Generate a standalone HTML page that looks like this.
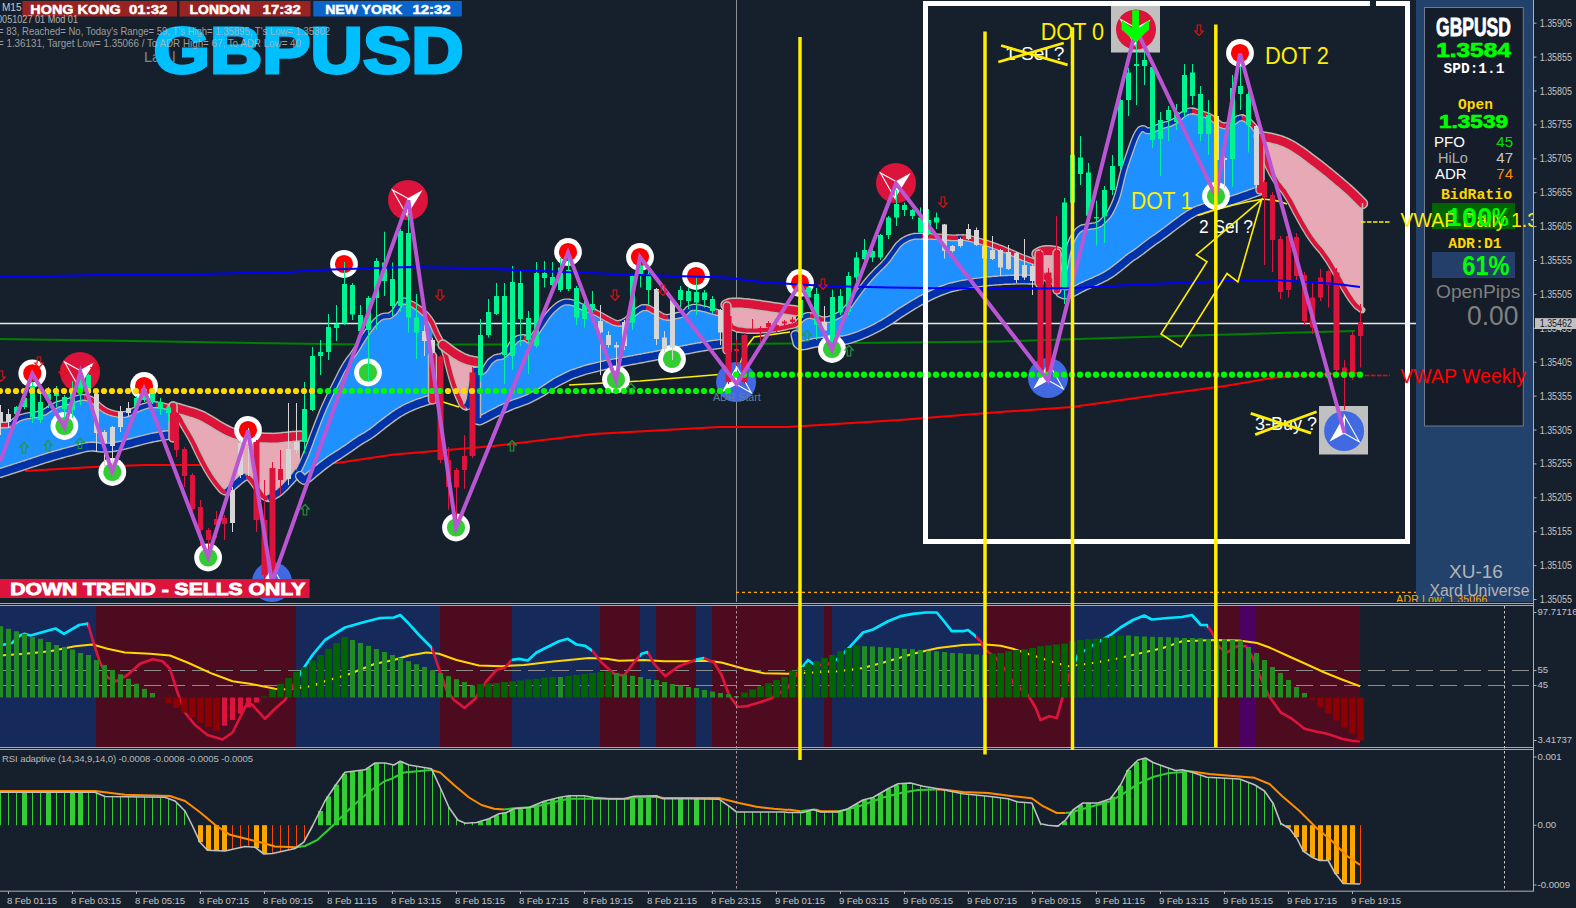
<!DOCTYPE html>
<html><head><meta charset="utf-8"><title>GBPUSD M15</title>
<style>html,body{margin:0;padding:0;background:#16202c;overflow:hidden}svg{display:block}text{white-space:pre}</style>
</head><body>
<svg width="1576" height="908" viewBox="0 0 1576 908">
<rect width="1576" height="908" fill="#16202c"/>
<rect x="1416" y="0" width="117" height="603" fill="#23426b"/>
<rect x="1424.5" y="7.5" width="98.8" height="418.5" fill="#141d29" stroke="#6f7c8a" stroke-width="1"/>
<line x1="0" y1="323.5" x2="1416" y2="323.5" stroke="#e8e8e8" stroke-width="1.3"/>
<line x1="736.5" y1="0" x2="736.5" y2="603" stroke="#8a8f96" stroke-width="1"/>
<line x1="736" y1="592.4" x2="1416" y2="592.4" stroke="#ffaa00" stroke-width="1.1" stroke-dasharray="3,3"/>
<polyline points="0.0,339.0 132.0,341.0 287.0,343.5 363.0,344.5 500.0,344.5 730.0,344.0 850.0,343.0 1000.0,341.5 1175.0,336.0 1355.0,331.0" fill="none" stroke="#008000" stroke-width="2"/>
<polyline points="25.0,471.0 93.0,467.0 145.0,465.0 197.0,465.0 300.0,464.0 337.0,463.0 394.0,454.5 494.0,446.0 594.0,434.0 719.0,427.0 788.0,427.0 900.0,420.0 1000.0,412.0 1072.0,407.0 1150.0,396.0 1225.0,386.0 1275.0,377.5 1325.0,374.0 1360.0,373.0" fill="none" stroke="#ff0000" stroke-width="2"/>
<polygon points="0.0,425.0 2.0,425.0 4.0,425.0 6.0,425.0 8.0,424.8 10.0,424.1 12.0,423.3 14.0,421.6 16.0,420.1 18.0,418.9 20.0,417.9 22.0,417.1 24.0,416.6 26.0,416.1 28.0,415.8 30.0,415.4 32.0,415.2 34.0,414.9 36.0,414.7 38.0,414.4 40.0,413.7 42.0,412.9 44.0,412.2 46.0,411.2 48.0,409.8 50.0,408.5 52.0,407.1 54.0,406.2 56.0,405.2 58.0,404.2 60.0,403.8 62.0,403.2 64.0,402.8 66.0,402.1 68.0,401.5 70.0,400.9 72.0,400.2 74.0,399.5 76.0,398.8 78.0,398.2 80.0,397.7 82.0,397.4 84.0,397.4 86.0,397.6 88.0,398.1 90.0,398.9 92.0,399.9 94.0,401.2 96.0,403.0 98.0,405.0 100.0,406.6 102.0,408.2 104.0,409.5 106.0,410.8 108.0,411.6 110.0,412.5 112.0,413.1 114.0,413.7 116.0,414.0 118.0,414.3 120.0,414.5 122.0,414.5 124.0,414.5 126.0,414.2 128.0,413.7 130.0,412.8 132.0,411.6 134.0,410.6 136.0,409.7 138.0,408.8 140.0,407.9 142.0,407.1 144.0,406.4 146.0,405.8 148.0,405.1 150.0,404.9 152.0,404.7 154.0,404.7 156.0,404.8 158.0,404.9 160.0,405.2 162.0,405.5 164.0,406.0 166.0,406.5 168.0,407.0 170.0,407.4 172.0,408.0 174.0,409.8 174.0,435.0 172.0,435.0 170.0,435.0 168.0,435.1 166.0,435.3 164.0,435.6 162.0,435.9 160.0,436.2 158.0,436.6 156.0,436.9 154.0,437.3 152.0,437.7 150.0,438.2 148.0,438.6 146.0,439.1 144.0,439.6 142.0,440.1 140.0,440.6 138.0,441.2 136.0,441.7 134.0,442.2 132.0,442.8 130.0,443.3 128.0,443.8 126.0,444.3 124.0,444.9 122.0,445.4 120.0,445.8 118.0,446.2 116.0,446.6 114.0,446.9 112.0,447.2 110.0,447.4 108.0,447.5 106.0,447.7 104.0,447.6 102.0,447.6 100.0,447.5 98.0,447.2 96.0,446.9 94.0,446.6 92.0,446.6 90.0,446.7 88.0,446.9 86.0,447.1 84.0,447.6 82.0,448.1 80.0,448.7 78.0,449.2 76.0,449.7 74.0,450.3 72.0,450.8 70.0,451.3 68.0,451.9 66.0,452.4 64.0,452.9 62.0,453.5 60.0,454.0 58.0,454.6 56.0,455.1 54.0,455.7 52.0,456.3 50.0,456.9 48.0,457.5 46.0,458.1 44.0,458.7 42.0,459.4 40.0,460.0 38.0,460.7 36.0,461.4 34.0,462.0 32.0,462.7 30.0,463.3 28.0,464.0 26.0,464.7 24.0,465.3 22.0,466.0 20.0,466.6 18.0,467.3 16.0,467.9 14.0,468.5 12.0,469.2 10.0,469.8 8.0,470.5 6.0,471.1 4.0,471.7 2.0,472.4 0.0,473.0" fill="#1e90ff"/>
<polygon points="300.0,467.5 302.0,463.4 304.0,458.9 306.0,454.1 308.0,449.0 310.0,443.8 312.0,438.2 314.0,432.9 316.0,427.7 318.0,422.5 320.0,417.5 322.0,412.5 324.0,407.9 326.0,403.4 328.0,399.0 330.0,395.0 332.0,391.0 334.0,387.0 336.0,383.0 338.0,379.0 340.0,375.0 342.0,371.0 344.0,367.5 346.0,364.2 348.0,361.1 350.0,358.5 352.0,355.9 354.0,353.0 356.0,350.0 358.0,346.9 360.0,343.5 362.0,340.1 364.0,337.0 366.0,334.0 368.0,331.1 370.0,328.5 372.0,325.9 374.0,323.6 376.0,321.3 378.0,319.4 380.0,317.7 382.0,316.9 384.0,316.2 386.0,316.0 388.0,316.0 390.0,315.6 392.0,314.0 394.0,312.4 396.0,309.6 398.0,306.4 400.0,303.5 402.0,301.7 404.0,300.8 406.0,301.6 408.0,302.5 410.0,303.3 412.0,304.2 414.0,305.2 416.0,306.6 418.0,308.0 420.0,309.4 422.0,311.1 424.0,312.9 426.0,314.6 428.0,317.1 430.0,319.8 432.0,322.9 432.5,324.1 432.5,399.0 432.0,399.1 430.0,399.6 428.0,400.2 426.0,400.8 424.0,401.5 422.0,402.2 420.0,402.8 418.0,403.5 416.0,404.3 414.0,405.1 412.0,405.9 410.0,406.8 408.0,407.7 406.0,408.6 404.0,409.6 402.0,410.8 400.0,412.0 398.0,413.2 396.0,414.5 394.0,415.9 392.0,417.4 390.0,418.9 388.0,420.3 386.0,421.9 384.0,423.4 382.0,424.9 380.0,426.5 378.0,428.1 376.0,429.7 374.0,431.3 372.0,432.7 370.0,434.1 368.0,435.5 366.0,436.7 364.0,437.8 362.0,438.9 360.0,440.2 358.0,441.5 356.0,442.8 354.0,444.2 352.0,445.6 350.0,447.1 348.0,448.5 346.0,449.8 344.0,451.2 342.0,452.5 340.0,453.8 338.0,455.1 336.0,456.4 334.0,457.6 332.0,458.9 330.0,460.2 328.0,461.7 326.0,463.1 324.0,464.6 322.0,466.1 320.0,467.8 318.0,469.4 316.0,471.1 314.0,472.7 312.0,474.4 310.0,476.0 308.0,477.7 306.0,479.3 304.0,479.8 302.0,478.5 300.0,476.0" fill="#1e90ff"/>
<polygon points="477.5,369.8 479.5,371.0 481.5,372.0 483.5,370.7 485.5,368.4 487.5,365.2 489.5,362.0 491.5,360.4 493.5,358.9 495.5,357.5 497.5,357.2 499.5,356.8 501.5,356.5 503.5,355.1 505.5,353.4 507.5,351.8 509.5,348.4 511.5,344.9 513.5,342.3 515.5,340.4 517.5,338.5 519.5,338.1 521.5,337.7 523.5,337.7 525.5,338.1 527.5,339.5 529.5,340.2 531.5,338.9 533.5,336.8 535.5,333.8 537.5,330.8 539.5,327.8 541.5,324.8 543.5,321.8 545.5,318.8 547.5,315.8 549.5,313.5 551.5,311.2 553.5,309.1 555.5,307.4 557.5,305.8 559.5,304.3 561.5,303.4 563.5,302.5 565.5,302.0 567.5,302.0 569.5,302.0 571.5,302.5 573.5,303.0 575.5,303.8 577.5,304.8 579.5,305.8 581.5,306.6 583.5,307.5 585.5,308.3 587.5,309.1 589.5,309.9 591.5,310.7 593.5,311.6 595.5,312.6 597.5,313.5 599.5,314.6 601.5,315.8 603.5,317.0 605.5,318.1 607.5,319.2 609.5,320.2 611.5,321.2 613.5,322.2 615.5,322.9 617.5,323.2 619.5,323.4 621.5,322.9 623.5,322.2 625.5,320.8 627.5,319.5 629.5,317.5 631.5,315.5 633.5,313.7 635.5,312.1 637.5,310.5 639.5,309.3 641.5,308.1 643.5,307.5 645.5,307.6 647.5,307.7 649.5,308.6 651.5,309.8 653.5,311.0 655.5,312.1 657.5,313.4 659.5,314.6 661.5,315.8 663.5,316.8 665.5,317.2 667.5,317.5 669.5,317.1 671.5,316.7 673.5,316.3 675.5,315.9 677.5,315.4 679.5,315.0 681.5,314.6 683.5,313.4 685.5,312.2 687.5,309.9 689.5,308.4 691.5,307.8 693.5,307.3 695.5,307.5 697.5,307.6 699.5,307.9 701.5,308.2 703.5,308.6 705.5,309.1 707.5,309.7 709.5,310.3 711.5,310.9 713.5,311.5 715.5,312.0 717.5,312.5 719.5,312.9 720.0,313.0 720.0,344.0 719.5,344.1 717.5,344.3 715.5,344.6 713.5,344.8 711.5,345.1 709.5,345.4 707.5,345.8 705.5,346.1 703.5,346.4 701.5,346.8 699.5,347.1 697.5,347.4 695.5,347.8 693.5,348.2 691.5,348.6 689.5,349.0 687.5,349.4 685.5,349.7 683.5,350.1 681.5,350.5 679.5,350.9 677.5,351.3 675.5,351.7 673.5,352.1 671.5,352.5 669.5,352.9 667.5,353.3 665.5,353.7 663.5,354.1 661.5,354.5 659.5,354.9 657.5,355.3 655.5,355.7 653.5,356.1 651.5,356.4 649.5,356.8 647.5,357.2 645.5,357.6 643.5,358.0 641.5,358.4 639.5,358.7 637.5,359.1 635.5,359.5 633.5,359.9 631.5,360.2 629.5,360.6 627.5,361.0 625.5,361.3 623.5,361.7 621.5,362.1 619.5,362.4 617.5,362.8 615.5,363.1 613.5,363.5 611.5,363.9 609.5,364.2 607.5,364.6 605.5,365.0 603.5,365.5 601.5,365.9 599.5,366.4 597.5,366.9 595.5,367.4 593.5,367.8 591.5,368.3 589.5,368.8 587.5,369.3 585.5,369.8 583.5,370.5 581.5,371.2 579.5,371.8 577.5,372.5 575.5,373.2 573.5,373.8 571.5,374.5 569.5,375.5 567.5,376.5 565.5,377.5 563.5,378.5 561.5,379.5 559.5,380.5 557.5,381.5 555.5,382.7 553.5,384.0 551.5,385.3 549.5,386.7 547.5,388.0 545.5,389.3 543.5,390.7 541.5,392.0 539.5,393.0 537.5,394.1 535.5,395.1 533.5,396.1 531.5,397.2 529.5,398.2 527.5,399.2 525.5,400.0 523.5,400.8 521.5,401.5 519.5,402.2 517.5,402.9 515.5,403.6 513.5,404.3 511.5,405.1 509.5,406.0 507.5,406.9 505.5,407.7 503.5,408.6 501.5,409.4 499.5,410.4 497.5,411.5 495.5,412.5 493.5,413.5 491.5,414.6 489.5,415.6 487.5,416.7 485.5,417.7 483.5,418.8 481.5,419.8 479.5,420.5 477.5,420.0" fill="#1e90ff"/>
<polygon points="795.5,324.7 797.5,322.9 799.5,321.0 801.5,319.0 803.5,317.3 805.5,316.3 807.5,315.5 809.5,315.5 811.5,315.6 813.5,316.2 815.5,316.8 817.5,317.8 819.5,318.8 821.5,319.6 823.5,319.7 825.5,319.8 827.5,319.8 829.5,319.1 831.5,318.4 833.5,317.7 835.5,316.8 837.5,315.8 839.5,314.7 841.5,313.2 843.5,311.8 845.5,309.7 847.5,307.5 849.5,305.1 851.5,302.2 853.5,299.4 855.5,296.7 857.5,293.9 859.5,291.2 861.5,288.6 863.5,285.9 865.5,283.3 867.5,280.9 869.5,278.5 871.5,276.3 873.5,274.2 875.5,272.1 877.5,270.1 879.5,268.1 881.5,266.2 883.5,264.4 885.5,262.1 887.5,259.8 889.5,257.0 891.5,254.2 893.5,251.4 895.5,248.6 897.5,245.9 899.5,243.8 901.5,242.1 903.5,240.6 905.5,239.5 907.5,238.4 909.5,237.6 911.5,237.0 913.5,236.4 915.5,236.3 917.5,236.2 919.5,236.1 921.5,236.2 923.5,236.2 925.5,236.2 927.5,236.3 929.5,236.4 931.5,236.5 933.5,236.6 935.5,236.7 937.5,236.8 939.5,236.9 941.5,237.0 943.5,237.1 945.5,237.3 947.5,237.4 949.5,237.6 951.5,237.7 953.5,237.8 955.5,237.8 957.5,237.9 959.5,237.8 961.5,237.7 963.5,237.7 965.5,237.9 967.5,238.1 969.5,238.5 971.5,239.0 973.5,239.5 975.5,240.1 977.5,240.6 979.5,241.2 981.5,241.7 983.5,242.3 985.5,242.8 987.5,243.5 989.5,244.1 991.5,244.8 993.5,245.5 995.5,246.2 997.5,247.0 999.5,247.8 1001.5,248.5 1003.5,249.3 1005.5,250.2 1007.5,251.0 1009.5,251.8 1011.5,252.7 1013.5,253.6 1015.5,254.5 1017.5,255.4 1019.5,256.3 1021.5,257.1 1023.5,257.9 1025.5,258.6 1027.5,259.4 1029.5,260.1 1031.5,260.8 1033.5,261.5 1035.5,262.2 1037.5,263.7 1038.0,264.3 1038.0,280.0 1037.5,280.0 1035.5,279.8 1033.5,279.6 1031.5,279.6 1029.5,279.6 1027.5,279.5 1025.5,279.5 1023.5,279.5 1021.5,279.5 1019.5,279.5 1017.5,279.5 1015.5,279.5 1013.5,279.6 1011.5,279.7 1009.5,279.8 1007.5,279.9 1005.5,279.9 1003.5,280.0 1001.5,280.2 999.5,280.3 997.5,280.5 995.5,280.6 993.5,280.8 991.5,281.0 989.5,281.1 987.5,281.3 985.5,281.6 983.5,281.8 981.5,282.0 979.5,282.3 977.5,282.5 975.5,282.7 973.5,283.1 971.5,283.4 969.5,283.7 967.5,284.0 965.5,284.3 963.5,284.6 961.5,285.0 959.5,285.4 957.5,285.9 955.5,286.3 953.5,286.8 951.5,287.2 949.5,287.8 947.5,288.5 945.5,289.2 943.5,289.9 941.5,290.6 939.5,291.4 937.5,292.2 935.5,293.1 933.5,294.0 931.5,295.0 929.5,295.9 927.5,296.9 925.5,297.9 923.5,299.0 921.5,300.0 919.5,301.2 917.5,302.3 915.5,303.5 913.5,304.7 911.5,305.9 909.5,307.1 907.5,308.3 905.5,309.6 903.5,310.8 901.5,312.1 899.5,313.4 897.5,314.8 895.5,316.1 893.5,317.6 891.5,318.9 889.5,320.2 887.5,321.5 885.5,322.7 883.5,323.9 881.5,325.0 879.5,326.1 877.5,327.2 875.5,328.2 873.5,329.2 871.5,330.2 869.5,331.2 867.5,332.1 865.5,333.0 863.5,333.8 861.5,334.7 859.5,335.5 857.5,336.2 855.5,336.9 853.5,337.6 851.5,338.2 849.5,338.9 847.5,339.4 845.5,339.8 843.5,340.2 841.5,340.4 839.5,340.6 837.5,340.8 835.5,340.9 833.5,341.0 831.5,341.2 829.5,341.3 827.5,341.4 825.5,341.5 823.5,341.6 821.5,341.8 819.5,342.1 817.5,342.4 815.5,342.7 813.5,343.0 811.5,343.5 809.5,344.0 807.5,344.5 805.5,345.0 803.5,345.2 801.5,345.4 799.5,345.0 797.5,343.2 795.5,335.0" fill="#1e90ff"/>
<polygon points="1060.5,289.2 1062.5,278.2 1064.5,267.5 1066.5,257.5 1068.5,249.8 1070.5,243.6 1072.5,238.8 1074.5,235.1 1076.5,232.3 1078.5,229.9 1080.5,228.7 1082.5,227.6 1084.5,227.3 1086.5,227.0 1088.5,226.7 1090.5,226.3 1092.5,226.0 1094.5,225.7 1096.5,225.3 1098.5,224.4 1100.5,223.3 1102.5,221.4 1104.5,219.4 1106.5,217.4 1108.5,215.1 1110.5,212.1 1112.5,208.0 1114.5,203.6 1116.5,198.8 1118.5,192.0 1120.5,183.5 1122.5,175.1 1124.5,167.9 1126.5,162.0 1128.5,156.3 1130.5,150.6 1132.5,144.9 1134.5,139.2 1136.5,135.1 1138.5,131.7 1140.5,129.0 1142.5,128.5 1144.5,129.1 1146.5,130.8 1148.5,130.8 1150.5,130.8 1152.5,129.8 1154.5,128.8 1156.5,127.9 1158.5,127.1 1160.5,126.4 1162.5,125.7 1164.5,125.1 1166.5,124.5 1168.5,123.9 1170.5,123.3 1172.5,122.3 1174.5,121.3 1176.5,120.3 1178.5,118.5 1180.5,116.5 1182.5,114.9 1184.5,113.4 1186.5,112.2 1188.5,111.2 1190.5,111.0 1192.5,111.0 1194.5,111.2 1196.5,111.8 1198.5,112.5 1200.5,113.2 1202.5,113.9 1204.5,114.6 1206.5,115.3 1208.5,116.1 1210.5,117.2 1212.5,118.5 1214.5,119.9 1216.5,121.6 1218.5,123.2 1220.5,124.7 1222.5,125.4 1224.5,126.1 1226.5,125.7 1228.5,124.9 1230.5,123.9 1232.5,122.7 1234.5,121.3 1236.5,119.7 1238.5,118.5 1240.5,117.8 1242.5,117.8 1244.5,118.5 1246.5,119.7 1248.5,121.1 1250.5,122.9 1252.5,124.9 1254.5,127.2 1256.5,130.2 1258.5,134.7 1259.0,136.1 1259.0,191.0 1258.5,191.2 1256.5,191.8 1254.5,192.5 1252.5,193.2 1250.5,193.9 1248.5,194.7 1246.5,195.4 1244.5,196.1 1242.5,196.8 1240.5,197.5 1238.5,198.2 1236.5,198.8 1234.5,199.5 1232.5,200.1 1230.5,200.7 1228.5,201.3 1226.5,201.8 1224.5,202.4 1222.5,202.9 1220.5,203.5 1218.5,204.0 1216.5,204.5 1214.5,205.1 1212.5,205.6 1210.5,206.1 1208.5,206.7 1206.5,207.4 1204.5,208.0 1202.5,208.7 1200.5,209.4 1198.5,210.1 1196.5,210.8 1194.5,211.8 1192.5,212.9 1190.5,214.0 1188.5,215.1 1186.5,216.5 1184.5,217.9 1182.5,219.3 1180.5,220.8 1178.5,222.2 1176.5,223.7 1174.5,225.2 1172.5,226.7 1170.5,228.2 1168.5,229.8 1166.5,231.3 1164.5,232.8 1162.5,234.3 1160.5,235.7 1158.5,237.2 1156.5,238.6 1154.5,239.9 1152.5,241.3 1150.5,242.8 1148.5,244.3 1146.5,245.8 1144.5,247.3 1142.5,248.9 1140.5,250.5 1138.5,252.0 1136.5,253.4 1134.5,254.9 1132.5,256.0 1130.5,257.4 1128.5,258.9 1126.5,260.6 1124.5,262.3 1122.5,264.0 1120.5,265.6 1118.5,267.2 1116.5,268.7 1114.5,270.3 1112.5,271.8 1110.5,273.1 1108.5,274.4 1106.5,275.6 1104.5,276.8 1102.5,277.8 1100.5,278.8 1098.5,279.7 1096.5,280.6 1094.5,281.6 1092.5,282.5 1090.5,283.3 1088.5,284.2 1086.5,285.0 1084.5,286.0 1082.5,286.9 1080.5,287.9 1078.5,289.0 1076.5,290.1 1074.5,291.1 1072.5,292.1 1070.5,293.0 1068.5,293.9 1066.5,294.2 1064.5,294.5 1062.5,293.7 1060.5,293.0" fill="#1e90ff"/>
<polygon points="173.0,407.0 175.0,407.6 177.0,408.2 179.0,408.8 181.0,409.4 183.0,410.0 185.0,410.6 187.0,411.2 189.0,411.8 191.0,412.4 193.0,412.9 195.0,413.5 197.0,414.3 199.0,415.1 201.0,415.9 203.0,416.8 205.0,417.9 207.0,419.1 209.0,420.2 211.0,421.4 213.0,422.6 215.0,423.9 217.0,425.1 219.0,426.3 221.0,427.5 223.0,428.6 225.0,429.7 227.0,430.7 229.0,431.7 231.0,432.5 233.0,433.3 235.0,434.1 237.0,434.7 239.0,435.4 241.0,435.9 243.0,436.4 245.0,436.8 247.0,437.3 249.0,437.5 251.0,437.7 253.0,437.9 255.0,438.0 257.0,438.0 259.0,438.0 261.0,438.0 263.0,438.0 265.0,438.1 267.0,438.1 269.0,438.2 271.0,438.3 273.0,438.4 275.0,438.3 277.0,438.2 279.0,438.0 281.0,437.8 283.0,437.5 285.0,437.3 287.0,437.1 289.0,436.9 291.0,436.7 293.0,436.5 295.0,436.4 297.0,436.2 299.0,436.1 300.0,436.0 300.0,467.5 299.0,469.5 297.0,472.8 295.0,475.5 293.0,478.0 291.0,480.3 289.0,482.5 287.0,484.6 285.0,486.7 283.0,488.6 281.0,490.5 279.0,492.1 277.0,493.6 275.0,494.8 273.0,496.0 271.0,497.0 269.0,498.0 267.0,498.5 265.0,497.5 263.0,496.5 261.0,494.0 259.0,491.0 257.0,488.1 255.0,485.3 253.0,482.5 251.0,480.0 249.0,477.5 247.0,476.8 245.0,476.4 243.0,477.9 241.0,479.4 239.0,480.9 237.0,482.6 235.0,484.4 233.0,486.2 231.0,488.1 229.0,490.0 227.0,492.0 225.0,492.0 223.0,491.8 221.0,489.5 219.0,487.2 217.0,484.7 215.0,482.1 213.0,479.2 211.0,476.3 209.0,473.2 207.0,469.9 205.0,466.4 203.0,462.6 201.0,458.8 199.0,454.8 197.0,450.6 195.0,446.4 193.0,442.4 191.0,438.6 189.0,435.0 187.0,431.7 185.0,428.3 183.0,424.8 181.0,421.0 179.0,417.3 177.0,414.0 175.0,411.0 173.0,408.9" fill="#e6a9b5"/>
<polygon points="443.0,345.0 445.0,346.5 447.0,348.0 449.0,349.5 451.0,351.0 453.0,352.5 455.0,353.8 457.0,355.0 459.0,356.2 461.0,357.3 463.0,358.4 465.0,359.1 467.0,359.9 469.0,360.5 471.0,360.9 473.0,361.3 475.0,361.6 477.0,362.0 477.0,370.1 475.0,373.0 473.0,380.5 471.0,394.7 469.0,402.8 467.0,406.0 465.0,407.1 463.0,405.6 461.0,402.6 459.0,398.3 457.0,393.5 455.0,388.3 453.0,382.2 451.0,375.7 449.0,368.3 447.0,360.0 445.0,352.0 443.0,346.2" fill="#e6a9b5"/>
<polygon points="726.0,305.0 728.0,304.2 730.0,303.5 732.0,303.3 734.0,303.2 736.0,303.2 738.0,303.2 740.0,303.3 742.0,303.4 744.0,303.6 746.0,303.8 748.0,303.9 750.0,304.2 752.0,304.4 754.0,304.7 756.0,305.0 758.0,305.2 760.0,305.5 762.0,305.8 764.0,306.1 766.0,306.4 768.0,306.7 770.0,307.0 772.0,307.3 774.0,307.6 776.0,307.9 778.0,308.2 780.0,308.5 782.0,308.8 784.0,309.1 786.0,309.4 788.0,309.8 790.0,310.1 792.0,310.4 794.0,310.7 796.0,311.0 796.0,324.3 794.0,325.2 792.0,325.6 790.0,326.0 788.0,326.5 786.0,326.9 784.0,327.4 782.0,327.8 780.0,328.3 778.0,328.5 776.0,328.8 774.0,329.1 772.0,329.3 770.0,329.6 768.0,329.7 766.0,329.9 764.0,330.0 762.0,330.2 760.0,330.4 758.0,330.5 756.0,330.5 754.0,330.5 752.0,330.5 750.0,330.5 748.0,330.5 746.0,330.4 744.0,330.2 742.0,329.9 740.0,329.7 738.0,329.5 736.0,328.7 734.0,327.8 732.0,326.9 730.0,323.6 728.0,319.9 726.0,316.0" fill="#e6a9b5"/>
<polygon points="1037.0,254.0 1039.0,252.8 1041.0,251.7 1043.0,251.1 1045.0,250.8 1047.0,250.7 1049.0,250.7 1051.0,250.8 1053.0,251.1 1055.0,251.4 1057.0,251.8 1058.0,252.0 1058.0,289.0 1057.0,287.0 1055.0,283.0 1053.0,281.4 1051.0,280.6 1049.0,280.3 1047.0,279.0 1045.0,277.3 1043.0,274.7 1041.0,271.2 1039.0,266.0 1037.0,263.1" fill="#e6a9b5"/>
<polygon points="1259.0,136.0 1261.0,136.4 1263.0,136.8 1265.0,137.1 1267.0,137.5 1269.0,137.9 1271.0,138.2 1273.0,138.8 1275.0,139.2 1277.0,139.8 1279.0,140.3 1281.0,141.0 1283.0,141.7 1285.0,142.5 1287.0,143.4 1289.0,144.4 1291.0,145.5 1293.0,146.7 1295.0,147.9 1297.0,149.2 1299.0,150.5 1301.0,151.9 1303.0,153.2 1305.0,154.8 1307.0,156.2 1309.0,157.8 1311.0,159.3 1313.0,160.8 1315.0,162.3 1317.0,163.8 1319.0,165.4 1321.0,166.9 1323.0,168.5 1325.0,170.1 1327.0,171.7 1329.0,173.3 1331.0,175.0 1333.0,176.7 1335.0,178.3 1337.0,180.0 1339.0,181.7 1341.0,183.4 1343.0,185.1 1345.0,186.8 1347.0,188.5 1349.0,190.3 1351.0,192.2 1353.0,194.0 1355.0,196.0 1357.0,198.0 1359.0,200.0 1361.0,202.0 1362.5,203.5 1362.5,310.0 1361.0,309.3 1359.0,307.9 1357.0,306.4 1355.0,304.2 1353.0,301.8 1351.0,299.0 1349.0,296.0 1347.0,292.9 1345.0,289.6 1343.0,286.2 1341.0,282.5 1339.0,278.8 1337.0,275.2 1335.0,271.8 1333.0,268.3 1331.0,265.0 1329.0,261.7 1327.0,258.6 1325.0,255.8 1323.0,253.0 1321.0,250.4 1319.0,248.1 1317.0,245.8 1315.0,243.4 1313.0,240.6 1311.0,237.8 1309.0,235.0 1307.0,231.7 1305.0,228.3 1303.0,225.0 1301.0,221.4 1299.0,217.8 1297.0,214.2 1295.0,210.4 1293.0,206.5 1291.0,202.7 1289.0,199.2 1287.0,196.1 1285.0,192.8 1283.0,190.0 1281.0,187.5 1279.0,185.0 1277.0,182.2 1275.0,179.0 1273.0,175.8 1271.0,172.0 1269.0,168.0 1267.0,163.6 1265.0,157.8 1263.0,151.3 1261.0,142.7 1259.0,136.1" fill="#e6a9b5"/>
<polyline points="0.0,425.0 2.0,425.0 4.0,425.0 6.0,425.0 8.0,424.8 10.0,424.1" fill="none" stroke="#bdb8b0" stroke-width="6.8" stroke-linejoin="round" stroke-linecap="round"/>
<polyline points="10.0,424.1 12.0,423.3 14.0,421.6 16.0,420.1 18.0,418.9 20.0,417.9 22.0,417.1 24.0,416.6 26.0,416.1 28.0,415.8 30.0,415.4 32.0,415.2 34.0,414.9 36.0,414.7 38.0,414.4 40.0,413.7 42.0,412.9 44.0,412.2 46.0,411.2 48.0,409.8 50.0,408.5 52.0,407.1 54.0,406.2 56.0,405.2 58.0,404.2 60.0,403.8 62.0,403.2 64.0,402.8 66.0,402.1 68.0,401.5 70.0,400.9 72.0,400.2 74.0,399.5 76.0,398.8 78.0,398.2 80.0,397.7 82.0,397.4 84.0,397.4" fill="none" stroke="#bdb8b0" stroke-width="7.1" stroke-linejoin="round" stroke-linecap="round"/>
<polyline points="84.0,397.4 86.0,397.6 88.0,398.1 90.0,398.9 92.0,399.9 94.0,401.2 96.0,403.0 98.0,405.0 100.0,406.6 102.0,408.2 104.0,409.5 106.0,410.8 108.0,411.6 110.0,412.5 112.0,413.1 114.0,413.7 116.0,414.0 118.0,414.3 120.0,414.5 122.0,414.5" fill="none" stroke="#bdb8b0" stroke-width="6.8" stroke-linejoin="round" stroke-linecap="round"/>
<polyline points="122.0,414.5 124.0,414.5 126.0,414.2 128.0,413.7 130.0,412.8 132.0,411.6 134.0,410.6 136.0,409.7 138.0,408.8 140.0,407.9 142.0,407.1 144.0,406.4 146.0,405.8 148.0,405.1 150.0,404.9 152.0,404.7 154.0,404.7 156.0,404.8" fill="none" stroke="#bdb8b0" stroke-width="7.1" stroke-linejoin="round" stroke-linecap="round"/>
<polyline points="156.0,404.8 158.0,404.9 160.0,405.2 162.0,405.5 164.0,406.0 166.0,406.5 168.0,407.0 170.0,407.4 172.0,408.0 174.0,409.8 176.0,412.5 178.0,415.6 180.0,419.0 182.0,423.0 184.0,426.5 186.0,430.0 188.0,433.3 190.0,436.7 192.0,440.5 194.0,444.2 196.0,448.5 198.0,452.8 200.0,456.8 202.0,460.8 204.0,464.5 206.0,468.2 208.0,471.5 210.0,474.8 212.0,477.8 214.0,480.7 216.0,483.4 218.0,486.0 220.0,488.4 222.0,490.6 224.0,491.9 226.0,492.1" fill="none" stroke="#bdb8b0" stroke-width="6.8" stroke-linejoin="round" stroke-linecap="round"/>
<polyline points="226.0,492.1 228.0,491.0 230.0,489.0 232.0,487.1 234.0,485.2 236.0,483.5 238.0,481.8 240.0,480.1 242.0,478.6 244.0,477.1 246.0,476.5" fill="none" stroke="#bdb8b0" stroke-width="7.1" stroke-linejoin="round" stroke-linecap="round"/>
<polyline points="246.0,476.5 248.0,477.2 250.0,478.8 252.0,481.2 254.0,483.9 256.0,486.7 258.0,489.5 260.0,492.5 262.0,495.5 264.0,497.0 266.0,498.0 268.0,498.5" fill="none" stroke="#bdb8b0" stroke-width="6.8" stroke-linejoin="round" stroke-linecap="round"/>
<polyline points="268.0,498.5 270.0,497.5 272.0,496.5 274.0,495.4 276.0,494.2 278.0,492.9 280.0,491.4 282.0,489.6 284.0,487.7 286.0,485.7 288.0,483.5 290.0,481.4 292.0,479.2 294.0,476.8 296.0,474.3 298.0,471.2 300.0,467.5 302.0,463.4 304.0,458.9 306.0,454.1 308.0,449.0 310.0,443.8 312.0,438.2 314.0,432.9 316.0,427.7 318.0,422.5 320.0,417.5 322.0,412.5 324.0,407.9 326.0,403.4 328.0,399.0 330.0,395.0 332.0,391.0 334.0,387.0 336.0,383.0 338.0,379.0 340.0,375.0 342.0,371.0 344.0,367.5 346.0,364.2 348.0,361.1 350.0,358.5 352.0,355.9 354.0,353.0 356.0,350.0 358.0,346.9 360.0,343.5 362.0,340.1 364.0,337.0 366.0,334.0 368.0,331.1 370.0,328.5 372.0,325.9 374.0,323.6 376.0,321.3 378.0,319.4 380.0,317.7 382.0,316.9 384.0,316.2 386.0,316.0 388.0,316.0 390.0,315.6 392.0,314.0 394.0,312.4 396.0,309.6 398.0,306.4 400.0,303.5 402.0,301.7 404.0,300.8 406.0,301.6" fill="none" stroke="#bdb8b0" stroke-width="7.1" stroke-linejoin="round" stroke-linecap="round"/>
<polyline points="406.0,301.6 408.0,302.5 410.0,303.3 412.0,304.2 414.0,305.2 416.0,306.6 418.0,308.0 420.0,309.4 422.0,311.1 424.0,312.9 426.0,314.6 428.0,317.1 430.0,319.8 432.0,322.9 434.0,327.7 436.0,332.3 438.0,336.4 440.0,340.1 442.0,343.6 444.0,349.1 446.0,355.7 448.0,364.3 450.0,372.0 452.0,379.2 454.0,385.3 456.0,390.9 458.0,396.0 460.0,400.5 462.0,404.7 464.0,406.4 466.0,407.0" fill="none" stroke="#bdb8b0" stroke-width="6.8" stroke-linejoin="round" stroke-linecap="round"/>
<polyline points="466.0,407.0 468.0,405.0 470.0,399.3 472.0,386.3 474.0,375.5 476.0,370.5 478.0,369.6 480.0,371.6 482.0,371.7 484.0,370.3 486.0,367.6 488.0,364.4 490.0,361.6 492.0,360.0 494.0,358.5 496.0,357.4 498.0,357.1 500.0,356.8 502.0,356.3 504.0,354.6 506.0,353.0 508.0,350.9 510.0,347.5 512.0,344.1 514.0,341.8 516.0,339.9 518.0,338.4 520.0,338.0 522.0,337.6 524.0,337.8" fill="none" stroke="#bdb8b0" stroke-width="7.1" stroke-linejoin="round" stroke-linecap="round"/>
<polyline points="524.0,337.8 526.0,338.2 528.0,340.0 530.0,339.9" fill="none" stroke="#bdb8b0" stroke-width="6.8" stroke-linejoin="round" stroke-linecap="round"/>
<polyline points="530.0,339.9 532.0,338.6 534.0,336.0 536.0,333.0 538.0,330.0 540.0,327.0 542.0,324.0 544.0,321.0 546.0,318.0 548.0,315.2 550.0,312.9 552.0,310.6 554.0,308.7 556.0,307.0 558.0,305.3 560.0,304.0 562.0,303.1 564.0,302.2 566.0,302.0 568.0,302.0 570.0,302.1 572.0,302.6 574.0,303.1 576.0,304.0 578.0,305.0 580.0,306.0 582.0,306.8 584.0,307.7 586.0,308.5 588.0,309.3 590.0,310.1 592.0,310.9 594.0,311.8" fill="none" stroke="#bdb8b0" stroke-width="7.1" stroke-linejoin="round" stroke-linecap="round"/>
<polyline points="594.0,311.8 596.0,312.8 598.0,313.8 600.0,314.9 602.0,316.1 604.0,317.2 606.0,318.3 608.0,319.4 610.0,320.5 612.0,321.5 614.0,322.5 616.0,323.0 618.0,323.3 620.0,323.2" fill="none" stroke="#bdb8b0" stroke-width="6.8" stroke-linejoin="round" stroke-linecap="round"/>
<polyline points="620.0,323.2 622.0,322.8 624.0,321.8 626.0,320.5 628.0,319.0 630.0,317.0 632.0,315.0 634.0,313.3 636.0,311.7 638.0,310.2 640.0,309.0 642.0,307.8 644.0,307.6 646.0,307.7" fill="none" stroke="#bdb8b0" stroke-width="7.1" stroke-linejoin="round" stroke-linecap="round"/>
<polyline points="646.0,307.7 648.0,307.8 650.0,308.9 652.0,310.1 654.0,311.2 656.0,312.4 658.0,313.6 660.0,314.9 662.0,316.1 664.0,316.9 666.0,317.2 668.0,317.4" fill="none" stroke="#bdb8b0" stroke-width="6.8" stroke-linejoin="round" stroke-linecap="round"/>
<polyline points="668.0,317.4 670.0,317.0 672.0,316.6 674.0,316.2 676.0,315.8 678.0,315.3 680.0,314.9 682.0,314.4 684.0,313.1 686.0,311.7 688.0,309.3 690.0,308.2 692.0,307.6 694.0,307.3 696.0,307.5 698.0,307.7 700.0,307.9 702.0,308.4 704.0,308.8 706.0,309.2 708.0,309.8 710.0,310.5 712.0,311.1 714.0,311.6 716.0,312.1" fill="none" stroke="#bdb8b0" stroke-width="7.1" stroke-linejoin="round" stroke-linecap="round"/>
<polyline points="716.0,312.1 718.0,312.6 720.0,313.0 722.0,313.4 724.0,314.4 726.0,316.0 728.0,319.9 730.0,323.6 732.0,326.9 734.0,327.8 736.0,328.7 738.0,329.5 740.0,329.7 742.0,329.9 744.0,330.2 746.0,330.4 748.0,330.5 750.0,330.5 752.0,330.5 754.0,330.5 756.0,330.5 758.0,330.5 760.0,330.4 762.0,330.2 764.0,330.0 766.0,329.9 768.0,329.7 770.0,329.6 772.0,329.3 774.0,329.1 776.0,328.8 778.0,328.5 780.0,328.3 782.0,327.8 784.0,327.4 786.0,326.9 788.0,326.5 790.0,326.0 792.0,325.6 794.0,325.2 796.0,324.3 798.0,322.5" fill="none" stroke="#bdb8b0" stroke-width="6.8" stroke-linejoin="round" stroke-linecap="round"/>
<polyline points="798.0,322.5 800.0,320.5 802.0,318.5 804.0,317.0 806.0,316.0 808.0,315.5 810.0,315.5" fill="none" stroke="#bdb8b0" stroke-width="7.1" stroke-linejoin="round" stroke-linecap="round"/>
<polyline points="810.0,315.5 812.0,315.8 814.0,316.4 816.0,317.0 818.0,318.0 820.0,319.0 822.0,319.7 824.0,319.7 826.0,319.8" fill="none" stroke="#bdb8b0" stroke-width="6.8" stroke-linejoin="round" stroke-linecap="round"/>
<polyline points="826.0,319.8 828.0,319.6 830.0,318.9 832.0,318.2 834.0,317.5 836.0,316.5 838.0,315.5 840.0,314.3 842.0,312.9 844.0,311.4 846.0,309.1 848.0,306.9 850.0,304.4 852.0,301.5 854.0,298.7 856.0,296.0 858.0,293.3 860.0,290.5 862.0,287.9 864.0,285.3 866.0,282.7 868.0,280.3 870.0,277.9 872.0,275.8 874.0,273.7 876.0,271.6 878.0,269.6 880.0,267.7 882.0,265.8 884.0,263.8 886.0,261.5 888.0,259.1 890.0,256.3 892.0,253.5 894.0,250.7 896.0,247.9 898.0,245.2 900.0,243.4 902.0,241.6 904.0,240.3 906.0,239.2 908.0,238.1 910.0,237.5 912.0,236.9 914.0,236.4 916.0,236.3 918.0,236.2 920.0,236.1 922.0,236.2" fill="none" stroke="#bdb8b0" stroke-width="7.1" stroke-linejoin="round" stroke-linecap="round"/>
<polyline points="922.0,236.2 924.0,236.2 926.0,236.2 928.0,236.3 930.0,236.4 932.0,236.5 934.0,236.6 936.0,236.7 938.0,236.8 940.0,236.9 942.0,237.1 944.0,237.2 946.0,237.3 948.0,237.5 950.0,237.6 952.0,237.8 954.0,237.8 956.0,237.8 958.0,237.9" fill="none" stroke="#bdb8b0" stroke-width="6.8" stroke-linejoin="round" stroke-linecap="round"/>
<polyline points="958.0,237.9 960.0,237.8 962.0,237.7" fill="none" stroke="#bdb8b0" stroke-width="7.1" stroke-linejoin="round" stroke-linecap="round"/>
<polyline points="962.0,237.7 964.0,237.7 966.0,237.9 968.0,238.2 970.0,238.6 972.0,239.1 974.0,239.7 976.0,240.2 978.0,240.8 980.0,241.3 982.0,241.9 984.0,242.4 986.0,243.0 988.0,243.6 990.0,244.3 992.0,245.0 994.0,245.7 996.0,246.4 998.0,247.2 1000.0,247.9 1002.0,248.7 1004.0,249.5 1006.0,250.4 1008.0,251.2 1010.0,252.1 1012.0,252.9 1014.0,253.8 1016.0,254.7 1018.0,255.6 1020.0,256.5 1022.0,257.3 1024.0,258.1 1026.0,258.8 1028.0,259.5 1030.0,260.3 1032.0,261.0 1034.0,261.7 1036.0,262.3 1038.0,264.3 1040.0,269.0 1042.0,273.1 1044.0,276.0 1046.0,278.3 1048.0,279.7 1050.0,280.4 1052.0,280.7 1054.0,282.2 1056.0,285.0 1058.0,289.0" fill="none" stroke="#bdb8b0" stroke-width="6.8" stroke-linejoin="round" stroke-linecap="round"/>
<polyline points="1058.0,289.0 1060.0,290.6 1062.0,281.0 1064.0,270.1 1066.0,260.0 1068.0,251.6 1070.0,244.9 1072.0,239.8 1074.0,236.1 1076.0,232.9 1078.0,230.5 1080.0,229.0 1082.0,227.8 1084.0,227.4 1086.0,227.1 1088.0,226.7 1090.0,226.4 1092.0,226.1 1094.0,225.8 1096.0,225.4 1098.0,224.7 1100.0,223.8 1102.0,221.9 1104.0,219.9 1106.0,217.9 1108.0,215.8 1110.0,212.8 1112.0,209.0 1114.0,204.7 1116.0,200.0 1118.0,193.8 1120.0,185.8 1122.0,176.9 1124.0,169.7 1126.0,163.4 1128.0,157.7 1130.0,152.0 1132.0,146.3 1134.0,140.7 1136.0,136.1 1138.0,132.3 1140.0,129.7 1142.0,128.6 1144.0,128.7 1146.0,130.3 1148.0,130.8 1150.0,130.8 1152.0,130.0 1154.0,129.0 1156.0,128.1 1158.0,127.3 1160.0,126.6 1162.0,125.8 1164.0,125.2 1166.0,124.6 1168.0,124.1 1170.0,123.5 1172.0,122.6 1174.0,121.6 1176.0,120.5 1178.0,119.0 1180.0,117.0 1182.0,115.2 1184.0,113.8 1186.0,112.5 1188.0,111.5 1190.0,111.0 1192.0,111.0" fill="none" stroke="#bdb8b0" stroke-width="7.1" stroke-linejoin="round" stroke-linecap="round"/>
<polyline points="1192.0,111.0 1194.0,111.0 1196.0,111.7 1198.0,112.3 1200.0,113.0 1202.0,113.7 1204.0,114.4 1206.0,115.1 1208.0,115.9 1210.0,116.9 1212.0,118.2 1214.0,119.5 1216.0,121.2 1218.0,122.8 1220.0,124.5 1222.0,125.2 1224.0,125.9 1226.0,125.9" fill="none" stroke="#bdb8b0" stroke-width="6.8" stroke-linejoin="round" stroke-linecap="round"/>
<polyline points="1226.0,125.9 1228.0,125.1 1230.0,124.2 1232.0,123.0 1234.0,121.7 1236.0,120.1 1238.0,118.7 1240.0,118.0 1242.0,117.7" fill="none" stroke="#bdb8b0" stroke-width="7.1" stroke-linejoin="round" stroke-linecap="round"/>
<polyline points="1242.0,117.7 1244.0,118.3 1246.0,119.4 1248.0,120.7 1250.0,122.4 1252.0,124.4 1254.0,126.7 1256.0,129.5 1258.0,133.2 1260.0,139.0 1262.0,147.0 1264.0,154.9 1266.0,160.7 1268.0,166.0 1270.0,170.0 1272.0,174.0 1274.0,177.4 1276.0,180.6 1278.0,183.8 1280.0,186.2 1282.0,188.8 1284.0,191.2 1286.0,194.4 1288.0,197.7 1290.0,200.8 1292.0,204.6 1294.0,208.5 1296.0,212.3 1298.0,216.0 1300.0,219.6 1302.0,223.2 1304.0,226.7 1306.0,230.0 1308.0,233.3 1310.0,236.4 1312.0,239.2 1314.0,242.0 1316.0,244.6 1318.0,246.9 1320.0,249.2 1322.0,251.6 1324.0,254.4 1326.0,257.2 1328.0,260.0 1330.0,263.3 1332.0,266.7 1334.0,270.0 1336.0,273.5 1338.0,277.0 1340.0,280.6 1342.0,284.4 1344.0,287.9 1346.0,291.2 1348.0,294.5 1350.0,297.5 1352.0,300.5 1354.0,303.0 1356.0,305.4 1358.0,307.1 1360.0,308.6 1362.0,310.0" fill="none" stroke="#bdb8b0" stroke-width="6.8" stroke-linejoin="round" stroke-linecap="round"/>
<polyline points="0.0,425.0 2.0,425.0 4.0,425.0 6.0,425.0 8.0,424.8 10.0,424.1" fill="none" stroke="#dc143c" stroke-width="4.2" stroke-linejoin="round" stroke-linecap="butt"/>
<polyline points="10.0,424.1 12.0,423.3 14.0,421.6 16.0,420.1 18.0,418.9 20.0,417.9 22.0,417.1 24.0,416.6 26.0,416.1 28.0,415.8 30.0,415.4 32.0,415.2 34.0,414.9 36.0,414.7 38.0,414.4 40.0,413.7 42.0,412.9 44.0,412.2 46.0,411.2 48.0,409.8 50.0,408.5 52.0,407.1 54.0,406.2 56.0,405.2 58.0,404.2 60.0,403.8 62.0,403.2 64.0,402.8 66.0,402.1 68.0,401.5 70.0,400.9 72.0,400.2 74.0,399.5 76.0,398.8 78.0,398.2 80.0,397.7 82.0,397.4 84.0,397.4" fill="none" stroke="#0033a8" stroke-width="4.4" stroke-linejoin="round" stroke-linecap="butt"/>
<polyline points="84.0,397.4 86.0,397.6 88.0,398.1 90.0,398.9 92.0,399.9 94.0,401.2 96.0,403.0 98.0,405.0 100.0,406.6 102.0,408.2 104.0,409.5 106.0,410.8 108.0,411.6 110.0,412.5 112.0,413.1 114.0,413.7 116.0,414.0 118.0,414.3 120.0,414.5 122.0,414.5" fill="none" stroke="#dc143c" stroke-width="4.2" stroke-linejoin="round" stroke-linecap="butt"/>
<polyline points="122.0,414.5 124.0,414.5 126.0,414.2 128.0,413.7 130.0,412.8 132.0,411.6 134.0,410.6 136.0,409.7 138.0,408.8 140.0,407.9 142.0,407.1 144.0,406.4 146.0,405.8 148.0,405.1 150.0,404.9 152.0,404.7 154.0,404.7 156.0,404.8" fill="none" stroke="#0033a8" stroke-width="4.4" stroke-linejoin="round" stroke-linecap="butt"/>
<polyline points="156.0,404.8 158.0,404.9 160.0,405.2 162.0,405.5 164.0,406.0 166.0,406.5 168.0,407.0 170.0,407.4 172.0,408.0 174.0,409.8 176.0,412.5 178.0,415.6 180.0,419.0 182.0,423.0 184.0,426.5 186.0,430.0 188.0,433.3 190.0,436.7 192.0,440.5 194.0,444.2 196.0,448.5 198.0,452.8 200.0,456.8 202.0,460.8 204.0,464.5 206.0,468.2 208.0,471.5 210.0,474.8 212.0,477.8 214.0,480.7 216.0,483.4 218.0,486.0 220.0,488.4 222.0,490.6 224.0,491.9 226.0,492.1" fill="none" stroke="#dc143c" stroke-width="4.2" stroke-linejoin="round" stroke-linecap="butt"/>
<polyline points="226.0,492.1 228.0,491.0 230.0,489.0 232.0,487.1 234.0,485.2 236.0,483.5 238.0,481.8 240.0,480.1 242.0,478.6 244.0,477.1 246.0,476.5" fill="none" stroke="#0033a8" stroke-width="4.4" stroke-linejoin="round" stroke-linecap="butt"/>
<polyline points="246.0,476.5 248.0,477.2 250.0,478.8 252.0,481.2 254.0,483.9 256.0,486.7 258.0,489.5 260.0,492.5 262.0,495.5 264.0,497.0 266.0,498.0 268.0,498.5" fill="none" stroke="#dc143c" stroke-width="4.2" stroke-linejoin="round" stroke-linecap="butt"/>
<polyline points="268.0,498.5 270.0,497.5 272.0,496.5 274.0,495.4 276.0,494.2 278.0,492.9 280.0,491.4 282.0,489.6 284.0,487.7 286.0,485.7 288.0,483.5 290.0,481.4 292.0,479.2 294.0,476.8 296.0,474.3 298.0,471.2 300.0,467.5 302.0,463.4 304.0,458.9 306.0,454.1 308.0,449.0 310.0,443.8 312.0,438.2 314.0,432.9 316.0,427.7 318.0,422.5 320.0,417.5 322.0,412.5 324.0,407.9 326.0,403.4 328.0,399.0 330.0,395.0 332.0,391.0 334.0,387.0 336.0,383.0 338.0,379.0 340.0,375.0 342.0,371.0 344.0,367.5 346.0,364.2 348.0,361.1 350.0,358.5 352.0,355.9 354.0,353.0 356.0,350.0 358.0,346.9 360.0,343.5 362.0,340.1 364.0,337.0 366.0,334.0 368.0,331.1 370.0,328.5 372.0,325.9 374.0,323.6 376.0,321.3 378.0,319.4 380.0,317.7 382.0,316.9 384.0,316.2 386.0,316.0 388.0,316.0 390.0,315.6 392.0,314.0 394.0,312.4 396.0,309.6 398.0,306.4 400.0,303.5 402.0,301.7 404.0,300.8 406.0,301.6" fill="none" stroke="#0033a8" stroke-width="4.4" stroke-linejoin="round" stroke-linecap="butt"/>
<polyline points="406.0,301.6 408.0,302.5 410.0,303.3 412.0,304.2 414.0,305.2 416.0,306.6 418.0,308.0 420.0,309.4 422.0,311.1 424.0,312.9 426.0,314.6 428.0,317.1 430.0,319.8 432.0,322.9 434.0,327.7 436.0,332.3 438.0,336.4 440.0,340.1 442.0,343.6 444.0,349.1 446.0,355.7 448.0,364.3 450.0,372.0 452.0,379.2 454.0,385.3 456.0,390.9 458.0,396.0 460.0,400.5 462.0,404.7 464.0,406.4 466.0,407.0" fill="none" stroke="#dc143c" stroke-width="4.2" stroke-linejoin="round" stroke-linecap="butt"/>
<polyline points="466.0,407.0 468.0,405.0 470.0,399.3 472.0,386.3 474.0,375.5 476.0,370.5 478.0,369.6 480.0,371.6 482.0,371.7 484.0,370.3 486.0,367.6 488.0,364.4 490.0,361.6 492.0,360.0 494.0,358.5 496.0,357.4 498.0,357.1 500.0,356.8 502.0,356.3 504.0,354.6 506.0,353.0 508.0,350.9 510.0,347.5 512.0,344.1 514.0,341.8 516.0,339.9 518.0,338.4 520.0,338.0 522.0,337.6 524.0,337.8" fill="none" stroke="#0033a8" stroke-width="4.4" stroke-linejoin="round" stroke-linecap="butt"/>
<polyline points="524.0,337.8 526.0,338.2 528.0,340.0 530.0,339.9" fill="none" stroke="#dc143c" stroke-width="4.2" stroke-linejoin="round" stroke-linecap="butt"/>
<polyline points="530.0,339.9 532.0,338.6 534.0,336.0 536.0,333.0 538.0,330.0 540.0,327.0 542.0,324.0 544.0,321.0 546.0,318.0 548.0,315.2 550.0,312.9 552.0,310.6 554.0,308.7 556.0,307.0 558.0,305.3 560.0,304.0 562.0,303.1 564.0,302.2 566.0,302.0 568.0,302.0 570.0,302.1 572.0,302.6 574.0,303.1 576.0,304.0 578.0,305.0 580.0,306.0 582.0,306.8 584.0,307.7 586.0,308.5 588.0,309.3 590.0,310.1 592.0,310.9 594.0,311.8" fill="none" stroke="#0033a8" stroke-width="4.4" stroke-linejoin="round" stroke-linecap="butt"/>
<polyline points="594.0,311.8 596.0,312.8 598.0,313.8 600.0,314.9 602.0,316.1 604.0,317.2 606.0,318.3 608.0,319.4 610.0,320.5 612.0,321.5 614.0,322.5 616.0,323.0 618.0,323.3 620.0,323.2" fill="none" stroke="#dc143c" stroke-width="4.2" stroke-linejoin="round" stroke-linecap="butt"/>
<polyline points="620.0,323.2 622.0,322.8 624.0,321.8 626.0,320.5 628.0,319.0 630.0,317.0 632.0,315.0 634.0,313.3 636.0,311.7 638.0,310.2 640.0,309.0 642.0,307.8 644.0,307.6 646.0,307.7" fill="none" stroke="#0033a8" stroke-width="4.4" stroke-linejoin="round" stroke-linecap="butt"/>
<polyline points="646.0,307.7 648.0,307.8 650.0,308.9 652.0,310.1 654.0,311.2 656.0,312.4 658.0,313.6 660.0,314.9 662.0,316.1 664.0,316.9 666.0,317.2 668.0,317.4" fill="none" stroke="#dc143c" stroke-width="4.2" stroke-linejoin="round" stroke-linecap="butt"/>
<polyline points="668.0,317.4 670.0,317.0 672.0,316.6 674.0,316.2 676.0,315.8 678.0,315.3 680.0,314.9 682.0,314.4 684.0,313.1 686.0,311.7 688.0,309.3 690.0,308.2 692.0,307.6 694.0,307.3 696.0,307.5 698.0,307.7 700.0,307.9 702.0,308.4 704.0,308.8 706.0,309.2 708.0,309.8 710.0,310.5 712.0,311.1 714.0,311.6 716.0,312.1" fill="none" stroke="#0033a8" stroke-width="4.4" stroke-linejoin="round" stroke-linecap="butt"/>
<polyline points="716.0,312.1 718.0,312.6 720.0,313.0 722.0,313.4 724.0,314.4 726.0,316.0 728.0,319.9 730.0,323.6 732.0,326.9 734.0,327.8 736.0,328.7 738.0,329.5 740.0,329.7 742.0,329.9 744.0,330.2 746.0,330.4 748.0,330.5 750.0,330.5 752.0,330.5 754.0,330.5 756.0,330.5 758.0,330.5 760.0,330.4 762.0,330.2 764.0,330.0 766.0,329.9 768.0,329.7 770.0,329.6 772.0,329.3 774.0,329.1 776.0,328.8 778.0,328.5 780.0,328.3 782.0,327.8 784.0,327.4 786.0,326.9 788.0,326.5 790.0,326.0 792.0,325.6 794.0,325.2 796.0,324.3 798.0,322.5" fill="none" stroke="#dc143c" stroke-width="4.2" stroke-linejoin="round" stroke-linecap="butt"/>
<polyline points="798.0,322.5 800.0,320.5 802.0,318.5 804.0,317.0 806.0,316.0 808.0,315.5 810.0,315.5" fill="none" stroke="#0033a8" stroke-width="4.4" stroke-linejoin="round" stroke-linecap="butt"/>
<polyline points="810.0,315.5 812.0,315.8 814.0,316.4 816.0,317.0 818.0,318.0 820.0,319.0 822.0,319.7 824.0,319.7 826.0,319.8" fill="none" stroke="#dc143c" stroke-width="4.2" stroke-linejoin="round" stroke-linecap="butt"/>
<polyline points="826.0,319.8 828.0,319.6 830.0,318.9 832.0,318.2 834.0,317.5 836.0,316.5 838.0,315.5 840.0,314.3 842.0,312.9 844.0,311.4 846.0,309.1 848.0,306.9 850.0,304.4 852.0,301.5 854.0,298.7 856.0,296.0 858.0,293.3 860.0,290.5 862.0,287.9 864.0,285.3 866.0,282.7 868.0,280.3 870.0,277.9 872.0,275.8 874.0,273.7 876.0,271.6 878.0,269.6 880.0,267.7 882.0,265.8 884.0,263.8 886.0,261.5 888.0,259.1 890.0,256.3 892.0,253.5 894.0,250.7 896.0,247.9 898.0,245.2 900.0,243.4 902.0,241.6 904.0,240.3 906.0,239.2 908.0,238.1 910.0,237.5 912.0,236.9 914.0,236.4 916.0,236.3 918.0,236.2 920.0,236.1 922.0,236.2" fill="none" stroke="#0033a8" stroke-width="4.4" stroke-linejoin="round" stroke-linecap="butt"/>
<polyline points="922.0,236.2 924.0,236.2 926.0,236.2 928.0,236.3 930.0,236.4 932.0,236.5 934.0,236.6 936.0,236.7 938.0,236.8 940.0,236.9 942.0,237.1 944.0,237.2 946.0,237.3 948.0,237.5 950.0,237.6 952.0,237.8 954.0,237.8 956.0,237.8 958.0,237.9" fill="none" stroke="#dc143c" stroke-width="4.2" stroke-linejoin="round" stroke-linecap="butt"/>
<polyline points="958.0,237.9 960.0,237.8 962.0,237.7" fill="none" stroke="#0033a8" stroke-width="4.4" stroke-linejoin="round" stroke-linecap="butt"/>
<polyline points="962.0,237.7 964.0,237.7 966.0,237.9 968.0,238.2 970.0,238.6 972.0,239.1 974.0,239.7 976.0,240.2 978.0,240.8 980.0,241.3 982.0,241.9 984.0,242.4 986.0,243.0 988.0,243.6 990.0,244.3 992.0,245.0 994.0,245.7 996.0,246.4 998.0,247.2 1000.0,247.9 1002.0,248.7 1004.0,249.5 1006.0,250.4 1008.0,251.2 1010.0,252.1 1012.0,252.9 1014.0,253.8 1016.0,254.7 1018.0,255.6 1020.0,256.5 1022.0,257.3 1024.0,258.1 1026.0,258.8 1028.0,259.5 1030.0,260.3 1032.0,261.0 1034.0,261.7 1036.0,262.3 1038.0,264.3 1040.0,269.0 1042.0,273.1 1044.0,276.0 1046.0,278.3 1048.0,279.7 1050.0,280.4 1052.0,280.7 1054.0,282.2 1056.0,285.0 1058.0,289.0" fill="none" stroke="#dc143c" stroke-width="4.2" stroke-linejoin="round" stroke-linecap="butt"/>
<polyline points="1058.0,289.0 1060.0,290.6 1062.0,281.0 1064.0,270.1 1066.0,260.0 1068.0,251.6 1070.0,244.9 1072.0,239.8 1074.0,236.1 1076.0,232.9 1078.0,230.5 1080.0,229.0 1082.0,227.8 1084.0,227.4 1086.0,227.1 1088.0,226.7 1090.0,226.4 1092.0,226.1 1094.0,225.8 1096.0,225.4 1098.0,224.7 1100.0,223.8 1102.0,221.9 1104.0,219.9 1106.0,217.9 1108.0,215.8 1110.0,212.8 1112.0,209.0 1114.0,204.7 1116.0,200.0 1118.0,193.8 1120.0,185.8 1122.0,176.9 1124.0,169.7 1126.0,163.4 1128.0,157.7 1130.0,152.0 1132.0,146.3 1134.0,140.7 1136.0,136.1 1138.0,132.3 1140.0,129.7 1142.0,128.6 1144.0,128.7 1146.0,130.3 1148.0,130.8 1150.0,130.8 1152.0,130.0 1154.0,129.0 1156.0,128.1 1158.0,127.3 1160.0,126.6 1162.0,125.8 1164.0,125.2 1166.0,124.6 1168.0,124.1 1170.0,123.5 1172.0,122.6 1174.0,121.6 1176.0,120.5 1178.0,119.0 1180.0,117.0 1182.0,115.2 1184.0,113.8 1186.0,112.5 1188.0,111.5 1190.0,111.0 1192.0,111.0" fill="none" stroke="#0033a8" stroke-width="4.4" stroke-linejoin="round" stroke-linecap="butt"/>
<polyline points="1192.0,111.0 1194.0,111.0 1196.0,111.7 1198.0,112.3 1200.0,113.0 1202.0,113.7 1204.0,114.4 1206.0,115.1 1208.0,115.9 1210.0,116.9 1212.0,118.2 1214.0,119.5 1216.0,121.2 1218.0,122.8 1220.0,124.5 1222.0,125.2 1224.0,125.9 1226.0,125.9" fill="none" stroke="#dc143c" stroke-width="4.2" stroke-linejoin="round" stroke-linecap="butt"/>
<polyline points="1226.0,125.9 1228.0,125.1 1230.0,124.2 1232.0,123.0 1234.0,121.7 1236.0,120.1 1238.0,118.7 1240.0,118.0 1242.0,117.7" fill="none" stroke="#0033a8" stroke-width="4.4" stroke-linejoin="round" stroke-linecap="butt"/>
<polyline points="1242.0,117.7 1244.0,118.3 1246.0,119.4 1248.0,120.7 1250.0,122.4 1252.0,124.4 1254.0,126.7 1256.0,129.5 1258.0,133.2 1260.0,139.0 1262.0,147.0 1264.0,154.9 1266.0,160.7 1268.0,166.0 1270.0,170.0 1272.0,174.0 1274.0,177.4 1276.0,180.6 1278.0,183.8 1280.0,186.2 1282.0,188.8 1284.0,191.2 1286.0,194.4 1288.0,197.7 1290.0,200.8 1292.0,204.6 1294.0,208.5 1296.0,212.3 1298.0,216.0 1300.0,219.6 1302.0,223.2 1304.0,226.7 1306.0,230.0 1308.0,233.3 1310.0,236.4 1312.0,239.2 1314.0,242.0 1316.0,244.6 1318.0,246.9 1320.0,249.2 1322.0,251.6 1324.0,254.4 1326.0,257.2 1328.0,260.0 1330.0,263.3 1332.0,266.7 1334.0,270.0 1336.0,273.5 1338.0,277.0 1340.0,280.6 1342.0,284.4 1344.0,287.9 1346.0,291.2 1348.0,294.5 1350.0,297.5 1352.0,300.5 1354.0,303.0 1356.0,305.4 1358.0,307.1 1360.0,308.6 1362.0,310.0" fill="none" stroke="#dc143c" stroke-width="4.2" stroke-linejoin="round" stroke-linecap="butt"/>
<polyline points="226.0,492.1 228.0,491.0 230.0,489.0 232.0,487.1 234.0,485.2 236.0,483.5 238.0,481.8 240.0,480.1 242.0,478.6 244.0,477.1 246.0,476.5" fill="none" stroke="#bdb8b0" stroke-width="9" stroke-linejoin="round" stroke-linecap="butt"/>
<polyline points="226.0,492.1 228.0,491.0 230.0,489.0 232.0,487.1 234.0,485.2 236.0,483.5 238.0,481.8 240.0,480.1 242.0,478.6 244.0,477.1 246.0,476.5" fill="none" stroke="#0033a8" stroke-width="6.2" stroke-linejoin="round" stroke-linecap="butt"/>
<polyline points="268.0,498.5 270.0,497.5 272.0,496.5 274.0,495.4 276.0,494.2 278.0,492.9 280.0,491.4 282.0,489.6 284.0,487.7 286.0,485.7 288.0,483.5 290.0,481.4 292.0,479.2 294.0,476.8 296.0,474.3 298.0,471.2" fill="none" stroke="#bdb8b0" stroke-width="9" stroke-linejoin="round" stroke-linecap="butt"/>
<polyline points="268.0,498.5 270.0,497.5 272.0,496.5 274.0,495.4 276.0,494.2 278.0,492.9 280.0,491.4 282.0,489.6 284.0,487.7 286.0,485.7 288.0,483.5 290.0,481.4 292.0,479.2 294.0,476.8 296.0,474.3 298.0,471.2" fill="none" stroke="#0033a8" stroke-width="6.2" stroke-linejoin="round" stroke-linecap="butt"/>
<polyline points="466.0,407.0 468.0,405.0 470.0,399.3 472.0,386.3 474.0,375.5 476.0,370.5" fill="none" stroke="#bdb8b0" stroke-width="9" stroke-linejoin="round" stroke-linecap="butt"/>
<polyline points="466.0,407.0 468.0,405.0 470.0,399.3 472.0,386.3 474.0,375.5 476.0,370.5" fill="none" stroke="#0033a8" stroke-width="6.2" stroke-linejoin="round" stroke-linecap="butt"/>
<polyline points="0.0,473.0 2.0,472.4 4.0,471.7 6.0,471.1 8.0,470.5 10.0,469.8 12.0,469.2 14.0,468.5 16.0,467.9 18.0,467.3 20.0,466.6 22.0,466.0 24.0,465.3 26.0,464.7 28.0,464.0 30.0,463.3 32.0,462.7 34.0,462.0 36.0,461.4 38.0,460.7 40.0,460.0 42.0,459.4 44.0,458.7 46.0,458.1 48.0,457.5 50.0,456.9 52.0,456.3 54.0,455.7 56.0,455.1 58.0,454.6 60.0,454.0 62.0,453.5 64.0,452.9 66.0,452.4 68.0,451.9 70.0,451.3 72.0,450.8 74.0,450.3 76.0,449.7 78.0,449.2 80.0,448.7 82.0,448.1 84.0,447.6 86.0,447.1 88.0,446.9 90.0,446.7 92.0,446.6 94.0,446.6 96.0,446.9 98.0,447.2 100.0,447.5 102.0,447.6 104.0,447.6 106.0,447.7 108.0,447.5 110.0,447.4 112.0,447.2 114.0,446.9 116.0,446.6 118.0,446.2 120.0,445.8 122.0,445.4 124.0,444.9 126.0,444.3 128.0,443.8 130.0,443.3 132.0,442.8 134.0,442.2 136.0,441.7 138.0,441.2 140.0,440.6 142.0,440.1 144.0,439.6 146.0,439.1 148.0,438.6 150.0,438.2 152.0,437.7 154.0,437.3 156.0,436.9 158.0,436.6 160.0,436.2 162.0,435.9 164.0,435.6 166.0,435.3 168.0,435.1 170.0,435.0 172.0,435.0 174.0,435.0" fill="none" stroke="#bdb8b0" stroke-width="10.2" stroke-linejoin="round" stroke-linecap="round"/>
<polyline points="0.0,473.0 2.0,472.4 4.0,471.7 6.0,471.1 8.0,470.5 10.0,469.8 12.0,469.2 14.0,468.5 16.0,467.9 18.0,467.3 20.0,466.6 22.0,466.0 24.0,465.3 26.0,464.7 28.0,464.0 30.0,463.3 32.0,462.7 34.0,462.0 36.0,461.4 38.0,460.7 40.0,460.0 42.0,459.4 44.0,458.7 46.0,458.1 48.0,457.5 50.0,456.9 52.0,456.3 54.0,455.7 56.0,455.1 58.0,454.6 60.0,454.0 62.0,453.5 64.0,452.9 66.0,452.4 68.0,451.9 70.0,451.3 72.0,450.8 74.0,450.3 76.0,449.7 78.0,449.2 80.0,448.7 82.0,448.1 84.0,447.6 86.0,447.1 88.0,446.9 90.0,446.7 92.0,446.6 94.0,446.6 96.0,446.9 98.0,447.2 100.0,447.5 102.0,447.6 104.0,447.6 106.0,447.7 108.0,447.5 110.0,447.4 112.0,447.2 114.0,446.9 116.0,446.6 118.0,446.2 120.0,445.8 122.0,445.4 124.0,444.9 126.0,444.3 128.0,443.8 130.0,443.3 132.0,442.8 134.0,442.2 136.0,441.7 138.0,441.2 140.0,440.6 142.0,440.1 144.0,439.6 146.0,439.1 148.0,438.6 150.0,438.2 152.0,437.7 154.0,437.3 156.0,436.9 158.0,436.6 160.0,436.2 162.0,435.9 164.0,435.6 166.0,435.3 168.0,435.1 170.0,435.0 172.0,435.0 174.0,435.0" fill="none" stroke="#0033a8" stroke-width="7.4" stroke-linejoin="round" stroke-linecap="round"/>
<polyline points="300.0,476.0 302.0,478.5 304.0,479.8 306.0,479.3 308.0,477.7 310.0,476.0 312.0,474.4 314.0,472.7 316.0,471.1 318.0,469.4 320.0,467.8 322.0,466.1 324.0,464.6 326.0,463.1 328.0,461.7 330.0,460.2 332.0,458.9 334.0,457.6 336.0,456.4 338.0,455.1 340.0,453.8 342.0,452.5 344.0,451.2 346.0,449.8 348.0,448.5 350.0,447.1 352.0,445.6 354.0,444.2 356.0,442.8 358.0,441.5 360.0,440.2 362.0,438.9 364.0,437.8 366.0,436.7 368.0,435.5 370.0,434.1 372.0,432.7 374.0,431.3 376.0,429.7 378.0,428.1 380.0,426.5 382.0,424.9 384.0,423.4 386.0,421.9 388.0,420.3 390.0,418.9 392.0,417.4 394.0,415.9 396.0,414.5 398.0,413.2 400.0,412.0 402.0,410.8 404.0,409.6 406.0,408.6 408.0,407.7 410.0,406.8 412.0,405.9 414.0,405.1 416.0,404.3 418.0,403.5 420.0,402.8 422.0,402.2 424.0,401.5 426.0,400.8 428.0,400.2 430.0,399.6 432.0,399.1 432.5,399.0" fill="none" stroke="#bdb8b0" stroke-width="10.2" stroke-linejoin="round" stroke-linecap="round"/>
<polyline points="300.0,476.0 302.0,478.5 304.0,479.8 306.0,479.3 308.0,477.7 310.0,476.0 312.0,474.4 314.0,472.7 316.0,471.1 318.0,469.4 320.0,467.8 322.0,466.1 324.0,464.6 326.0,463.1 328.0,461.7 330.0,460.2 332.0,458.9 334.0,457.6 336.0,456.4 338.0,455.1 340.0,453.8 342.0,452.5 344.0,451.2 346.0,449.8 348.0,448.5 350.0,447.1 352.0,445.6 354.0,444.2 356.0,442.8 358.0,441.5 360.0,440.2 362.0,438.9 364.0,437.8 366.0,436.7 368.0,435.5 370.0,434.1 372.0,432.7 374.0,431.3 376.0,429.7 378.0,428.1 380.0,426.5 382.0,424.9 384.0,423.4 386.0,421.9 388.0,420.3 390.0,418.9 392.0,417.4 394.0,415.9 396.0,414.5 398.0,413.2 400.0,412.0 402.0,410.8 404.0,409.6 406.0,408.6 408.0,407.7 410.0,406.8 412.0,405.9 414.0,405.1 416.0,404.3 418.0,403.5 420.0,402.8 422.0,402.2 424.0,401.5 426.0,400.8 428.0,400.2 430.0,399.6 432.0,399.1 432.5,399.0" fill="none" stroke="#0033a8" stroke-width="7.4" stroke-linejoin="round" stroke-linecap="round"/>
<polyline points="477.5,420.0 479.5,420.5 481.5,419.8 483.5,418.8 485.5,417.7 487.5,416.7 489.5,415.6 491.5,414.6 493.5,413.5 495.5,412.5 497.5,411.5 499.5,410.4 501.5,409.4 503.5,408.6 505.5,407.7 507.5,406.9 509.5,406.0 511.5,405.1 513.5,404.3 515.5,403.6 517.5,402.9 519.5,402.2 521.5,401.5 523.5,400.8 525.5,400.0 527.5,399.2 529.5,398.2 531.5,397.2 533.5,396.1 535.5,395.1 537.5,394.1 539.5,393.0 541.5,392.0 543.5,390.7 545.5,389.3 547.5,388.0 549.5,386.7 551.5,385.3 553.5,384.0 555.5,382.7 557.5,381.5 559.5,380.5 561.5,379.5 563.5,378.5 565.5,377.5 567.5,376.5 569.5,375.5 571.5,374.5 573.5,373.8 575.5,373.2 577.5,372.5 579.5,371.8 581.5,371.2 583.5,370.5 585.5,369.8 587.5,369.3 589.5,368.8 591.5,368.3 593.5,367.8 595.5,367.4 597.5,366.9 599.5,366.4 601.5,365.9 603.5,365.5 605.5,365.0 607.5,364.6 609.5,364.2 611.5,363.9 613.5,363.5 615.5,363.1 617.5,362.8 619.5,362.4 621.5,362.1 623.5,361.7 625.5,361.3 627.5,361.0 629.5,360.6 631.5,360.2 633.5,359.9 635.5,359.5 637.5,359.1 639.5,358.7 641.5,358.4 643.5,358.0 645.5,357.6 647.5,357.2 649.5,356.8 651.5,356.4 653.5,356.1 655.5,355.7 657.5,355.3 659.5,354.9 661.5,354.5 663.5,354.1 665.5,353.7 667.5,353.3 669.5,352.9 671.5,352.5 673.5,352.1 675.5,351.7 677.5,351.3 679.5,350.9 681.5,350.5 683.5,350.1 685.5,349.7 687.5,349.4 689.5,349.0 691.5,348.6 693.5,348.2 695.5,347.8 697.5,347.4 699.5,347.1 701.5,346.8 703.5,346.4 705.5,346.1 707.5,345.8 709.5,345.4 711.5,345.1 713.5,344.8 715.5,344.6 717.5,344.3 719.5,344.1 720.0,344.0" fill="none" stroke="#bdb8b0" stroke-width="10.2" stroke-linejoin="round" stroke-linecap="round"/>
<polyline points="477.5,420.0 479.5,420.5 481.5,419.8 483.5,418.8 485.5,417.7 487.5,416.7 489.5,415.6 491.5,414.6 493.5,413.5 495.5,412.5 497.5,411.5 499.5,410.4 501.5,409.4 503.5,408.6 505.5,407.7 507.5,406.9 509.5,406.0 511.5,405.1 513.5,404.3 515.5,403.6 517.5,402.9 519.5,402.2 521.5,401.5 523.5,400.8 525.5,400.0 527.5,399.2 529.5,398.2 531.5,397.2 533.5,396.1 535.5,395.1 537.5,394.1 539.5,393.0 541.5,392.0 543.5,390.7 545.5,389.3 547.5,388.0 549.5,386.7 551.5,385.3 553.5,384.0 555.5,382.7 557.5,381.5 559.5,380.5 561.5,379.5 563.5,378.5 565.5,377.5 567.5,376.5 569.5,375.5 571.5,374.5 573.5,373.8 575.5,373.2 577.5,372.5 579.5,371.8 581.5,371.2 583.5,370.5 585.5,369.8 587.5,369.3 589.5,368.8 591.5,368.3 593.5,367.8 595.5,367.4 597.5,366.9 599.5,366.4 601.5,365.9 603.5,365.5 605.5,365.0 607.5,364.6 609.5,364.2 611.5,363.9 613.5,363.5 615.5,363.1 617.5,362.8 619.5,362.4 621.5,362.1 623.5,361.7 625.5,361.3 627.5,361.0 629.5,360.6 631.5,360.2 633.5,359.9 635.5,359.5 637.5,359.1 639.5,358.7 641.5,358.4 643.5,358.0 645.5,357.6 647.5,357.2 649.5,356.8 651.5,356.4 653.5,356.1 655.5,355.7 657.5,355.3 659.5,354.9 661.5,354.5 663.5,354.1 665.5,353.7 667.5,353.3 669.5,352.9 671.5,352.5 673.5,352.1 675.5,351.7 677.5,351.3 679.5,350.9 681.5,350.5 683.5,350.1 685.5,349.7 687.5,349.4 689.5,349.0 691.5,348.6 693.5,348.2 695.5,347.8 697.5,347.4 699.5,347.1 701.5,346.8 703.5,346.4 705.5,346.1 707.5,345.8 709.5,345.4 711.5,345.1 713.5,344.8 715.5,344.6 717.5,344.3 719.5,344.1 720.0,344.0" fill="none" stroke="#0033a8" stroke-width="7.4" stroke-linejoin="round" stroke-linecap="round"/>
<polyline points="795.5,335.0 797.5,343.2 799.5,345.0 801.5,345.4 803.5,345.2 805.5,345.0 807.5,344.5 809.5,344.0 811.5,343.5 813.5,343.0 815.5,342.7 817.5,342.4 819.5,342.1 821.5,341.8 823.5,341.6 825.5,341.5 827.5,341.4 829.5,341.3 831.5,341.2 833.5,341.0 835.5,340.9 837.5,340.8 839.5,340.6 841.5,340.4 843.5,340.2 845.5,339.8 847.5,339.4 849.5,338.9 851.5,338.2 853.5,337.6 855.5,336.9 857.5,336.2 859.5,335.5 861.5,334.7 863.5,333.8 865.5,333.0 867.5,332.1 869.5,331.2 871.5,330.2 873.5,329.2 875.5,328.2 877.5,327.2 879.5,326.1 881.5,325.0 883.5,323.9 885.5,322.7 887.5,321.5 889.5,320.2 891.5,318.9 893.5,317.6 895.5,316.1 897.5,314.8 899.5,313.4 901.5,312.1 903.5,310.8 905.5,309.6 907.5,308.3 909.5,307.1 911.5,305.9 913.5,304.7 915.5,303.5 917.5,302.3 919.5,301.2 921.5,300.0 923.5,299.0 925.5,297.9 927.5,296.9 929.5,295.9 931.5,295.0 933.5,294.0 935.5,293.1 937.5,292.2 939.5,291.4 941.5,290.6 943.5,289.9 945.5,289.2 947.5,288.5 949.5,287.8 951.5,287.2 953.5,286.8 955.5,286.3 957.5,285.9 959.5,285.4 961.5,285.0 963.5,284.6 965.5,284.3 967.5,284.0 969.5,283.7 971.5,283.4 973.5,283.1 975.5,282.7 977.5,282.5 979.5,282.3 981.5,282.0 983.5,281.8 985.5,281.6 987.5,281.3 989.5,281.1 991.5,281.0 993.5,280.8 995.5,280.6 997.5,280.5 999.5,280.3 1001.5,280.2 1003.5,280.0 1005.5,279.9 1007.5,279.9 1009.5,279.8 1011.5,279.7 1013.5,279.6 1015.5,279.5 1017.5,279.5 1019.5,279.5 1021.5,279.5 1023.5,279.5 1025.5,279.5 1027.5,279.5 1029.5,279.6 1031.5,279.6 1033.5,279.6 1035.5,279.8 1037.5,280.0 1038.0,280.0" fill="none" stroke="#bdb8b0" stroke-width="10.2" stroke-linejoin="round" stroke-linecap="round"/>
<polyline points="795.5,335.0 797.5,343.2 799.5,345.0 801.5,345.4 803.5,345.2 805.5,345.0 807.5,344.5 809.5,344.0 811.5,343.5 813.5,343.0 815.5,342.7 817.5,342.4 819.5,342.1 821.5,341.8 823.5,341.6 825.5,341.5 827.5,341.4 829.5,341.3 831.5,341.2 833.5,341.0 835.5,340.9 837.5,340.8 839.5,340.6 841.5,340.4 843.5,340.2 845.5,339.8 847.5,339.4 849.5,338.9 851.5,338.2 853.5,337.6 855.5,336.9 857.5,336.2 859.5,335.5 861.5,334.7 863.5,333.8 865.5,333.0 867.5,332.1 869.5,331.2 871.5,330.2 873.5,329.2 875.5,328.2 877.5,327.2 879.5,326.1 881.5,325.0 883.5,323.9 885.5,322.7 887.5,321.5 889.5,320.2 891.5,318.9 893.5,317.6 895.5,316.1 897.5,314.8 899.5,313.4 901.5,312.1 903.5,310.8 905.5,309.6 907.5,308.3 909.5,307.1 911.5,305.9 913.5,304.7 915.5,303.5 917.5,302.3 919.5,301.2 921.5,300.0 923.5,299.0 925.5,297.9 927.5,296.9 929.5,295.9 931.5,295.0 933.5,294.0 935.5,293.1 937.5,292.2 939.5,291.4 941.5,290.6 943.5,289.9 945.5,289.2 947.5,288.5 949.5,287.8 951.5,287.2 953.5,286.8 955.5,286.3 957.5,285.9 959.5,285.4 961.5,285.0 963.5,284.6 965.5,284.3 967.5,284.0 969.5,283.7 971.5,283.4 973.5,283.1 975.5,282.7 977.5,282.5 979.5,282.3 981.5,282.0 983.5,281.8 985.5,281.6 987.5,281.3 989.5,281.1 991.5,281.0 993.5,280.8 995.5,280.6 997.5,280.5 999.5,280.3 1001.5,280.2 1003.5,280.0 1005.5,279.9 1007.5,279.9 1009.5,279.8 1011.5,279.7 1013.5,279.6 1015.5,279.5 1017.5,279.5 1019.5,279.5 1021.5,279.5 1023.5,279.5 1025.5,279.5 1027.5,279.5 1029.5,279.6 1031.5,279.6 1033.5,279.6 1035.5,279.8 1037.5,280.0 1038.0,280.0" fill="none" stroke="#0033a8" stroke-width="7.4" stroke-linejoin="round" stroke-linecap="round"/>
<polyline points="1060.5,293.0 1062.5,293.7 1064.5,294.5 1066.5,294.2 1068.5,293.9 1070.5,293.0 1072.5,292.1 1074.5,291.1 1076.5,290.1 1078.5,289.0 1080.5,287.9 1082.5,286.9 1084.5,286.0 1086.5,285.0 1088.5,284.2 1090.5,283.3 1092.5,282.5 1094.5,281.6 1096.5,280.6 1098.5,279.7 1100.5,278.8 1102.5,277.8 1104.5,276.8 1106.5,275.6 1108.5,274.4 1110.5,273.1 1112.5,271.8 1114.5,270.3 1116.5,268.7 1118.5,267.2 1120.5,265.6 1122.5,264.0 1124.5,262.3 1126.5,260.6 1128.5,258.9 1130.5,257.4 1132.5,256.0 1134.5,254.9 1136.5,253.4 1138.5,252.0 1140.5,250.5 1142.5,248.9 1144.5,247.3 1146.5,245.8 1148.5,244.3 1150.5,242.8 1152.5,241.3 1154.5,239.9 1156.5,238.6 1158.5,237.2 1160.5,235.7 1162.5,234.3 1164.5,232.8 1166.5,231.3 1168.5,229.8 1170.5,228.2 1172.5,226.7 1174.5,225.2 1176.5,223.7 1178.5,222.2 1180.5,220.8 1182.5,219.3 1184.5,217.9 1186.5,216.5 1188.5,215.1 1190.5,214.0 1192.5,212.9 1194.5,211.8 1196.5,210.8 1198.5,210.1 1200.5,209.4 1202.5,208.7 1204.5,208.0 1206.5,207.4 1208.5,206.7 1210.5,206.1 1212.5,205.6 1214.5,205.1 1216.5,204.5 1218.5,204.0 1220.5,203.5 1222.5,202.9 1224.5,202.4 1226.5,201.8 1228.5,201.3 1230.5,200.7 1232.5,200.1 1234.5,199.5 1236.5,198.8 1238.5,198.2 1240.5,197.5 1242.5,196.8 1244.5,196.1 1246.5,195.4 1248.5,194.7 1250.5,193.9 1252.5,193.2 1254.5,192.5 1256.5,191.8 1258.5,191.2 1259.0,191.0" fill="none" stroke="#bdb8b0" stroke-width="10.2" stroke-linejoin="round" stroke-linecap="round"/>
<polyline points="1060.5,293.0 1062.5,293.7 1064.5,294.5 1066.5,294.2 1068.5,293.9 1070.5,293.0 1072.5,292.1 1074.5,291.1 1076.5,290.1 1078.5,289.0 1080.5,287.9 1082.5,286.9 1084.5,286.0 1086.5,285.0 1088.5,284.2 1090.5,283.3 1092.5,282.5 1094.5,281.6 1096.5,280.6 1098.5,279.7 1100.5,278.8 1102.5,277.8 1104.5,276.8 1106.5,275.6 1108.5,274.4 1110.5,273.1 1112.5,271.8 1114.5,270.3 1116.5,268.7 1118.5,267.2 1120.5,265.6 1122.5,264.0 1124.5,262.3 1126.5,260.6 1128.5,258.9 1130.5,257.4 1132.5,256.0 1134.5,254.9 1136.5,253.4 1138.5,252.0 1140.5,250.5 1142.5,248.9 1144.5,247.3 1146.5,245.8 1148.5,244.3 1150.5,242.8 1152.5,241.3 1154.5,239.9 1156.5,238.6 1158.5,237.2 1160.5,235.7 1162.5,234.3 1164.5,232.8 1166.5,231.3 1168.5,229.8 1170.5,228.2 1172.5,226.7 1174.5,225.2 1176.5,223.7 1178.5,222.2 1180.5,220.8 1182.5,219.3 1184.5,217.9 1186.5,216.5 1188.5,215.1 1190.5,214.0 1192.5,212.9 1194.5,211.8 1196.5,210.8 1198.5,210.1 1200.5,209.4 1202.5,208.7 1204.5,208.0 1206.5,207.4 1208.5,206.7 1210.5,206.1 1212.5,205.6 1214.5,205.1 1216.5,204.5 1218.5,204.0 1220.5,203.5 1222.5,202.9 1224.5,202.4 1226.5,201.8 1228.5,201.3 1230.5,200.7 1232.5,200.1 1234.5,199.5 1236.5,198.8 1238.5,198.2 1240.5,197.5 1242.5,196.8 1244.5,196.1 1246.5,195.4 1248.5,194.7 1250.5,193.9 1252.5,193.2 1254.5,192.5 1256.5,191.8 1258.5,191.2 1259.0,191.0" fill="none" stroke="#0033a8" stroke-width="7.4" stroke-linejoin="round" stroke-linecap="round"/>
<polyline points="173.0,407.0 175.0,407.6 177.0,408.2 179.0,408.8 181.0,409.4 183.0,410.0 185.0,410.6 187.0,411.2 189.0,411.8 191.0,412.4 193.0,412.9 195.0,413.5 197.0,414.3 199.0,415.1 201.0,415.9 203.0,416.8 205.0,417.9 207.0,419.1 209.0,420.2 211.0,421.4 213.0,422.6 215.0,423.9 217.0,425.1 219.0,426.3 221.0,427.5 223.0,428.6 225.0,429.7 227.0,430.7 229.0,431.7 231.0,432.5 233.0,433.3 235.0,434.1 237.0,434.7 239.0,435.4 241.0,435.9 243.0,436.4 245.0,436.8 247.0,437.3 249.0,437.5 251.0,437.7 253.0,437.9 255.0,438.0 257.0,438.0 259.0,438.0 261.0,438.0 263.0,438.0 265.0,438.1 267.0,438.1 269.0,438.2 271.0,438.3 273.0,438.4 275.0,438.3 277.0,438.2 279.0,438.0 281.0,437.8 283.0,437.5 285.0,437.3 287.0,437.1 289.0,436.9 291.0,436.7 293.0,436.5 295.0,436.4 297.0,436.2 299.0,436.1 300.0,436.0" fill="none" stroke="#bdb8b0" stroke-width="11.4" stroke-linejoin="round" stroke-linecap="round"/>
<polyline points="173.0,407.0 175.0,407.6 177.0,408.2 179.0,408.8 181.0,409.4 183.0,410.0 185.0,410.6 187.0,411.2 189.0,411.8 191.0,412.4 193.0,412.9 195.0,413.5 197.0,414.3 199.0,415.1 201.0,415.9 203.0,416.8 205.0,417.9 207.0,419.1 209.0,420.2 211.0,421.4 213.0,422.6 215.0,423.9 217.0,425.1 219.0,426.3 221.0,427.5 223.0,428.6 225.0,429.7 227.0,430.7 229.0,431.7 231.0,432.5 233.0,433.3 235.0,434.1 237.0,434.7 239.0,435.4 241.0,435.9 243.0,436.4 245.0,436.8 247.0,437.3 249.0,437.5 251.0,437.7 253.0,437.9 255.0,438.0 257.0,438.0 259.0,438.0 261.0,438.0 263.0,438.0 265.0,438.1 267.0,438.1 269.0,438.2 271.0,438.3 273.0,438.4 275.0,438.3 277.0,438.2 279.0,438.0 281.0,437.8 283.0,437.5 285.0,437.3 287.0,437.1 289.0,436.9 291.0,436.7 293.0,436.5 295.0,436.4 297.0,436.2 299.0,436.1 300.0,436.0" fill="none" stroke="#dc143c" stroke-width="8.4" stroke-linejoin="round" stroke-linecap="round"/>
<polyline points="443.0,345.0 445.0,346.5 447.0,348.0 449.0,349.5 451.0,351.0 453.0,352.5 455.0,353.8 457.0,355.0 459.0,356.2 461.0,357.3 463.0,358.4 465.0,359.1 467.0,359.9 469.0,360.5 471.0,360.9 473.0,361.3 475.0,361.6 477.0,362.0" fill="none" stroke="#bdb8b0" stroke-width="11.4" stroke-linejoin="round" stroke-linecap="round"/>
<polyline points="443.0,345.0 445.0,346.5 447.0,348.0 449.0,349.5 451.0,351.0 453.0,352.5 455.0,353.8 457.0,355.0 459.0,356.2 461.0,357.3 463.0,358.4 465.0,359.1 467.0,359.9 469.0,360.5 471.0,360.9 473.0,361.3 475.0,361.6 477.0,362.0" fill="none" stroke="#dc143c" stroke-width="8.4" stroke-linejoin="round" stroke-linecap="round"/>
<polyline points="726.0,305.0 728.0,304.2 730.0,303.5 732.0,303.3 734.0,303.2 736.0,303.2 738.0,303.2 740.0,303.3 742.0,303.4 744.0,303.6 746.0,303.8 748.0,303.9 750.0,304.2 752.0,304.4 754.0,304.7 756.0,305.0 758.0,305.2 760.0,305.5 762.0,305.8 764.0,306.1 766.0,306.4 768.0,306.7 770.0,307.0 772.0,307.3 774.0,307.6 776.0,307.9 778.0,308.2 780.0,308.5 782.0,308.8 784.0,309.1 786.0,309.4 788.0,309.8 790.0,310.1 792.0,310.4 794.0,310.7 796.0,311.0" fill="none" stroke="#bdb8b0" stroke-width="11.4" stroke-linejoin="round" stroke-linecap="round"/>
<polyline points="726.0,305.0 728.0,304.2 730.0,303.5 732.0,303.3 734.0,303.2 736.0,303.2 738.0,303.2 740.0,303.3 742.0,303.4 744.0,303.6 746.0,303.8 748.0,303.9 750.0,304.2 752.0,304.4 754.0,304.7 756.0,305.0 758.0,305.2 760.0,305.5 762.0,305.8 764.0,306.1 766.0,306.4 768.0,306.7 770.0,307.0 772.0,307.3 774.0,307.6 776.0,307.9 778.0,308.2 780.0,308.5 782.0,308.8 784.0,309.1 786.0,309.4 788.0,309.8 790.0,310.1 792.0,310.4 794.0,310.7 796.0,311.0" fill="none" stroke="#dc143c" stroke-width="8.4" stroke-linejoin="round" stroke-linecap="round"/>
<polyline points="1037.0,254.0 1039.0,252.8 1041.0,251.7 1043.0,251.1 1045.0,250.8 1047.0,250.7 1049.0,250.7 1051.0,250.8 1053.0,251.1 1055.0,251.4 1057.0,251.8 1058.0,252.0" fill="none" stroke="#bdb8b0" stroke-width="11.4" stroke-linejoin="round" stroke-linecap="round"/>
<polyline points="1037.0,254.0 1039.0,252.8 1041.0,251.7 1043.0,251.1 1045.0,250.8 1047.0,250.7 1049.0,250.7 1051.0,250.8 1053.0,251.1 1055.0,251.4 1057.0,251.8 1058.0,252.0" fill="none" stroke="#dc143c" stroke-width="8.4" stroke-linejoin="round" stroke-linecap="round"/>
<polyline points="1259.0,136.0 1261.0,136.4 1263.0,136.8 1265.0,137.1 1267.0,137.5 1269.0,137.9 1271.0,138.2 1273.0,138.8 1275.0,139.2 1277.0,139.8 1279.0,140.3 1281.0,141.0 1283.0,141.7 1285.0,142.5 1287.0,143.4 1289.0,144.4 1291.0,145.5 1293.0,146.7 1295.0,147.9 1297.0,149.2 1299.0,150.5 1301.0,151.9 1303.0,153.2 1305.0,154.8 1307.0,156.2 1309.0,157.8 1311.0,159.3 1313.0,160.8 1315.0,162.3 1317.0,163.8 1319.0,165.4 1321.0,166.9 1323.0,168.5 1325.0,170.1 1327.0,171.7 1329.0,173.3 1331.0,175.0 1333.0,176.7 1335.0,178.3 1337.0,180.0 1339.0,181.7 1341.0,183.4 1343.0,185.1 1345.0,186.8 1347.0,188.5 1349.0,190.3 1351.0,192.2 1353.0,194.0 1355.0,196.0 1357.0,198.0 1359.0,200.0 1361.0,202.0 1362.5,203.5" fill="none" stroke="#bdb8b0" stroke-width="11.4" stroke-linejoin="round" stroke-linecap="round"/>
<polyline points="1259.0,136.0 1261.0,136.4 1263.0,136.8 1265.0,137.1 1267.0,137.5 1269.0,137.9 1271.0,138.2 1273.0,138.8 1275.0,139.2 1277.0,139.8 1279.0,140.3 1281.0,141.0 1283.0,141.7 1285.0,142.5 1287.0,143.4 1289.0,144.4 1291.0,145.5 1293.0,146.7 1295.0,147.9 1297.0,149.2 1299.0,150.5 1301.0,151.9 1303.0,153.2 1305.0,154.8 1307.0,156.2 1309.0,157.8 1311.0,159.3 1313.0,160.8 1315.0,162.3 1317.0,163.8 1319.0,165.4 1321.0,166.9 1323.0,168.5 1325.0,170.1 1327.0,171.7 1329.0,173.3 1331.0,175.0 1333.0,176.7 1335.0,178.3 1337.0,180.0 1339.0,181.7 1341.0,183.4 1343.0,185.1 1345.0,186.8 1347.0,188.5 1349.0,190.3 1351.0,192.2 1353.0,194.0 1355.0,196.0 1357.0,198.0 1359.0,200.0 1361.0,202.0 1362.5,203.5" fill="none" stroke="#dc143c" stroke-width="8.4" stroke-linejoin="round" stroke-linecap="round"/>
<line x1="173" y1="406" x2="173" y2="438" stroke="#bdb8b0" stroke-width="9.5" stroke-linecap="round"/>
<line x1="727" y1="306" x2="727" y2="350" stroke="#bdb8b0" stroke-width="9.5" stroke-linecap="round"/>
<line x1="1039" y1="254" x2="1039" y2="283" stroke="#bdb8b0" stroke-width="9.5" stroke-linecap="round"/>
<line x1="1057" y1="253" x2="1057" y2="290" stroke="#bdb8b0" stroke-width="9.5" stroke-linecap="round"/>
<line x1="1260" y1="137" x2="1260" y2="190" stroke="#bdb8b0" stroke-width="9.5" stroke-linecap="round"/>
<line x1="432.5" y1="356" x2="432.5" y2="400" stroke="#bdb8b0" stroke-width="9.5" stroke-linecap="round"/>
<line x1="173" y1="406" x2="173" y2="438" stroke="#dc143c" stroke-width="6.5" stroke-linecap="round"/>
<line x1="727" y1="306" x2="727" y2="350" stroke="#dc143c" stroke-width="6.5" stroke-linecap="round"/>
<line x1="1039" y1="254" x2="1039" y2="283" stroke="#dc143c" stroke-width="6.5" stroke-linecap="round"/>
<line x1="1057" y1="253" x2="1057" y2="290" stroke="#dc143c" stroke-width="6.5" stroke-linecap="round"/>
<line x1="1260" y1="137" x2="1260" y2="190" stroke="#dc143c" stroke-width="6.5" stroke-linecap="round"/>
<line x1="432.5" y1="356" x2="432.5" y2="400" stroke="#dc143c" stroke-width="6.5" stroke-linecap="round"/>
<line x1="476.5" y1="368" x2="476.5" y2="418" stroke="#bdb8b0" stroke-width="9.5"/>
<line x1="476.5" y1="368" x2="476.5" y2="418" stroke="#0033a8" stroke-width="6.5"/>
<line x1="1362.5" y1="203" x2="1362.5" y2="310" stroke="#bdb8b0" stroke-width="1.5"/>
<polyline points="443,402 459,407" fill="none" stroke="#ffee00" stroke-width="1.6"/>
<polyline points="569,385 640,381 719,374.5 736,374 747,346 754,337 790,332" fill="none" stroke="#ffee00" stroke-width="1.6"/>
<path d="M1197.8,215.5 Q1232,204 1261.8,199.3 Q1275,199 1287,204" fill="none" stroke="#ffee00" stroke-width="1.6"/>
<rect x="1111" y="6" width="49" height="46.5" fill="#c0c0c0"/>
<rect x="1319" y="406" width="49" height="48.5" fill="#c0c0c0"/>
<g transform="translate(80,372)"><circle r="20" fill="#dc143c"/><path d="M-1,15.5 L14.7,-10 L-0.3,-1.8 Z" fill="#ffffff"/><path d="M-1,15.5 L-15.5,-10 L-0.3,-1.8 Z" fill="none" stroke="#ffffff" stroke-width="1.1" stroke-linejoin="miter"/></g>
<g transform="translate(408,200)"><circle r="20" fill="#dc143c"/><path d="M-1,15.5 L14.7,-10 L-0.3,-1.8 Z" fill="#ffffff"/><path d="M-1,15.5 L-15.5,-10 L-0.3,-1.8 Z" fill="none" stroke="#ffffff" stroke-width="1.1" stroke-linejoin="miter"/></g>
<g transform="translate(896,183)"><circle r="20" fill="#dc143c"/><path d="M-1,15.5 L14.7,-10 L-0.3,-1.8 Z" fill="#ffffff"/><path d="M-1,15.5 L-15.5,-10 L-0.3,-1.8 Z" fill="none" stroke="#ffffff" stroke-width="1.1" stroke-linejoin="miter"/></g>
<g transform="translate(1136,29.5)"><circle r="20" fill="#dc143c"/><path d="M-1,15.5 L14.7,-10 L-0.3,-1.8 Z" fill="#ffffff"/><path d="M-1,15.5 L-15.5,-10 L-0.3,-1.8 Z" fill="none" stroke="#ffffff" stroke-width="1.1" stroke-linejoin="miter"/></g>
<g transform="translate(272,582)"><circle r="20" fill="#4169e1"/><path d="M0.3,-15.5 L-14.7,10.7 L0.5,2.5 Z" fill="#ffffff"/><path d="M0.3,-15.5 L15.2,10.7 L0.5,2.5 Z" fill="none" stroke="#ffffff" stroke-width="1.1" stroke-linejoin="miter"/></g>
<g transform="translate(736.1,382)"><circle r="20" fill="#4169e1"/><path d="M0.3,-15.5 L-14.7,10.7 L0.5,2.5 Z" fill="#ffffff"/><path d="M0.3,-15.5 L15.2,10.7 L0.5,2.5 Z" fill="none" stroke="#ffffff" stroke-width="1.1" stroke-linejoin="miter"/></g>
<g transform="translate(1048,378)"><circle r="20" fill="#4169e1"/><path d="M0.3,-15.5 L-14.7,10.7 L0.5,2.5 Z" fill="#ffffff"/><path d="M0.3,-15.5 L15.2,10.7 L0.5,2.5 Z" fill="none" stroke="#ffffff" stroke-width="1.1" stroke-linejoin="miter"/></g>
<g transform="translate(1344.1,431)"><circle r="20" fill="#4169e1"/><path d="M0.3,-15.5 L-14.7,10.7 L0.5,2.5 Z" fill="#ffffff"/><path d="M0.3,-15.5 L15.2,10.7 L0.5,2.5 Z" fill="none" stroke="#ffffff" stroke-width="1.1" stroke-linejoin="miter"/></g>
<circle cx="32.3" cy="373.3" r="13.9" fill="#ffffff"/><circle cx="32.3" cy="373.3" r="9.1" fill="#ff0000"/>
<circle cx="144.1" cy="386" r="13.9" fill="#ffffff"/><circle cx="144.1" cy="386" r="9.1" fill="#ff0000"/>
<circle cx="248" cy="430" r="13.9" fill="#ffffff"/><circle cx="248" cy="430" r="9.1" fill="#ff0000"/>
<circle cx="344" cy="264" r="13.9" fill="#ffffff"/><circle cx="344" cy="264" r="9.1" fill="#ff0000"/>
<circle cx="568" cy="252" r="13.9" fill="#ffffff"/><circle cx="568" cy="252" r="9.1" fill="#ff0000"/>
<circle cx="640" cy="257" r="13.9" fill="#ffffff"/><circle cx="640" cy="257" r="9.1" fill="#ff0000"/>
<circle cx="696" cy="276" r="13.9" fill="#ffffff"/><circle cx="696" cy="276" r="9.1" fill="#ff0000"/>
<circle cx="800" cy="283" r="13.9" fill="#ffffff"/><circle cx="800" cy="283" r="9.1" fill="#ff0000"/>
<circle cx="1240" cy="53" r="13.9" fill="#ffffff"/><circle cx="1240" cy="53" r="9.1" fill="#ff0000"/>
<circle cx="64.4" cy="426" r="13.9" fill="#ffffff"/><circle cx="64.4" cy="426" r="9.1" fill="#32cd32"/>
<circle cx="112.3" cy="472" r="13.9" fill="#ffffff"/><circle cx="112.3" cy="472" r="9.1" fill="#32cd32"/>
<circle cx="208.1" cy="557.5" r="13.9" fill="#ffffff"/><circle cx="208.1" cy="557.5" r="9.1" fill="#32cd32"/>
<circle cx="368" cy="372.5" r="13.9" fill="#ffffff"/><circle cx="368" cy="372.5" r="9.1" fill="#32cd32"/>
<circle cx="456" cy="527.5" r="13.9" fill="#ffffff"/><circle cx="456" cy="527.5" r="9.1" fill="#32cd32"/>
<circle cx="616" cy="379.5" r="13.9" fill="#ffffff"/><circle cx="616" cy="379.5" r="9.1" fill="#32cd32"/>
<circle cx="672" cy="359" r="13.9" fill="#ffffff"/><circle cx="672" cy="359" r="9.1" fill="#32cd32"/>
<circle cx="832" cy="349" r="13.9" fill="#ffffff"/><circle cx="832" cy="349" r="9.1" fill="#32cd32"/>
<circle cx="1216" cy="196" r="13.9" fill="#ffffff"/><circle cx="1216" cy="196" r="9.1" fill="#32cd32"/>
<rect x="0" y="405" width="1" height="30.0" fill="#d6d6d6"/>
<rect x="-2.0" y="412" width="5" height="11.0" fill="#d6d6d6"/>
<rect x="8" y="409" width="1" height="19.0" fill="#d6d6d6"/>
<rect x="6.0" y="414" width="5" height="8.0" fill="#d6d6d6"/>
<rect x="16" y="406" width="1" height="9.0" fill="#00f590"/>
<rect x="14.0" y="407" width="5" height="7.0" fill="#00f590"/>
<rect x="24" y="396" width="1" height="13.0" fill="#00f590"/>
<rect x="22.0" y="398" width="5" height="9.0" fill="#00f590"/>
<rect x="32" y="382" width="1" height="41.0" fill="#00f590"/>
<rect x="30.0" y="386" width="5" height="31.0" fill="#00f590"/>
<rect x="40" y="394" width="1" height="29.0" fill="#00f590"/>
<rect x="38.0" y="402" width="5" height="18.0" fill="#00f590"/>
<rect x="48" y="387" width="1" height="21.0" fill="#00f590"/>
<rect x="46.0" y="394" width="5" height="6.0" fill="#00f590"/>
<rect x="56" y="386" width="1" height="21.0" fill="#00f590"/>
<rect x="54.0" y="393" width="5" height="3.0" fill="#00f590"/>
<rect x="64" y="395" width="1" height="25.0" fill="#00f590"/>
<rect x="62.0" y="397" width="5" height="12.0" fill="#00f590"/>
<rect x="72" y="381" width="1" height="37.0" fill="#00f590"/>
<rect x="70.0" y="391" width="5" height="19.0" fill="#00f590"/>
<rect x="80" y="378" width="1" height="27.0" fill="#00f590"/>
<rect x="78.0" y="381" width="5" height="11.0" fill="#00f590"/>
<rect x="88" y="374" width="1" height="20.0" fill="#00f590"/>
<rect x="86.0" y="375" width="5" height="18.0" fill="#00f590"/>
<rect x="96" y="393" width="1" height="59.0" fill="#d6d6d6"/>
<rect x="94.0" y="394" width="5" height="39.0" fill="#d6d6d6"/>
<rect x="104" y="430" width="1" height="36.0" fill="#d6d6d6"/>
<rect x="102.0" y="432" width="5" height="11.0" fill="#d6d6d6"/>
<rect x="112" y="426" width="1" height="44.0" fill="#d6d6d6"/>
<rect x="110.0" y="427" width="5" height="19.0" fill="#d6d6d6"/>
<rect x="120" y="406" width="1" height="26.0" fill="#d6d6d6"/>
<rect x="118.0" y="412" width="5" height="15.0" fill="#d6d6d6"/>
<rect x="128" y="402" width="1" height="14.0" fill="#d6d6d6"/>
<rect x="126.0" y="408" width="5" height="5.0" fill="#d6d6d6"/>
<rect x="136" y="396" width="1" height="13.0" fill="#00f590"/>
<rect x="134.0" y="398" width="5" height="9.0" fill="#00f590"/>
<rect x="144" y="392" width="1" height="10.0" fill="#00f590"/>
<rect x="142.0" y="395" width="5" height="5.0" fill="#00f590"/>
<rect x="152" y="390" width="1" height="14.0" fill="#00f590"/>
<rect x="150.0" y="393" width="5" height="9.0" fill="#00f590"/>
<rect x="160" y="398" width="1" height="17.0" fill="#00f590"/>
<rect x="158.0" y="402" width="5" height="7.0" fill="#00f590"/>
<rect x="168" y="406" width="1" height="16.0" fill="#00f590"/>
<rect x="166.0" y="407.5" width="5" height="5.5" fill="#00f590"/>
<rect x="176" y="412" width="1" height="45.0" fill="#dc143c"/>
<rect x="174.0" y="413" width="5" height="37.0" fill="#dc143c"/>
<rect x="184" y="447" width="1" height="40.0" fill="#dc143c"/>
<rect x="182.0" y="449" width="5" height="27.0" fill="#dc143c"/>
<rect x="192" y="473" width="1" height="39.0" fill="#dc143c"/>
<rect x="190.0" y="475" width="5" height="34.0" fill="#dc143c"/>
<rect x="200" y="500" width="1" height="45.0" fill="#dc143c"/>
<rect x="198.0" y="507" width="5" height="23.0" fill="#dc143c"/>
<rect x="208" y="528" width="1" height="28.0" fill="#dc143c"/>
<rect x="206.0" y="530" width="5" height="10.0" fill="#dc143c"/>
<rect x="216" y="511" width="1" height="27.0" fill="#dc143c"/>
<rect x="214.0" y="519" width="5" height="6.0" fill="#dc143c"/>
<rect x="224" y="515" width="1" height="25.0" fill="#dc143c"/>
<rect x="222.0" y="518" width="5" height="6.0" fill="#dc143c"/>
<rect x="232" y="487" width="1" height="45.0" fill="#d6d6d6"/>
<rect x="230.0" y="490" width="5" height="33.0" fill="#d6d6d6"/>
<rect x="240" y="440" width="1" height="38.0" fill="#d6d6d6"/>
<rect x="238.0" y="443" width="5" height="32.0" fill="#d6d6d6"/>
<rect x="248" y="428" width="1" height="48.0" fill="#d6d6d6"/>
<rect x="246.0" y="440" width="5" height="4.0" fill="#d6d6d6"/>
<rect x="256" y="440" width="1" height="92.0" fill="#dc143c"/>
<rect x="253.5" y="442" width="6" height="78.0" fill="#dc143c"/>
<rect x="264" y="480" width="1" height="100.0" fill="#dc143c"/>
<rect x="261.5" y="520" width="6" height="55.0" fill="#dc143c"/>
<rect x="272" y="462" width="1" height="118.0" fill="#dc143c"/>
<rect x="269.5" y="468" width="6" height="110.0" fill="#dc143c"/>
<rect x="280" y="450" width="1" height="45.0" fill="#dc143c"/>
<rect x="278.0" y="469" width="5" height="11.0" fill="#dc143c"/>
<rect x="288" y="403" width="1" height="82.0" fill="#d6d6d6"/>
<rect x="286.0" y="449" width="5" height="30.0" fill="#d6d6d6"/>
<rect x="296" y="403" width="1" height="50.0" fill="#d6d6d6"/>
<rect x="294.0" y="442" width="5" height="8.0" fill="#d6d6d6"/>
<rect x="304" y="382" width="1" height="71.0" fill="#00f590"/>
<rect x="302.0" y="409" width="5" height="33.0" fill="#00f590"/>
<rect x="312" y="347" width="1" height="64.0" fill="#00f590"/>
<rect x="310.0" y="356" width="5" height="54.0" fill="#00f590"/>
<rect x="320" y="340" width="1" height="35.0" fill="#00f590"/>
<rect x="318.0" y="352" width="5" height="4.0" fill="#00f590"/>
<rect x="328" y="314" width="1" height="46.0" fill="#00f590"/>
<rect x="326.0" y="327" width="5" height="25.0" fill="#00f590"/>
<rect x="336" y="305" width="1" height="36.0" fill="#00f590"/>
<rect x="334.0" y="324" width="5" height="4.0" fill="#00f590"/>
<rect x="344" y="262" width="1" height="63.0" fill="#00f590"/>
<rect x="342.0" y="284" width="5" height="39.0" fill="#00f590"/>
<rect x="352" y="283" width="1" height="37.0" fill="#00f590"/>
<rect x="350.0" y="285" width="5" height="29.5" fill="#00f590"/>
<rect x="360" y="305" width="1" height="27.0" fill="#00f590"/>
<rect x="358.0" y="315" width="5" height="16.0" fill="#00f590"/>
<rect x="368" y="296" width="1" height="86.0" fill="#00f590"/>
<rect x="366.0" y="298" width="5" height="32.0" fill="#00f590"/>
<rect x="376" y="258" width="1" height="72.0" fill="#00f590"/>
<rect x="374.0" y="261" width="5" height="37.0" fill="#00f590"/>
<rect x="384" y="231.7" width="1" height="64.3" fill="#00f590"/>
<rect x="382.0" y="262.5" width="5" height="18.5" fill="#00f590"/>
<rect x="392" y="262.5" width="1" height="53.5" fill="#00f590"/>
<rect x="390.0" y="279" width="5" height="27.0" fill="#00f590"/>
<rect x="400" y="229" width="1" height="82.7" fill="#00f590"/>
<rect x="398.0" y="231" width="5" height="75.0" fill="#00f590"/>
<rect x="408" y="215" width="1" height="117.5" fill="#00f590"/>
<rect x="406.0" y="233" width="5" height="84.5" fill="#00f590"/>
<rect x="416" y="294" width="1" height="65.0" fill="#00f590"/>
<rect x="414.0" y="317.5" width="5" height="15.0" fill="#00f590"/>
<rect x="424" y="325" width="1" height="31.0" fill="#d6d6d6"/>
<rect x="422.0" y="331" width="5" height="10.0" fill="#d6d6d6"/>
<rect x="432" y="338" width="1" height="18.0" fill="#d6d6d6"/>
<rect x="430.0" y="340" width="5" height="13.0" fill="#d6d6d6"/>
<rect x="440" y="355" width="1" height="108.0" fill="#dc143c"/>
<rect x="437.5" y="356.5" width="6" height="103.5" fill="#dc143c"/>
<rect x="448" y="447" width="1" height="63.0" fill="#dc143c"/>
<rect x="446.0" y="460" width="5" height="27.0" fill="#dc143c"/>
<rect x="456" y="468" width="1" height="59.0" fill="#dc143c"/>
<rect x="454.0" y="470" width="5" height="17.5" fill="#dc143c"/>
<rect x="464" y="435" width="1" height="54.0" fill="#dc143c"/>
<rect x="462.0" y="456" width="5" height="14.0" fill="#dc143c"/>
<rect x="472" y="367" width="1" height="91.0" fill="#dc143c"/>
<rect x="469.5" y="372.5" width="6" height="83.5" fill="#dc143c"/>
<rect x="480" y="319" width="1" height="63.0" fill="#00f590"/>
<rect x="478.0" y="335" width="5" height="40.0" fill="#00f590"/>
<rect x="488" y="299" width="1" height="38.5" fill="#00f590"/>
<rect x="486.0" y="312" width="5" height="23.0" fill="#00f590"/>
<rect x="496" y="283" width="1" height="32.0" fill="#00f590"/>
<rect x="494.0" y="296" width="5" height="18.0" fill="#00f590"/>
<rect x="504" y="283" width="1" height="101.0" fill="#00f590"/>
<rect x="502.0" y="296" width="5" height="59.0" fill="#00f590"/>
<rect x="512" y="266" width="1" height="104.0" fill="#00f590"/>
<rect x="510.0" y="282" width="5" height="74.0" fill="#00f590"/>
<rect x="520" y="270" width="1" height="76.0" fill="#00f590"/>
<rect x="518.0" y="283" width="5" height="36.0" fill="#00f590"/>
<rect x="528" y="311" width="1" height="63.0" fill="#00f590"/>
<rect x="526.0" y="318" width="5" height="22.0" fill="#00f590"/>
<rect x="536" y="262" width="1" height="86.0" fill="#00f590"/>
<rect x="534.0" y="273" width="5" height="73.0" fill="#00f590"/>
<rect x="544" y="261" width="1" height="26.5" fill="#00f590"/>
<rect x="542.0" y="273" width="5" height="5.0" fill="#00f590"/>
<rect x="552" y="262" width="1" height="28.0" fill="#00f590"/>
<rect x="550.0" y="277" width="5" height="8.0" fill="#00f590"/>
<rect x="560" y="258" width="1" height="34.0" fill="#00f590"/>
<rect x="558.0" y="267.5" width="5" height="22.5" fill="#00f590"/>
<rect x="568" y="255" width="1" height="36.0" fill="#00f590"/>
<rect x="566.0" y="270" width="5" height="19.0" fill="#00f590"/>
<rect x="576" y="286" width="1" height="39.0" fill="#00f590"/>
<rect x="574.0" y="288" width="5" height="29.5" fill="#00f590"/>
<rect x="584" y="296" width="1" height="31.5" fill="#00f590"/>
<rect x="582.0" y="305" width="5" height="14.0" fill="#00f590"/>
<rect x="592" y="291" width="1" height="26.5" fill="#00f590"/>
<rect x="590.0" y="304" width="5" height="6.0" fill="#00f590"/>
<rect x="600" y="305" width="1" height="70.0" fill="#d6d6d6"/>
<rect x="598.0" y="321" width="5" height="11.5" fill="#d6d6d6"/>
<rect x="608" y="331" width="1" height="16.5" fill="#d6d6d6"/>
<rect x="606.0" y="335" width="5" height="10.0" fill="#d6d6d6"/>
<rect x="616" y="342" width="1" height="35.0" fill="#d6d6d6"/>
<rect x="614.0" y="345" width="5" height="2.5" fill="#d6d6d6"/>
<rect x="624" y="320" width="1" height="30.0" fill="#d6d6d6"/>
<rect x="622.0" y="322" width="5" height="24.0" fill="#d6d6d6"/>
<rect x="632" y="275" width="1" height="55.0" fill="#00f590"/>
<rect x="630.0" y="276" width="5" height="46.5" fill="#00f590"/>
<rect x="640" y="257" width="1" height="30.5" fill="#00f590"/>
<rect x="638.0" y="266" width="5" height="10.0" fill="#00f590"/>
<rect x="648" y="270" width="1" height="35.0" fill="#00f590"/>
<rect x="646.0" y="274" width="5" height="16.0" fill="#00f590"/>
<rect x="656" y="288" width="1" height="57.0" fill="#d6d6d6"/>
<rect x="654.0" y="289" width="5" height="50.0" fill="#d6d6d6"/>
<rect x="664" y="331" width="1" height="21.5" fill="#d6d6d6"/>
<rect x="662.0" y="337.5" width="5" height="11.5" fill="#d6d6d6"/>
<rect x="672" y="299" width="1" height="61.0" fill="#d6d6d6"/>
<rect x="670.0" y="300" width="5" height="47.5" fill="#d6d6d6"/>
<rect x="680" y="286" width="1" height="21.5" fill="#00f590"/>
<rect x="678.0" y="290" width="5" height="10.0" fill="#00f590"/>
<rect x="688" y="287.5" width="1" height="21.5" fill="#00f590"/>
<rect x="686.0" y="291" width="5" height="10.0" fill="#00f590"/>
<rect x="696" y="277.5" width="1" height="37.5" fill="#00f590"/>
<rect x="694.0" y="292" width="5" height="10.5" fill="#00f590"/>
<rect x="704" y="290" width="1" height="17.5" fill="#00f590"/>
<rect x="702.0" y="292.5" width="5" height="7.5" fill="#00f590"/>
<rect x="712" y="296" width="1" height="18.0" fill="#00f590"/>
<rect x="710.0" y="299" width="5" height="12.0" fill="#00f590"/>
<rect x="720" y="309" width="1" height="36.0" fill="#d6d6d6"/>
<rect x="718.0" y="310" width="5" height="22.5" fill="#d6d6d6"/>
<rect x="728" y="314" width="1" height="70.0" fill="#dc143c"/>
<rect x="725.5" y="316" width="6" height="66.0" fill="#dc143c"/>
<rect x="736" y="340" width="1" height="26.0" fill="#dc143c"/>
<rect x="734.0" y="349" width="5" height="2.0" fill="#dc143c"/>
<rect x="744" y="333" width="1" height="51.0" fill="#dc143c"/>
<rect x="741.5" y="335" width="6" height="47.0" fill="#dc143c"/>
<rect x="752" y="319" width="1" height="12.5" fill="#dc143c"/>
<rect x="750.0" y="329" width="5" height="2.0" fill="#dc143c"/>
<rect x="760" y="326" width="1" height="16.0" fill="#dc143c"/>
<rect x="758.0" y="328" width="5" height="2.0" fill="#dc143c"/>
<rect x="768" y="321" width="1" height="7.0" fill="#dc143c"/>
<rect x="766.0" y="323" width="5" height="4.0" fill="#dc143c"/>
<rect x="776" y="322" width="1" height="10.0" fill="#dc143c"/>
<rect x="774.0" y="325" width="5" height="2.0" fill="#dc143c"/>
<rect x="784" y="320" width="1" height="7.5" fill="#dc143c"/>
<rect x="782.0" y="321.5" width="5" height="2.0" fill="#dc143c"/>
<rect x="792" y="317" width="1" height="6.0" fill="#dc143c"/>
<rect x="790.0" y="319.5" width="5" height="2.5" fill="#dc143c"/>
<rect x="800" y="296" width="1" height="26.0" fill="#00f590"/>
<rect x="798.0" y="300" width="5" height="18.0" fill="#00f590"/>
<rect x="808" y="286" width="1" height="14.0" fill="#00f590"/>
<rect x="806.0" y="287.5" width="5" height="10.0" fill="#00f590"/>
<rect x="816" y="288" width="1" height="52.0" fill="#00f590"/>
<rect x="814.0" y="294" width="5" height="31.0" fill="#00f590"/>
<rect x="824" y="306" width="1" height="31.0" fill="#d6d6d6"/>
<rect x="822.0" y="321.7" width="5" height="8.8" fill="#d6d6d6"/>
<rect x="832" y="289.7" width="1" height="56.3" fill="#00f590"/>
<rect x="830.0" y="297" width="5" height="45.0" fill="#00f590"/>
<rect x="840" y="289" width="1" height="26.0" fill="#00f590"/>
<rect x="838.0" y="296" width="5" height="16.5" fill="#00f590"/>
<rect x="848" y="272" width="1" height="43.0" fill="#00f590"/>
<rect x="846.0" y="276" width="5" height="35.8" fill="#00f590"/>
<rect x="856" y="252" width="1" height="30.0" fill="#00f590"/>
<rect x="854.0" y="257.5" width="5" height="20.0" fill="#00f590"/>
<rect x="864" y="239" width="1" height="21.0" fill="#00f590"/>
<rect x="862.0" y="250" width="5" height="9.0" fill="#00f590"/>
<rect x="872" y="245" width="1" height="17.0" fill="#00f590"/>
<rect x="870.0" y="251" width="5" height="6.5" fill="#00f590"/>
<rect x="880" y="234" width="1" height="26.0" fill="#00f590"/>
<rect x="878.0" y="235" width="5" height="22.5" fill="#00f590"/>
<rect x="888" y="216" width="1" height="23.0" fill="#00f590"/>
<rect x="886.0" y="217.5" width="5" height="17.5" fill="#00f590"/>
<rect x="896" y="190" width="1" height="36.0" fill="#00f590"/>
<rect x="894.0" y="204" width="5" height="13.5" fill="#00f590"/>
<rect x="904" y="202.5" width="1" height="13.5" fill="#00f590"/>
<rect x="902.0" y="205" width="5" height="5.0" fill="#00f590"/>
<rect x="912" y="209" width="1" height="10.0" fill="#00f590"/>
<rect x="910.0" y="210" width="5" height="6.0" fill="#00f590"/>
<rect x="920" y="207.5" width="1" height="26.5" fill="#00f590"/>
<rect x="918.0" y="217.5" width="5" height="15.0" fill="#00f590"/>
<rect x="928" y="209" width="1" height="26.0" fill="#00f590"/>
<rect x="926.0" y="220" width="5" height="14.0" fill="#00f590"/>
<rect x="936" y="212.5" width="1" height="16.5" fill="#00f590"/>
<rect x="934.0" y="217.5" width="5" height="5.0" fill="#00f590"/>
<rect x="944" y="224" width="1" height="34.5" fill="#d6d6d6"/>
<rect x="942.0" y="224.4" width="5" height="26.4" fill="#d6d6d6"/>
<rect x="952" y="245" width="1" height="7.5" fill="#d6d6d6"/>
<rect x="950.0" y="246" width="5" height="5.0" fill="#d6d6d6"/>
<rect x="960" y="237.5" width="1" height="10.0" fill="#d6d6d6"/>
<rect x="958.0" y="239" width="5" height="7.0" fill="#d6d6d6"/>
<rect x="968" y="224" width="1" height="16.0" fill="#d6d6d6"/>
<rect x="966.0" y="229" width="5" height="10.0" fill="#d6d6d6"/>
<rect x="976" y="227.5" width="1" height="18.5" fill="#d6d6d6"/>
<rect x="974.0" y="230" width="5" height="15.0" fill="#d6d6d6"/>
<rect x="984" y="244" width="1" height="16.0" fill="#d6d6d6"/>
<rect x="982.0" y="246" width="5" height="12.5" fill="#d6d6d6"/>
<rect x="992" y="236" width="1" height="24.0" fill="#d6d6d6"/>
<rect x="990.0" y="250" width="5" height="9.0" fill="#d6d6d6"/>
<rect x="1000" y="249" width="1" height="27.0" fill="#d6d6d6"/>
<rect x="998.0" y="250" width="5" height="17.5" fill="#d6d6d6"/>
<rect x="1008" y="245" width="1" height="25.0" fill="#d6d6d6"/>
<rect x="1006.0" y="252" width="5" height="17.0" fill="#d6d6d6"/>
<rect x="1016" y="252" width="1" height="31.0" fill="#d6d6d6"/>
<rect x="1014.0" y="253" width="5" height="27.0" fill="#d6d6d6"/>
<rect x="1024" y="239" width="1" height="41.0" fill="#d6d6d6"/>
<rect x="1022.0" y="265" width="5" height="12.5" fill="#d6d6d6"/>
<rect x="1032" y="264" width="1" height="31.0" fill="#d6d6d6"/>
<rect x="1030.0" y="266" width="5" height="15.0" fill="#d6d6d6"/>
<rect x="1040" y="250" width="1" height="125.0" fill="#dc143c"/>
<rect x="1037.5" y="252.5" width="6" height="120.0" fill="#dc143c"/>
<rect x="1048" y="268" width="1" height="112.0" fill="#dc143c"/>
<rect x="1045.5" y="272.5" width="6" height="105.0" fill="#dc143c"/>
<rect x="1056" y="216" width="1" height="69.0" fill="#dc143c"/>
<rect x="1054.0" y="275" width="5" height="7.0" fill="#dc143c"/>
<rect x="1064" y="198" width="1" height="106.0" fill="#00f590"/>
<rect x="1062.0" y="202.5" width="5" height="87.5" fill="#00f590"/>
<rect x="1072" y="150" width="1" height="65.0" fill="#00f590"/>
<rect x="1070.0" y="155" width="5" height="47.5" fill="#00f590"/>
<rect x="1080" y="136" width="1" height="49.0" fill="#00f590"/>
<rect x="1078.0" y="157.5" width="5" height="16.5" fill="#00f590"/>
<rect x="1088" y="163" width="1" height="54.0" fill="#00f590"/>
<rect x="1086.0" y="172.5" width="5" height="43.3" fill="#00f590"/>
<rect x="1096" y="200.6" width="1" height="44.9" fill="#00f590"/>
<rect x="1094.0" y="217" width="5" height="1.4" fill="#00f590"/>
<rect x="1104" y="186" width="1" height="57.0" fill="#00f590"/>
<rect x="1102.0" y="190" width="5" height="26.4" fill="#00f590"/>
<rect x="1112" y="155" width="1" height="40.0" fill="#00f590"/>
<rect x="1110.0" y="166" width="5" height="24.0" fill="#00f590"/>
<rect x="1120" y="99" width="1" height="71.0" fill="#00f590"/>
<rect x="1118.0" y="100" width="5" height="66.0" fill="#00f590"/>
<rect x="1128" y="68" width="1" height="48.0" fill="#00f590"/>
<rect x="1126.0" y="72.5" width="5" height="27.5" fill="#00f590"/>
<rect x="1136" y="41" width="1" height="64.0" fill="#00f590"/>
<rect x="1134.0" y="64" width="5" height="2.0" fill="#00f590"/>
<rect x="1144" y="50" width="1" height="35.0" fill="#00f590"/>
<rect x="1142.0" y="60" width="5" height="6.0" fill="#00f590"/>
<rect x="1152" y="66" width="1" height="82.0" fill="#00f590"/>
<rect x="1150.0" y="67" width="5" height="73.0" fill="#00f590"/>
<rect x="1160" y="112" width="1" height="64.0" fill="#00f590"/>
<rect x="1158.0" y="120" width="5" height="19.0" fill="#00f590"/>
<rect x="1168" y="106" width="1" height="35.0" fill="#00f590"/>
<rect x="1166.0" y="110" width="5" height="10.0" fill="#00f590"/>
<rect x="1176" y="104" width="1" height="26.0" fill="#00f590"/>
<rect x="1174.0" y="112" width="5" height="10.0" fill="#00f590"/>
<rect x="1184" y="64" width="1" height="54.0" fill="#00f590"/>
<rect x="1182.0" y="75" width="5" height="37.5" fill="#00f590"/>
<rect x="1192" y="64" width="1" height="41.0" fill="#00f590"/>
<rect x="1190.0" y="72.5" width="5" height="23.5" fill="#00f590"/>
<rect x="1200" y="86" width="1" height="55.0" fill="#00f590"/>
<rect x="1198.0" y="94" width="5" height="40.0" fill="#00f590"/>
<rect x="1208" y="100" width="1" height="55.0" fill="#00f590"/>
<rect x="1206.0" y="115" width="5" height="19.0" fill="#00f590"/>
<rect x="1216" y="114" width="1" height="51.0" fill="#d6d6d6"/>
<rect x="1214.0" y="116" width="5" height="44.0" fill="#d6d6d6"/>
<rect x="1224" y="156" width="1" height="32.0" fill="#d6d6d6"/>
<rect x="1222.0" y="158" width="5" height="2.0" fill="#d6d6d6"/>
<rect x="1232" y="75" width="1" height="111.7" fill="#00f590"/>
<rect x="1230.0" y="88" width="5" height="71.0" fill="#00f590"/>
<rect x="1240" y="66" width="1" height="44.0" fill="#00f590"/>
<rect x="1238.0" y="86" width="5" height="8.0" fill="#00f590"/>
<rect x="1248" y="91" width="1" height="61.5" fill="#00f590"/>
<rect x="1246.0" y="94" width="5" height="31.0" fill="#00f590"/>
<rect x="1256" y="125" width="1" height="63.0" fill="#d6d6d6"/>
<rect x="1254.0" y="126" width="5" height="59.0" fill="#d6d6d6"/>
<rect x="1264" y="180" width="1" height="85.0" fill="#dc143c"/>
<rect x="1262.0" y="182" width="5" height="15.0" fill="#dc143c"/>
<rect x="1272" y="192" width="1" height="80.0" fill="#dc143c"/>
<rect x="1270.0" y="195" width="5" height="45.0" fill="#dc143c"/>
<rect x="1280" y="236" width="1" height="63.0" fill="#dc143c"/>
<rect x="1278.0" y="239" width="5" height="53.0" fill="#dc143c"/>
<rect x="1288" y="232" width="1" height="65.5" fill="#dc143c"/>
<rect x="1286.0" y="236" width="5" height="54.0" fill="#dc143c"/>
<rect x="1296" y="233" width="1" height="47.0" fill="#dc143c"/>
<rect x="1294.0" y="237" width="5" height="39.0" fill="#dc143c"/>
<rect x="1304" y="272" width="1" height="53.0" fill="#dc143c"/>
<rect x="1302.0" y="275" width="5" height="46.0" fill="#dc143c"/>
<rect x="1312" y="282.5" width="1" height="51.5" fill="#dc143c"/>
<rect x="1310.0" y="297.5" width="5" height="30.0" fill="#dc143c"/>
<rect x="1320" y="269" width="1" height="32.0" fill="#dc143c"/>
<rect x="1318.0" y="277.5" width="5" height="20.0" fill="#dc143c"/>
<rect x="1328" y="270" width="1" height="37.5" fill="#dc143c"/>
<rect x="1326.0" y="271" width="5" height="14.0" fill="#dc143c"/>
<rect x="1336" y="268" width="1" height="106.0" fill="#dc143c"/>
<rect x="1333.5" y="272.5" width="6" height="97.5" fill="#dc143c"/>
<rect x="1344" y="360" width="1" height="50.0" fill="#dc143c"/>
<rect x="1342.0" y="367.5" width="5" height="10.0" fill="#dc143c"/>
<rect x="1352" y="331" width="1" height="49.0" fill="#dc143c"/>
<rect x="1350.0" y="335" width="5" height="37.5" fill="#dc143c"/>
<rect x="1360" y="304" width="1" height="63.5" fill="#dc143c"/>
<rect x="1358.0" y="322.5" width="5" height="13.5" fill="#dc143c"/>
<polyline points="0.0,277.0 100.0,275.0 200.0,274.0 290.0,272.0 317.0,270.0 408.0,267.0 472.0,268.0 540.0,271.0 640.0,275.0 727.0,277.5 765.0,282.5 827.0,286.0 890.0,287.5 1000.0,289.0 1075.0,288.0 1150.0,284.0 1225.0,281.0 1275.0,280.0 1337.0,284.0 1360.0,287.0" fill="none" stroke="#0000ff" stroke-width="2.2"/>
<circle cx="0" cy="391" r="3.1" fill="#ffd700"/>
<circle cx="8" cy="391" r="3.1" fill="#ffd700"/>
<circle cx="16" cy="391" r="3.1" fill="#ffd700"/>
<circle cx="24" cy="391" r="3.1" fill="#ffd700"/>
<circle cx="32" cy="391" r="3.1" fill="#ffd700"/>
<circle cx="40" cy="391" r="3.1" fill="#ffd700"/>
<circle cx="48" cy="391" r="3.1" fill="#ffd700"/>
<circle cx="56" cy="391" r="3.1" fill="#ffd700"/>
<circle cx="64" cy="391" r="3.1" fill="#ffd700"/>
<circle cx="72" cy="391" r="3.1" fill="#ffd700"/>
<circle cx="80" cy="391" r="3.1" fill="#00fa00"/>
<circle cx="88" cy="391" r="3.1" fill="#ffd700"/>
<circle cx="96" cy="391" r="3.1" fill="#ffd700"/>
<circle cx="104" cy="391" r="3.1" fill="#ffd700"/>
<circle cx="112" cy="391" r="3.1" fill="#ffd700"/>
<circle cx="120" cy="391" r="3.1" fill="#ffd700"/>
<circle cx="128" cy="391" r="3.1" fill="#ffd700"/>
<circle cx="136" cy="391" r="3.1" fill="#ffd700"/>
<circle cx="144" cy="391" r="3.1" fill="#ffd700"/>
<circle cx="152" cy="391" r="3.1" fill="#ffd700"/>
<circle cx="160" cy="391" r="3.1" fill="#ffd700"/>
<circle cx="168" cy="391" r="3.1" fill="#ffd700"/>
<circle cx="176" cy="391" r="3.1" fill="#ffd700"/>
<circle cx="184" cy="391" r="3.1" fill="#ffd700"/>
<circle cx="192" cy="391" r="3.1" fill="#ffd700"/>
<circle cx="200" cy="391" r="3.1" fill="#ffd700"/>
<circle cx="208" cy="391" r="3.1" fill="#ffd700"/>
<circle cx="216" cy="391" r="3.1" fill="#ffd700"/>
<circle cx="224" cy="391" r="3.1" fill="#ffd700"/>
<circle cx="232" cy="391" r="3.1" fill="#ffd700"/>
<circle cx="240" cy="391" r="3.1" fill="#ffd700"/>
<circle cx="248" cy="391" r="3.1" fill="#ffd700"/>
<circle cx="256" cy="391" r="3.1" fill="#ffd700"/>
<circle cx="264" cy="391" r="3.1" fill="#ffd700"/>
<circle cx="272" cy="391" r="3.1" fill="#ffd700"/>
<circle cx="280" cy="391" r="3.1" fill="#ffd700"/>
<circle cx="288" cy="391" r="3.1" fill="#ffd700"/>
<circle cx="296" cy="391" r="3.1" fill="#ffd700"/>
<circle cx="304" cy="391" r="3.1" fill="#ffd700"/>
<circle cx="312" cy="391" r="3.1" fill="#ffd700"/>
<circle cx="320" cy="391" r="3.1" fill="#00fa00"/>
<circle cx="328" cy="391" r="3.1" fill="#00fa00"/>
<circle cx="336" cy="391" r="3.1" fill="#00fa00"/>
<circle cx="344" cy="391" r="3.1" fill="#00fa00"/>
<circle cx="352" cy="391" r="3.1" fill="#00fa00"/>
<circle cx="360" cy="391" r="3.1" fill="#00fa00"/>
<circle cx="368" cy="391" r="3.1" fill="#00fa00"/>
<circle cx="376" cy="391" r="3.1" fill="#00fa00"/>
<circle cx="384" cy="391" r="3.1" fill="#00fa00"/>
<circle cx="392" cy="391" r="3.1" fill="#00fa00"/>
<circle cx="400" cy="391" r="3.1" fill="#00fa00"/>
<circle cx="408" cy="391" r="3.1" fill="#00fa00"/>
<circle cx="416" cy="391" r="3.1" fill="#00fa00"/>
<circle cx="424" cy="391" r="3.1" fill="#00fa00"/>
<circle cx="432" cy="391" r="3.1" fill="#00fa00"/>
<circle cx="440" cy="391" r="3.1" fill="#00fa00"/>
<circle cx="448" cy="391" r="3.1" fill="#ffd700"/>
<circle cx="456" cy="391" r="3.1" fill="#ffd700"/>
<circle cx="464" cy="391" r="3.1" fill="#ffd700"/>
<circle cx="472" cy="391" r="3.1" fill="#ffd700"/>
<circle cx="480" cy="391" r="3.1" fill="#00fa00"/>
<circle cx="488" cy="391" r="3.1" fill="#00fa00"/>
<circle cx="496" cy="391" r="3.1" fill="#00fa00"/>
<circle cx="504" cy="391" r="3.1" fill="#00fa00"/>
<circle cx="512" cy="391" r="3.1" fill="#00fa00"/>
<circle cx="520" cy="391" r="3.1" fill="#00fa00"/>
<circle cx="528" cy="391" r="3.1" fill="#00fa00"/>
<circle cx="536" cy="391" r="3.1" fill="#00fa00"/>
<circle cx="544" cy="391" r="3.1" fill="#00fa00"/>
<circle cx="552" cy="391" r="3.1" fill="#00fa00"/>
<circle cx="560" cy="391" r="3.1" fill="#00fa00"/>
<circle cx="568" cy="391" r="3.1" fill="#00fa00"/>
<circle cx="576" cy="391" r="3.1" fill="#00fa00"/>
<circle cx="584" cy="391" r="3.1" fill="#00fa00"/>
<circle cx="592" cy="391" r="3.1" fill="#00fa00"/>
<circle cx="600" cy="391" r="3.1" fill="#00fa00"/>
<circle cx="608" cy="391" r="3.1" fill="#00fa00"/>
<circle cx="616" cy="391" r="3.1" fill="#00fa00"/>
<circle cx="624" cy="391" r="3.1" fill="#00fa00"/>
<circle cx="632" cy="391" r="3.1" fill="#00fa00"/>
<circle cx="640" cy="391" r="3.1" fill="#00fa00"/>
<circle cx="648" cy="391" r="3.1" fill="#00fa00"/>
<circle cx="656" cy="391" r="3.1" fill="#00fa00"/>
<circle cx="664" cy="391" r="3.1" fill="#00fa00"/>
<circle cx="672" cy="391" r="3.1" fill="#00fa00"/>
<circle cx="680" cy="391" r="3.1" fill="#00fa00"/>
<circle cx="688" cy="391" r="3.1" fill="#00fa00"/>
<circle cx="696" cy="391" r="3.1" fill="#00fa00"/>
<circle cx="704" cy="391" r="3.1" fill="#00fa00"/>
<circle cx="712" cy="391" r="3.1" fill="#00fa00"/>
<circle cx="720" cy="391" r="3.1" fill="#00fa00"/>
<circle cx="728" cy="391" r="3.1" fill="#00fa00"/>
<circle cx="736" cy="374.7" r="3.1" fill="#00fa00"/>
<circle cx="744" cy="374.7" r="3.1" fill="#00fa00"/>
<circle cx="752" cy="374.7" r="3.1" fill="#00fa00"/>
<circle cx="760" cy="374.7" r="3.1" fill="#00fa00"/>
<circle cx="768" cy="374.7" r="3.1" fill="#00fa00"/>
<circle cx="776" cy="374.7" r="3.1" fill="#00fa00"/>
<circle cx="784" cy="374.7" r="3.1" fill="#00fa00"/>
<circle cx="792" cy="374.7" r="3.1" fill="#00fa00"/>
<circle cx="800" cy="374.7" r="3.1" fill="#00fa00"/>
<circle cx="808" cy="374.7" r="3.1" fill="#00fa00"/>
<circle cx="816" cy="374.7" r="3.1" fill="#00fa00"/>
<circle cx="824" cy="374.7" r="3.1" fill="#00fa00"/>
<circle cx="832" cy="374.7" r="3.1" fill="#00fa00"/>
<circle cx="840" cy="374.7" r="3.1" fill="#00fa00"/>
<circle cx="848" cy="374.7" r="3.1" fill="#00fa00"/>
<circle cx="856" cy="374.7" r="3.1" fill="#00fa00"/>
<circle cx="864" cy="374.7" r="3.1" fill="#00fa00"/>
<circle cx="872" cy="374.7" r="3.1" fill="#00fa00"/>
<circle cx="880" cy="374.7" r="3.1" fill="#00fa00"/>
<circle cx="888" cy="374.7" r="3.1" fill="#00fa00"/>
<circle cx="896" cy="374.7" r="3.1" fill="#00fa00"/>
<circle cx="904" cy="374.7" r="3.1" fill="#00fa00"/>
<circle cx="912" cy="374.7" r="3.1" fill="#00fa00"/>
<circle cx="920" cy="374.7" r="3.1" fill="#00fa00"/>
<circle cx="928" cy="374.7" r="3.1" fill="#00fa00"/>
<circle cx="936" cy="374.7" r="3.1" fill="#00fa00"/>
<circle cx="944" cy="374.7" r="3.1" fill="#00fa00"/>
<circle cx="952" cy="374.7" r="3.1" fill="#00fa00"/>
<circle cx="960" cy="374.7" r="3.1" fill="#00fa00"/>
<circle cx="968" cy="374.7" r="3.1" fill="#00fa00"/>
<circle cx="976" cy="374.7" r="3.1" fill="#00fa00"/>
<circle cx="984" cy="374.7" r="3.1" fill="#00fa00"/>
<circle cx="992" cy="374.7" r="3.1" fill="#00fa00"/>
<circle cx="1000" cy="374.7" r="3.1" fill="#00fa00"/>
<circle cx="1008" cy="374.7" r="3.1" fill="#00fa00"/>
<circle cx="1016" cy="374.7" r="3.1" fill="#00fa00"/>
<circle cx="1024" cy="374.7" r="3.1" fill="#00fa00"/>
<circle cx="1032" cy="374.7" r="3.1" fill="#00fa00"/>
<circle cx="1040" cy="374.7" r="3.1" fill="#00fa00"/>
<circle cx="1048" cy="374.7" r="3.1" fill="#00fa00"/>
<circle cx="1056" cy="374.7" r="3.1" fill="#00fa00"/>
<circle cx="1064" cy="374.7" r="3.1" fill="#00fa00"/>
<circle cx="1072" cy="374.7" r="3.1" fill="#00fa00"/>
<circle cx="1080" cy="374.7" r="3.1" fill="#00fa00"/>
<circle cx="1088" cy="374.7" r="3.1" fill="#00fa00"/>
<circle cx="1096" cy="374.7" r="3.1" fill="#00fa00"/>
<circle cx="1104" cy="374.7" r="3.1" fill="#00fa00"/>
<circle cx="1112" cy="374.7" r="3.1" fill="#00fa00"/>
<circle cx="1120" cy="374.7" r="3.1" fill="#00fa00"/>
<circle cx="1128" cy="374.7" r="3.1" fill="#00fa00"/>
<circle cx="1136" cy="374.7" r="3.1" fill="#00fa00"/>
<circle cx="1144" cy="374.7" r="3.1" fill="#00fa00"/>
<circle cx="1152" cy="374.7" r="3.1" fill="#00fa00"/>
<circle cx="1160" cy="374.7" r="3.1" fill="#00fa00"/>
<circle cx="1168" cy="374.7" r="3.1" fill="#00fa00"/>
<circle cx="1176" cy="374.7" r="3.1" fill="#00fa00"/>
<circle cx="1184" cy="374.7" r="3.1" fill="#00fa00"/>
<circle cx="1192" cy="374.7" r="3.1" fill="#00fa00"/>
<circle cx="1200" cy="374.7" r="3.1" fill="#00fa00"/>
<circle cx="1208" cy="374.7" r="3.1" fill="#00fa00"/>
<circle cx="1216" cy="374.7" r="3.1" fill="#00fa00"/>
<circle cx="1224" cy="374.7" r="3.1" fill="#00fa00"/>
<circle cx="1232" cy="374.7" r="3.1" fill="#00fa00"/>
<circle cx="1240" cy="374.7" r="3.1" fill="#00fa00"/>
<circle cx="1248" cy="374.7" r="3.1" fill="#00fa00"/>
<circle cx="1256" cy="374.7" r="3.1" fill="#00fa00"/>
<circle cx="1264" cy="374.7" r="3.1" fill="#00fa00"/>
<circle cx="1272" cy="374.7" r="3.1" fill="#00fa00"/>
<circle cx="1280" cy="374.7" r="3.1" fill="#00fa00"/>
<circle cx="1288" cy="374.7" r="3.1" fill="#00fa00"/>
<circle cx="1296" cy="374.7" r="3.1" fill="#00fa00"/>
<circle cx="1304" cy="374.7" r="3.1" fill="#00fa00"/>
<circle cx="1312" cy="374.7" r="3.1" fill="#00fa00"/>
<circle cx="1320" cy="374.7" r="3.1" fill="#00fa00"/>
<circle cx="1328" cy="374.7" r="3.1" fill="#00fa00"/>
<circle cx="1336" cy="374.7" r="3.1" fill="#00fa00"/>
<circle cx="1344" cy="374.7" r="3.1" fill="#00fa00"/>
<circle cx="1352" cy="374.7" r="3.1" fill="#00fa00"/>
<circle cx="1360" cy="374.7" r="3.1" fill="#00fa00"/>
<polyline points="0.0,462.0 32.3,373.7 64.4,427.0 80.4,372.0 112.0,471.5 144.0,389.0 208.0,557.0 248.0,430.5 272.0,582.0 408.4,200.3 456.0,528.0 568.0,252.5 616.0,380.0 640.0,257.0 736.6,384.0 800.0,283.5 832.0,349.5 896.0,183.5 1048.0,380.5 1136.0,29.0 1216.0,196.5 1240.0,53.5 1344.5,433.0" fill="none" stroke="#ba55d3" stroke-width="4" stroke-linejoin="miter"/>
<polygon points="1132.2,10.2 1139,10.2 1139,28.2 1149.1,20.1 1149.1,29.6 1135.7,42.3 1121.6,29.6 1121.6,20.1 1132.2,28.2" fill="#00ff00"/>
<path d="M1,381.5 l4.2,-4.5 h-2.4 v-6 h-3.6 v6 h-2.4 z" fill="none" stroke="#e01010" stroke-width="1.1"/>
<path d="M39,367.5 l4.2,-4.5 h-2.4 v-6 h-3.6 v6 h-2.4 z" fill="none" stroke="#e01010" stroke-width="1.1"/>
<path d="M63,376.5 l4.2,-4.5 h-2.4 v-6 h-3.6 v6 h-2.4 z" fill="none" stroke="#e01010" stroke-width="1.1"/>
<path d="M95,372.0 l4.2,-4.5 h-2.4 v-6 h-3.6 v6 h-2.4 z" fill="none" stroke="#e01010" stroke-width="1.1"/>
<path d="M440,300.5 l4.2,-4.5 h-2.4 v-6 h-3.6 v6 h-2.4 z" fill="none" stroke="#e01010" stroke-width="1.1"/>
<path d="M615,300.5 l4.2,-4.5 h-2.4 v-6 h-3.6 v6 h-2.4 z" fill="none" stroke="#e01010" stroke-width="1.1"/>
<path d="M663,295.5 l4.2,-4.5 h-2.4 v-6 h-3.6 v6 h-2.4 z" fill="none" stroke="#e01010" stroke-width="1.1"/>
<path d="M823,289.5 l4.2,-4.5 h-2.4 v-6 h-3.6 v6 h-2.4 z" fill="none" stroke="#e01010" stroke-width="1.1"/>
<path d="M943,207.5 l4.2,-4.5 h-2.4 v-6 h-3.6 v6 h-2.4 z" fill="none" stroke="#e01010" stroke-width="1.1"/>
<path d="M1199,35.5 l4.2,-4.5 h-2.4 v-6 h-3.6 v6 h-2.4 z" fill="none" stroke="#e01010" stroke-width="1.1"/>
<path d="M24,442.5 l4.2,4.5 h-2.4 v6 h-3.6 v-6 h-2.4 z" fill="none" stroke="#1f9a3a" stroke-width="1.1"/>
<path d="M48,440.5 l4.2,4.5 h-2.4 v6 h-3.6 v-6 h-2.4 z" fill="none" stroke="#1f9a3a" stroke-width="1.1"/>
<path d="M80,438.0 l4.2,4.5 h-2.4 v6 h-3.6 v-6 h-2.4 z" fill="none" stroke="#1f9a3a" stroke-width="1.1"/>
<path d="M305,504.5 l4.2,4.5 h-2.4 v6 h-3.6 v-6 h-2.4 z" fill="none" stroke="#1f9a3a" stroke-width="1.1"/>
<path d="M512,440.5 l4.2,4.5 h-2.4 v6 h-3.6 v-6 h-2.4 z" fill="none" stroke="#1f9a3a" stroke-width="1.1"/>
<path d="M631,383.5 l4.2,4.5 h-2.4 v6 h-3.6 v-6 h-2.4 z" fill="none" stroke="#1f9a3a" stroke-width="1.1"/>
<path d="M807,330.5 l4.2,4.5 h-2.4 v6 h-3.6 v-6 h-2.4 z" fill="none" stroke="#1f9a3a" stroke-width="1.1"/>
<path d="M849,345.5 l4.2,4.5 h-2.4 v6 h-3.6 v-6 h-2.4 z" fill="none" stroke="#1f9a3a" stroke-width="1.1"/>
<text x="713" y="401" font-family='"Liberation Sans", sans-serif' font-size="10.6" fill="#5f8396">ADR Start</text>
<text x="1040.7" y="39.8" font-family='"Liberation Sans", sans-serif' font-size="24.2" font-weight="normal" fill="#ffee00" text-anchor="start" lengthAdjust="spacingAndGlyphs" textLength="63.3">DOT 0</text>
<text x="1265" y="63.8" font-family='"Liberation Sans", sans-serif' font-size="24.2" font-weight="normal" fill="#ffee00" text-anchor="start" lengthAdjust="spacingAndGlyphs" textLength="64">DOT 2</text>
<text x="1131" y="208.8" font-family='"Liberation Sans", sans-serif' font-size="24.2" font-weight="normal" fill="#ffee00" text-anchor="start" lengthAdjust="spacingAndGlyphs" textLength="61.5">DOT 1</text>
<text x="1005" y="60.3" font-family='"Liberation Sans", sans-serif' font-size="19" font-weight="normal" fill="#ffffff" text-anchor="start" lengthAdjust="spacingAndGlyphs" textLength="59.5">1 Sel ?</text>
<text x="1199" y="233" font-family='"Liberation Sans", sans-serif' font-size="18" font-weight="normal" fill="#ffffff" text-anchor="start" lengthAdjust="spacingAndGlyphs" textLength="54">2 Sel ?</text>
<text x="1255" y="430" font-family='"Liberation Sans", sans-serif' font-size="17.6" font-weight="normal" fill="#ffffff" text-anchor="start" lengthAdjust="spacingAndGlyphs" textLength="62">3-Buy ?</text>
<path d="M998.3,62 L1063.8,43 M1001.1,45.5 L1067.6,64.9" stroke="#ffee00" stroke-width="2.8" fill="none"/>
<path d="M1250.7,413.3 L1311.1,433.1 M1255.2,434.6 L1316.6,411.8" stroke="#ffee00" stroke-width="2.8" fill="none"/>
<polygon points="1261.8,199.3 1196.3,254.8 1207,261.8 1161,334 1181,347 1227,273.5 1237.9,281.8" fill="none" stroke="#ffee00" stroke-width="1.6" stroke-linejoin="miter"/>
<rect x="925.5" y="3.5" width="482" height="538" fill="none" stroke="#ffffff" stroke-width="5"/>
<rect x="1370" y="0" width="6" height="7" fill="#16202c"/>
<line x1="1361" y1="222" x2="1390" y2="222" stroke="#ffee00" stroke-width="1.4" stroke-dasharray="4.5,1.5"/>
<line x1="1365" y1="375.5" x2="1390" y2="375.5" stroke="#ff0000" stroke-width="1.4" stroke-dasharray="4.5,1.5"/>
<g transform="translate(1473.5,36) scale(0.7,1)"><text x="0" y="0" text-anchor="middle" font-family='"Liberation Sans", sans-serif' font-size="25" font-weight="bold" fill="#ffffff" stroke="#ffffff" stroke-width="0.8">GBPUSD</text></g>
<g transform="translate(1473.5,57) scale(1.25,1)"><text x="0" y="0" text-anchor="middle" font-family='"Liberation Sans", sans-serif' font-size="19.5" font-weight="bold" fill="#00ff00" stroke="#00ff00" stroke-width="0.7">1.3584</text></g>
<text x="1474" y="73" font-family='"Liberation Mono", monospace' font-size="14.5" font-weight="bold" fill="#ffffff" text-anchor="middle" >SPD:1.1</text>
<text x="1475.5" y="109" font-family='"Liberation Mono", monospace' font-size="14.5" font-weight="bold" fill="#ffd700" text-anchor="middle" >Open</text>
<g transform="translate(1473.5,127.7) scale(1.22,1)"><text x="0" y="0" text-anchor="middle" font-family='"Liberation Sans", sans-serif' font-size="18.5" font-weight="bold" fill="#00ff00" stroke="#00ff00" stroke-width="0.7">1.3539</text></g>
<text x="1434" y="147" font-family='"Liberation Sans", sans-serif' font-size="15" font-weight="normal" fill="#ffffff" text-anchor="start" >PFO</text>
<text x="1513" y="147" font-family='"Liberation Sans", sans-serif' font-size="15" font-weight="normal" fill="#00e000" text-anchor="end" >45</text>
<text x="1438" y="163" font-family='"Liberation Sans", sans-serif' font-size="14.5" font-weight="normal" fill="#b0b0b0" text-anchor="start" >HiLo</text>
<text x="1513" y="163" font-family='"Liberation Sans", sans-serif' font-size="15" font-weight="normal" fill="#c8c8c8" text-anchor="end" >47</text>
<text x="1435" y="178.5" font-family='"Liberation Sans", sans-serif' font-size="15" font-weight="normal" fill="#ffffff" text-anchor="start" >ADR</text>
<text x="1513" y="178.5" font-family='"Liberation Sans", sans-serif' font-size="15" font-weight="normal" fill="#ff8c00" text-anchor="end" >74</text>
<text x="1476.5" y="199" font-family='"Liberation Mono", monospace' font-size="14.8" font-weight="bold" fill="#ffd700" text-anchor="middle" >BidRatio</text>
<rect x="1432" y="203" width="83" height="26" fill="#006400"/>
<text x="1400.5" y="227.3" font-family='"Liberation Sans", sans-serif' font-size="19.5" font-weight="normal" fill="#ffee00" text-anchor="start" clip-path="url(#cpv)">VWAP Daily 1.3</text>
<text x="1477.1" y="225.7" font-family='"Liberation Mono", monospace' font-size="27.5" font-weight="bold" fill="#00ff00" text-anchor="middle" textLength="61.8" lengthAdjust="spacingAndGlyphs">100%</text>
<defs><clipPath id="cpv"><rect x="1390" y="200" width="143.5" height="40"/></clipPath></defs>
<text x="1475" y="247.5" font-family='"Liberation Mono", monospace' font-size="14.8" font-weight="bold" fill="#ffd700" text-anchor="middle" >ADR:D1</text>
<rect x="1432" y="252" width="83" height="26" fill="#24406a"/>
<text x="1509.5" y="274.8" font-family='"Liberation Sans", sans-serif' font-size="27" font-weight="bold" fill="#00ff00" text-anchor="end" textLength="47.2" lengthAdjust="spacingAndGlyphs">61%</text>
<text x="1436" y="298.3" font-family='"Liberation Sans", sans-serif' font-size="19.2" font-weight="normal" fill="#808080" text-anchor="start" >OpenPips</text>
<text x="1518.5" y="325.1" font-family='"Liberation Sans", sans-serif' font-size="27.6" font-weight="normal" fill="#808080" text-anchor="end" textLength="51.4" lengthAdjust="spacingAndGlyphs">0.00</text>
<text x="1400.3" y="382.6" font-family='"Liberation Sans", sans-serif' font-size="19.5" font-weight="normal" fill="#ff0000" text-anchor="start" >VWAP Weekly</text>
<text x="1476" y="577.5" font-family='"Liberation Sans", sans-serif' font-size="19" font-weight="normal" fill="#b4b4b4" text-anchor="middle" >XU-16</text>
<text x="1479.5" y="596" font-family='"Liberation Sans", sans-serif' font-size="15.8" font-weight="normal" fill="#b4b4b4" text-anchor="middle" >Xard Universe</text>
<text x="1396.2" y="602.7" font-family='"Liberation Sans", sans-serif' font-size="10.4" font-weight="normal" fill="#ffaa00" text-anchor="start" textLength="91">ADR Low: 1.35066</text>
<rect x="22.5" y="1" width="154.5" height="15.5" fill="#992222"/>
<rect x="179.5" y="1" width="131" height="15.5" fill="#992222"/>
<rect x="313.3" y="1" width="148.5" height="15.5" fill="#0b66cc"/>
<text x="30.3" y="14.2" font-family='"Liberation Sans", sans-serif' font-size="13.5" font-weight="bold" fill="#ffffff" text-anchor="start" lengthAdjust="spacingAndGlyphs" stroke="#ffffff" stroke-width="0.5" textLength="90.5">HONG KONG</text>
<text x="129" y="14.2" font-family='"Liberation Sans", sans-serif' font-size="13.5" font-weight="bold" fill="#ffffff" text-anchor="start" lengthAdjust="spacingAndGlyphs" stroke="#ffffff" stroke-width="0.5" textLength="38.3">01:32</text>
<text x="189.6" y="14.2" font-family='"Liberation Sans", sans-serif' font-size="13.5" font-weight="bold" fill="#ffffff" text-anchor="start" lengthAdjust="spacingAndGlyphs" stroke="#ffffff" stroke-width="0.5" textLength="60.5">LONDON</text>
<text x="262.6" y="14.2" font-family='"Liberation Sans", sans-serif' font-size="13.5" font-weight="bold" fill="#ffffff" text-anchor="start" lengthAdjust="spacingAndGlyphs" stroke="#ffffff" stroke-width="0.5" textLength="38.3">17:32</text>
<text x="325.2" y="14.2" font-family='"Liberation Sans", sans-serif' font-size="13.5" font-weight="bold" fill="#ffffff" text-anchor="start" lengthAdjust="spacingAndGlyphs" stroke="#ffffff" stroke-width="0.5" textLength="77">NEW YORK</text>
<text x="412.4" y="14.2" font-family='"Liberation Sans", sans-serif' font-size="13.5" font-weight="bold" fill="#ffffff" text-anchor="start" lengthAdjust="spacingAndGlyphs" stroke="#ffffff" stroke-width="0.5" textLength="38.3">12:32</text>
<text x="2" y="10.8" font-family='"Liberation Sans", sans-serif' font-size="10" font-weight="normal" fill="#c8c8c8" text-anchor="start" >M15</text>
<text x="144" y="62" font-family='"Liberation Sans", sans-serif' font-size="14.5" font-weight="normal" fill="#7f8894" text-anchor="start" >La</text>
<text x="172.3" y="62" font-family='"Liberation Sans", sans-serif' font-size="14.5" font-weight="normal" fill="#7f8894" text-anchor="start" >l</text>
<g transform="translate(153.6,72.8)"><text x="0" y="0" font-family='"Liberation Sans", sans-serif' font-size="65.4" font-weight="bold" fill="#00bfff" stroke="#00bfff" stroke-width="3" stroke-linejoin="miter" textLength="310" lengthAdjust="spacingAndGlyphs">GBPUSD</text></g>
<text x="-3" y="23" font-family='"Liberation Sans", sans-serif' font-size="10.3" font-weight="normal" fill="#b4b4b4" text-anchor="start" textLength="81" lengthAdjust="spacingAndGlyphs">0051027 01 Mod 01</text>
<text x="-2" y="34.6" font-family='"Liberation Sans", sans-serif' font-size="10.3" font-weight="normal" fill="#b4b4b4" text-anchor="start" textLength="332" lengthAdjust="spacingAndGlyphs" opacity="0.85">= 83, Reached= No, Today's Range= 59, T's High= 1.35895, T's Low= 1.35302</text>
<text x="-2" y="46.8" font-family='"Liberation Sans", sans-serif' font-size="10.3" font-weight="normal" fill="#b4b4b4" text-anchor="start" textLength="303" lengthAdjust="spacingAndGlyphs" opacity="0.85">= 1.36131, Target Low= 1.35066 / To ADR High= 67, To ADR Low= 40</text>
<rect x="0" y="579" width="309.6" height="19" fill="#dc143c"/>
<text x="10.3" y="594.8" font-family='"Liberation Sans", sans-serif' font-size="17.3" font-weight="bold" fill="#ffffff" text-anchor="start" textLength="295" lengthAdjust="spacingAndGlyphs" stroke="#ffffff" stroke-width="0.9">DOWN TREND - SELLS ONLY</text>
<rect x="0" y="602" width="1534" height="4" fill="#16202c"/>
<rect x="0" y="606" width="1360" height="141" fill="#4d0b20"/>
<rect x="0" y="606" width="96" height="141" fill="#15295b"/>
<rect x="296" y="606" width="144" height="141" fill="#15295b"/>
<rect x="512" y="606" width="88" height="141" fill="#15295b"/>
<rect x="640" y="606" width="16" height="141" fill="#15295b"/>
<rect x="696" y="606" width="16" height="141" fill="#15295b"/>
<rect x="800" y="606" width="24" height="141" fill="#15295b"/>
<rect x="832" y="606" width="152" height="141" fill="#15295b"/>
<rect x="1072" y="606" width="144" height="141" fill="#15295b"/>
<rect x="1240" y="606" width="16" height="141" fill="#4b0062"/>
<line x1="0" y1="670.5" x2="1534" y2="670.5" stroke="#8c8c8c" stroke-width="1" stroke-dasharray="17,7"/>
<line x1="0" y1="685.5" x2="1534" y2="685.5" stroke="#8c8c8c" stroke-width="1" stroke-dasharray="17,7"/>
<defs><clipPath id="cn"><rect x="0" y="606" width="88" height="141"/><rect x="296" y="606" width="136" height="141"/><rect x="512" y="606" width="80" height="141"/><rect x="640" y="606" width="8" height="141"/><rect x="696" y="606" width="8" height="141"/><rect x="800" y="606" width="16" height="141"/><rect x="832" y="606" width="144" height="141"/><rect x="1072" y="606" width="136" height="141"/></clipPath>
<clipPath id="cm"><rect x="88" y="606" width="208" height="141"/><rect x="432" y="606" width="80" height="141"/><rect x="592" y="606" width="48" height="141"/><rect x="648" y="606" width="48" height="141"/><rect x="704" y="606" width="96" height="141"/><rect x="816" y="606" width="16" height="141"/><rect x="976" y="606" width="96" height="141"/><rect x="1208" y="606" width="154" height="141"/></clipPath></defs>
<polyline points="0.0,655.5 25.0,653.8 50.0,651.2 75.0,646.2 92.5,644.5 107.5,648.8 125.0,652.5 150.0,653.8 170.0,655.5 187.5,662.5 212.5,673.8 232.5,681.2 250.0,683.8 275.0,688.8 287.5,689.5 310.0,686.2 325.0,681.2 350.0,673.8 375.0,663.8 394.0,660.0 409.0,655.5 426.5,652.5 439.0,653.8 456.5,660.0 479.0,665.5 501.5,666.2 524.0,665.0 549.0,662.0 569.0,660.0 589.0,658.0 606.5,658.8 619.0,660.8 644.0,660.0 664.0,661.2 689.0,661.2 706.5,660.8 721.5,662.5 744.0,668.8 764.0,673.2 788.0,673.8 813.0,672.5 838.0,671.2 863.0,668.0 888.0,661.2 913.0,653.8 938.0,648.0 963.0,645.0 983.0,644.2 1000.5,645.8 1013.0,648.8 1028.0,653.8 1050.5,661.2 1068.0,666.2 1088.0,663.8 1113.0,659.5 1138.0,653.8 1163.0,648.0 1182.0,641.2 1214.5,640.0 1239.5,640.5 1257.0,643.0 1269.5,647.5 1287.0,655.5 1307.0,664.5 1324.5,672.5 1342.0,679.5 1360.0,686.2" fill="none" stroke="#ffd700" stroke-width="2" stroke-linejoin="round"/>
<polyline points="0.0,645.5 12.0,643.0 20.0,635.5 24.5,633.8 30.5,635.5 55.5,628.5 64.0,633.8 79.2,625.0 88.0,623.5 92.5,639.5 100.0,662.5 107.5,677.5 116.2,681.2 127.5,675.0 140.0,663.8 152.5,659.2 162.5,661.2 170.0,668.8 177.5,692.5 185.0,712.5 195.0,725.0 207.5,735.0 222.5,739.5 232.5,732.5 240.0,717.5 247.5,702.5 252.5,705.0 265.0,718.8 275.0,708.8 285.0,700.0 295.0,682.5 302.5,670.0 312.5,655.0 325.0,640.0 345.0,627.5 362.5,622.5 380.0,618.0 394.0,617.5 400.2,615.0 409.0,623.8 419.0,635.0 431.5,647.5 434.0,653.8 440.2,672.5 446.5,690.0 454.0,700.0 464.5,708.0 475.2,698.8 486.5,681.2 496.5,670.0 505.2,667.5 511.5,660.0 519.0,658.8 527.8,660.5 536.5,652.5 549.0,646.2 559.0,641.2 567.8,638.8 576.5,644.5 585.2,645.8 592.8,651.2 601.5,662.5 614.0,673.8 624.0,675.8 634.0,662.5 641.5,653.8 647.8,652.0 654.0,663.8 665.2,676.2 679.0,666.2 689.0,662.5 696.5,659.5 704.0,658.0 714.0,662.5 721.5,675.0 729.0,695.0 737.8,707.0 746.5,706.2 759.0,702.5 770.2,698.8 788.0,687.5 798.0,672.5 808.0,660.0 813.0,663.8 825.5,665.5 838.0,658.8 850.5,646.2 863.0,632.5 873.0,629.5 888.0,621.2 900.5,616.2 913.0,613.8 925.5,612.5 936.8,612.5 943.0,620.0 951.8,631.2 963.0,631.2 968.0,630.0 975.5,636.2 980.5,641.2 985.5,650.0 990.5,653.8 995.5,657.5 1005.5,670.0 1013.0,682.5 1028.0,695.0 1035.5,707.5 1040.5,720.0 1049.2,716.2 1056.8,718.0 1061.8,700.0 1069.2,675.0 1078.0,655.0 1093.0,645.0 1110.5,635.0 1120.5,627.5 1133.0,620.0 1144.2,615.5 1151.8,619.5 1168.0,618.0 1182.0,617.0 1192.0,615.0 1200.8,625.0 1207.0,625.0 1212.0,632.5 1219.5,647.5 1227.0,652.5 1237.0,646.2 1245.8,646.2 1252.0,656.2 1259.5,675.0 1268.2,695.0 1280.8,712.5 1292.0,718.8 1304.5,728.8 1317.0,731.8 1327.0,733.8 1342.0,738.8 1352.0,740.8 1360.0,741.2" fill="none" stroke="#00e5ff" stroke-width="2.7" stroke-linejoin="round" clip-path="url(#cn)"/>
<polyline points="0.0,645.5 12.0,643.0 20.0,635.5 24.5,633.8 30.5,635.5 55.5,628.5 64.0,633.8 79.2,625.0 88.0,623.5 92.5,639.5 100.0,662.5 107.5,677.5 116.2,681.2 127.5,675.0 140.0,663.8 152.5,659.2 162.5,661.2 170.0,668.8 177.5,692.5 185.0,712.5 195.0,725.0 207.5,735.0 222.5,739.5 232.5,732.5 240.0,717.5 247.5,702.5 252.5,705.0 265.0,718.8 275.0,708.8 285.0,700.0 295.0,682.5 302.5,670.0 312.5,655.0 325.0,640.0 345.0,627.5 362.5,622.5 380.0,618.0 394.0,617.5 400.2,615.0 409.0,623.8 419.0,635.0 431.5,647.5 434.0,653.8 440.2,672.5 446.5,690.0 454.0,700.0 464.5,708.0 475.2,698.8 486.5,681.2 496.5,670.0 505.2,667.5 511.5,660.0 519.0,658.8 527.8,660.5 536.5,652.5 549.0,646.2 559.0,641.2 567.8,638.8 576.5,644.5 585.2,645.8 592.8,651.2 601.5,662.5 614.0,673.8 624.0,675.8 634.0,662.5 641.5,653.8 647.8,652.0 654.0,663.8 665.2,676.2 679.0,666.2 689.0,662.5 696.5,659.5 704.0,658.0 714.0,662.5 721.5,675.0 729.0,695.0 737.8,707.0 746.5,706.2 759.0,702.5 770.2,698.8 788.0,687.5 798.0,672.5 808.0,660.0 813.0,663.8 825.5,665.5 838.0,658.8 850.5,646.2 863.0,632.5 873.0,629.5 888.0,621.2 900.5,616.2 913.0,613.8 925.5,612.5 936.8,612.5 943.0,620.0 951.8,631.2 963.0,631.2 968.0,630.0 975.5,636.2 980.5,641.2 985.5,650.0 990.5,653.8 995.5,657.5 1005.5,670.0 1013.0,682.5 1028.0,695.0 1035.5,707.5 1040.5,720.0 1049.2,716.2 1056.8,718.0 1061.8,700.0 1069.2,675.0 1078.0,655.0 1093.0,645.0 1110.5,635.0 1120.5,627.5 1133.0,620.0 1144.2,615.5 1151.8,619.5 1168.0,618.0 1182.0,617.0 1192.0,615.0 1200.8,625.0 1207.0,625.0 1212.0,632.5 1219.5,647.5 1227.0,652.5 1237.0,646.2 1245.8,646.2 1252.0,656.2 1259.5,675.0 1268.2,695.0 1280.8,712.5 1292.0,718.8 1304.5,728.8 1317.0,731.8 1327.0,733.8 1342.0,738.8 1352.0,740.8 1360.0,741.2" fill="none" stroke="#dc143c" stroke-width="2.7" stroke-linejoin="round" clip-path="url(#cm)"/>
<rect x="-2" y="626.2" width="5" height="71.2" fill="#228b22"/>
<rect x="6" y="628.8" width="5" height="68.8" fill="#228b22"/>
<rect x="14" y="631.2" width="5" height="66.2" fill="#228b22"/>
<rect x="22" y="633.8" width="5" height="63.8" fill="#228b22"/>
<rect x="30" y="637.0" width="5" height="60.5" fill="#228b22"/>
<rect x="38" y="638.8" width="5" height="58.8" fill="#228b22"/>
<rect x="46" y="642.0" width="5" height="55.5" fill="#228b22"/>
<rect x="54" y="645.0" width="5" height="52.5" fill="#228b22"/>
<rect x="62" y="647.0" width="5" height="50.5" fill="#228b22"/>
<rect x="70" y="649.5" width="5" height="48.0" fill="#228b22"/>
<rect x="78" y="653.0" width="5" height="44.5" fill="#228b22"/>
<rect x="86" y="655.0" width="5" height="42.5" fill="#228b22"/>
<rect x="94" y="660.0" width="5" height="37.5" fill="#228b22"/>
<rect x="102" y="665.0" width="5" height="32.5" fill="#228b22"/>
<rect x="110" y="670.0" width="5" height="27.5" fill="#228b22"/>
<rect x="118" y="674.2" width="5" height="23.2" fill="#228b22"/>
<rect x="126" y="678.8" width="5" height="18.8" fill="#228b22"/>
<rect x="134" y="683.8" width="5" height="13.8" fill="#228b22"/>
<rect x="142" y="688.8" width="5" height="8.8" fill="#228b22"/>
<rect x="150" y="693.0" width="5" height="4.5" fill="#228b22"/>
<rect x="157.2" y="697.5" width="6.7" height="0.5" fill="#8b0000"/>
<rect x="165.2" y="697.5" width="6.7" height="5.5" fill="#8b0000"/>
<rect x="173.2" y="697.5" width="6.7" height="10.5" fill="#8b0000"/>
<rect x="181.2" y="697.5" width="6.7" height="15.0" fill="#8b0000"/>
<rect x="189.2" y="697.5" width="6.7" height="20.0" fill="#8b0000"/>
<rect x="197.2" y="697.5" width="6.7" height="25.0" fill="#8b0000"/>
<rect x="205.2" y="697.5" width="6.7" height="29.5" fill="#8b0000"/>
<rect x="213.2" y="697.5" width="6.7" height="33.8" fill="#8b0000"/>
<rect x="222" y="697.5" width="5" height="28.2" fill="#dc143c"/>
<rect x="230" y="697.5" width="5" height="22.5" fill="#dc143c"/>
<rect x="238" y="697.5" width="5" height="16.2" fill="#dc143c"/>
<rect x="246" y="697.5" width="5" height="10.0" fill="#dc143c"/>
<rect x="254" y="697.5" width="5" height="5.0" fill="#dc143c"/>
<rect x="261.2" y="696.5" width="6.7" height="1.0" fill="#006400"/>
<rect x="269.2" y="690.0" width="6.7" height="7.5" fill="#006400"/>
<rect x="277.2" y="683.8" width="6.7" height="13.8" fill="#006400"/>
<rect x="285.2" y="678.0" width="6.7" height="19.5" fill="#006400"/>
<rect x="293.2" y="672.0" width="6.7" height="25.5" fill="#006400"/>
<rect x="301.2" y="667.0" width="6.7" height="30.5" fill="#006400"/>
<rect x="309.2" y="660.5" width="6.7" height="37.0" fill="#006400"/>
<rect x="317.2" y="655.0" width="6.7" height="42.5" fill="#006400"/>
<rect x="325.2" y="648.8" width="6.7" height="48.8" fill="#006400"/>
<rect x="333.2" y="643.0" width="6.7" height="54.5" fill="#006400"/>
<rect x="341.2" y="637.0" width="6.7" height="60.5" fill="#006400"/>
<rect x="350" y="640.0" width="5" height="57.5" fill="#228b22"/>
<rect x="358" y="643.0" width="5" height="54.5" fill="#228b22"/>
<rect x="366" y="645.8" width="5" height="51.8" fill="#228b22"/>
<rect x="374" y="649.0" width="5" height="48.5" fill="#228b22"/>
<rect x="382" y="652.0" width="5" height="45.5" fill="#228b22"/>
<rect x="390" y="655.0" width="5" height="42.5" fill="#228b22"/>
<rect x="398" y="658.0" width="5" height="39.5" fill="#228b22"/>
<rect x="406" y="661.2" width="5" height="36.2" fill="#228b22"/>
<rect x="414" y="664.2" width="5" height="33.2" fill="#228b22"/>
<rect x="422" y="667.0" width="5" height="30.5" fill="#228b22"/>
<rect x="430" y="670.2" width="5" height="27.2" fill="#228b22"/>
<rect x="438" y="673.0" width="5" height="24.5" fill="#228b22"/>
<rect x="446" y="676.2" width="5" height="21.2" fill="#228b22"/>
<rect x="454" y="679.2" width="5" height="18.2" fill="#228b22"/>
<rect x="462" y="682.0" width="5" height="15.5" fill="#228b22"/>
<rect x="470" y="685.5" width="5" height="12.0" fill="#228b22"/>
<rect x="477.2" y="684.2" width="6.7" height="13.2" fill="#006400"/>
<rect x="485.2" y="683.2" width="6.7" height="14.2" fill="#006400"/>
<rect x="493.2" y="683.0" width="6.7" height="14.5" fill="#006400"/>
<rect x="501.2" y="682.0" width="6.7" height="15.5" fill="#006400"/>
<rect x="509.2" y="681.2" width="6.7" height="16.2" fill="#006400"/>
<rect x="517.2" y="680.5" width="6.7" height="17.0" fill="#006400"/>
<rect x="525.2" y="679.5" width="6.7" height="18.0" fill="#006400"/>
<rect x="533.2" y="678.8" width="6.7" height="18.8" fill="#006400"/>
<rect x="541.2" y="677.5" width="6.7" height="20.0" fill="#006400"/>
<rect x="549.2" y="677.0" width="6.7" height="20.5" fill="#006400"/>
<rect x="558" y="677.0" width="5" height="20.5" fill="#228b22"/>
<rect x="565.2" y="675.8" width="6.7" height="21.8" fill="#006400"/>
<rect x="573.2" y="675.0" width="6.7" height="22.5" fill="#006400"/>
<rect x="581.2" y="674.0" width="6.7" height="23.5" fill="#006400"/>
<rect x="589.2" y="673.0" width="6.7" height="24.5" fill="#006400"/>
<rect x="597.2" y="672.0" width="6.7" height="25.5" fill="#006400"/>
<rect x="605.2" y="671.2" width="6.7" height="26.2" fill="#006400"/>
<rect x="614" y="673.0" width="5" height="24.5" fill="#228b22"/>
<rect x="622" y="674.5" width="5" height="23.0" fill="#228b22"/>
<rect x="630" y="675.8" width="5" height="21.8" fill="#228b22"/>
<rect x="638" y="677.0" width="5" height="20.5" fill="#228b22"/>
<rect x="646" y="679.0" width="5" height="18.5" fill="#228b22"/>
<rect x="654" y="680.0" width="5" height="17.5" fill="#228b22"/>
<rect x="662" y="682.0" width="5" height="15.5" fill="#228b22"/>
<rect x="670" y="684.0" width="5" height="13.5" fill="#228b22"/>
<rect x="678" y="685.5" width="5" height="12.0" fill="#228b22"/>
<rect x="686" y="687.0" width="5" height="10.5" fill="#228b22"/>
<rect x="694" y="688.0" width="5" height="9.5" fill="#228b22"/>
<rect x="702" y="690.0" width="5" height="7.5" fill="#228b22"/>
<rect x="710" y="691.5" width="5" height="6.0" fill="#228b22"/>
<rect x="718" y="693.0" width="5" height="4.5" fill="#228b22"/>
<rect x="726" y="694.2" width="5" height="3.2" fill="#228b22"/>
<rect x="734" y="696.0" width="5" height="1.5" fill="#228b22"/>
<rect x="741.2" y="692.5" width="6.7" height="5.0" fill="#006400"/>
<rect x="749.2" y="689.5" width="6.7" height="8.0" fill="#006400"/>
<rect x="757.2" y="686.2" width="6.7" height="11.2" fill="#006400"/>
<rect x="765.2" y="683.2" width="6.7" height="14.2" fill="#006400"/>
<rect x="773.2" y="680.0" width="6.7" height="17.5" fill="#006400"/>
<rect x="781.2" y="677.0" width="6.7" height="20.5" fill="#006400"/>
<rect x="789.2" y="670.5" width="6.7" height="27.0" fill="#006400"/>
<rect x="797.2" y="667.0" width="6.7" height="30.5" fill="#006400"/>
<rect x="805.2" y="663.8" width="6.7" height="33.8" fill="#006400"/>
<rect x="813.2" y="661.2" width="6.7" height="36.2" fill="#006400"/>
<rect x="821.2" y="658.0" width="6.7" height="39.5" fill="#006400"/>
<rect x="829.2" y="655.0" width="6.7" height="42.5" fill="#006400"/>
<rect x="837.2" y="651.2" width="6.7" height="46.2" fill="#006400"/>
<rect x="845.2" y="648.0" width="6.7" height="49.5" fill="#006400"/>
<rect x="853.2" y="645.5" width="6.7" height="52.0" fill="#006400"/>
<rect x="862" y="646.2" width="5" height="51.2" fill="#228b22"/>
<rect x="870" y="646.5" width="5" height="51.0" fill="#228b22"/>
<rect x="878" y="647.0" width="5" height="50.5" fill="#228b22"/>
<rect x="886" y="647.5" width="5" height="50.0" fill="#228b22"/>
<rect x="894" y="648.0" width="5" height="49.5" fill="#228b22"/>
<rect x="902" y="648.8" width="5" height="48.8" fill="#228b22"/>
<rect x="910" y="649.2" width="5" height="48.2" fill="#228b22"/>
<rect x="918" y="650.0" width="5" height="47.5" fill="#228b22"/>
<rect x="926" y="650.8" width="5" height="46.8" fill="#228b22"/>
<rect x="934" y="651.2" width="5" height="46.2" fill="#228b22"/>
<rect x="942" y="652.0" width="5" height="45.5" fill="#228b22"/>
<rect x="950" y="653.0" width="5" height="44.5" fill="#228b22"/>
<rect x="958" y="653.2" width="5" height="44.2" fill="#228b22"/>
<rect x="966" y="653.8" width="5" height="43.8" fill="#228b22"/>
<rect x="974" y="654.5" width="5" height="43.0" fill="#228b22"/>
<rect x="982" y="655.0" width="5" height="42.5" fill="#228b22"/>
<rect x="989.2" y="653.8" width="6.7" height="43.8" fill="#006400"/>
<rect x="997.2" y="653.0" width="6.7" height="44.5" fill="#006400"/>
<rect x="1005.2" y="651.2" width="6.7" height="46.2" fill="#006400"/>
<rect x="1013.2" y="650.0" width="6.7" height="47.5" fill="#006400"/>
<rect x="1021.2" y="649.2" width="6.7" height="48.2" fill="#006400"/>
<rect x="1029.2" y="648.0" width="6.7" height="49.5" fill="#006400"/>
<rect x="1037.2" y="646.2" width="6.7" height="51.2" fill="#006400"/>
<rect x="1045.2" y="645.5" width="6.7" height="52.0" fill="#006400"/>
<rect x="1053.2" y="644.5" width="6.7" height="53.0" fill="#006400"/>
<rect x="1061.2" y="643.5" width="6.7" height="54.0" fill="#006400"/>
<rect x="1069.2" y="641.2" width="6.7" height="56.2" fill="#006400"/>
<rect x="1077.2" y="640.0" width="6.7" height="57.5" fill="#006400"/>
<rect x="1085.2" y="639.2" width="6.7" height="58.2" fill="#006400"/>
<rect x="1093.2" y="638.5" width="6.7" height="59.0" fill="#006400"/>
<rect x="1101.2" y="637.5" width="6.7" height="60.0" fill="#006400"/>
<rect x="1109.2" y="636.2" width="6.7" height="61.2" fill="#006400"/>
<rect x="1117.2" y="635.5" width="6.7" height="62.0" fill="#006400"/>
<rect x="1126" y="635.5" width="5" height="62.0" fill="#228b22"/>
<rect x="1134" y="636.2" width="5" height="61.2" fill="#228b22"/>
<rect x="1142" y="636.5" width="5" height="61.0" fill="#228b22"/>
<rect x="1150" y="636.8" width="5" height="60.8" fill="#228b22"/>
<rect x="1158" y="637.0" width="5" height="60.5" fill="#228b22"/>
<rect x="1166" y="637.2" width="5" height="60.2" fill="#228b22"/>
<rect x="1174" y="637.5" width="5" height="60.0" fill="#228b22"/>
<rect x="1182" y="638.0" width="5" height="59.5" fill="#228b22"/>
<rect x="1190" y="638.0" width="5" height="59.5" fill="#228b22"/>
<rect x="1198" y="638.2" width="5" height="59.2" fill="#228b22"/>
<rect x="1206" y="638.8" width="5" height="58.8" fill="#228b22"/>
<rect x="1214" y="639.0" width="5" height="58.5" fill="#228b22"/>
<rect x="1222" y="639.2" width="5" height="58.2" fill="#228b22"/>
<rect x="1230" y="640.0" width="5" height="57.5" fill="#228b22"/>
<rect x="1238" y="640.5" width="5" height="57.0" fill="#228b22"/>
<rect x="1246" y="647.0" width="5" height="50.5" fill="#228b22"/>
<rect x="1254" y="653.0" width="5" height="44.5" fill="#228b22"/>
<rect x="1262" y="660.0" width="5" height="37.5" fill="#228b22"/>
<rect x="1270" y="667.0" width="5" height="30.5" fill="#228b22"/>
<rect x="1278" y="673.0" width="5" height="24.5" fill="#228b22"/>
<rect x="1286" y="680.0" width="5" height="17.5" fill="#228b22"/>
<rect x="1294" y="687.0" width="5" height="10.5" fill="#228b22"/>
<rect x="1302" y="693.0" width="5" height="4.5" fill="#228b22"/>
<rect x="1309.2" y="697.5" width="6.7" height="2.5" fill="#8b0000"/>
<rect x="1317.2" y="697.5" width="6.7" height="10.0" fill="#8b0000"/>
<rect x="1325.2" y="697.5" width="6.7" height="16.2" fill="#8b0000"/>
<rect x="1333.2" y="697.5" width="6.7" height="23.0" fill="#8b0000"/>
<rect x="1341.2" y="697.5" width="6.7" height="30.0" fill="#8b0000"/>
<rect x="1349.2" y="697.5" width="6.7" height="36.2" fill="#8b0000"/>
<rect x="1357.2" y="697.5" width="6.7" height="43.0" fill="#8b0000"/>
<rect x="0" y="792.2" width="1" height="33.0" fill="#32cd32"/>
<rect x="8" y="792.2" width="1" height="33.0" fill="#32cd32"/>
<rect x="16" y="792.2" width="1" height="33.0" fill="#32cd32"/>
<rect x="22" y="792.2" width="5" height="33.0" fill="#32cd32"/>
<rect x="32" y="792.2" width="1" height="33.0" fill="#32cd32"/>
<rect x="40" y="792.2" width="1" height="33.0" fill="#32cd32"/>
<rect x="46" y="792.2" width="5" height="33.0" fill="#32cd32"/>
<rect x="56" y="792.2" width="1" height="33.0" fill="#32cd32"/>
<rect x="64" y="792.2" width="1" height="33.0" fill="#32cd32"/>
<rect x="70" y="792.2" width="5" height="33.0" fill="#32cd32"/>
<rect x="78" y="792.2" width="5" height="33.0" fill="#32cd32"/>
<rect x="88" y="792.2" width="1" height="33.0" fill="#32cd32"/>
<rect x="96" y="792.7" width="1" height="32.6" fill="#32cd32"/>
<rect x="104" y="796.1" width="1" height="29.2" fill="#32cd32"/>
<rect x="112" y="796.6" width="1" height="28.7" fill="#32cd32"/>
<rect x="120" y="796.7" width="1" height="28.6" fill="#32cd32"/>
<rect x="128" y="796.8" width="1" height="28.5" fill="#32cd32"/>
<rect x="136" y="796.9" width="1" height="28.4" fill="#32cd32"/>
<rect x="144" y="797.0" width="1" height="28.3" fill="#32cd32"/>
<rect x="152" y="797.1" width="1" height="28.2" fill="#32cd32"/>
<rect x="160" y="797.2" width="1" height="28.1" fill="#32cd32"/>
<rect x="168" y="798.4" width="1" height="26.9" fill="#32cd32"/>
<rect x="176" y="802.0" width="1" height="23.2" fill="#32cd32"/>
<rect x="184" y="810.0" width="1" height="15.2" fill="#32cd32"/>
<rect x="198" y="825.2" width="5" height="17.0" fill="#ffa500"/>
<rect x="206" y="825.2" width="5" height="25.0" fill="#ffa500"/>
<rect x="214" y="825.2" width="5" height="25.4" fill="#ffa500"/>
<rect x="222" y="825.2" width="5" height="25.7" fill="#ffa500"/>
<rect x="232" y="825.2" width="1" height="24.2" fill="#ff4500"/>
<rect x="240" y="825.2" width="1" height="22.4" fill="#ff4500"/>
<rect x="248" y="825.2" width="1" height="21.5" fill="#ff4500"/>
<rect x="254" y="825.2" width="5" height="22.8" fill="#ffa500"/>
<rect x="262" y="825.2" width="5" height="28.7" fill="#ffa500"/>
<rect x="272" y="825.2" width="1" height="28.3" fill="#ff4500"/>
<rect x="280" y="825.2" width="1" height="26.6" fill="#ff4500"/>
<rect x="288" y="825.2" width="1" height="24.8" fill="#ff4500"/>
<rect x="296" y="825.2" width="1" height="22.5" fill="#ff4500"/>
<rect x="304" y="825.2" width="1" height="16.5" fill="#ff4500"/>
<rect x="312" y="825.2" width="1" height="1.7" fill="#ff4500"/>
<rect x="318" y="811.0" width="5" height="14.2" fill="#32cd32"/>
<rect x="326" y="796.5" width="5" height="28.8" fill="#32cd32"/>
<rect x="334" y="784.6" width="5" height="40.6" fill="#32cd32"/>
<rect x="342" y="773.6" width="5" height="51.6" fill="#32cd32"/>
<rect x="350" y="771.4" width="5" height="53.9" fill="#32cd32"/>
<rect x="358" y="770.4" width="5" height="54.9" fill="#32cd32"/>
<rect x="366" y="767.7" width="5" height="57.5" fill="#32cd32"/>
<rect x="374" y="763.0" width="5" height="62.2" fill="#32cd32"/>
<rect x="384" y="763.0" width="1" height="62.2" fill="#32cd32"/>
<rect x="392" y="764.6" width="1" height="60.7" fill="#32cd32"/>
<rect x="398" y="761.4" width="5" height="63.9" fill="#32cd32"/>
<rect x="408" y="764.6" width="1" height="60.7" fill="#32cd32"/>
<rect x="416" y="766.2" width="1" height="59.1" fill="#32cd32"/>
<rect x="424" y="767.5" width="1" height="57.8" fill="#32cd32"/>
<rect x="432" y="769.8" width="1" height="55.4" fill="#32cd32"/>
<rect x="440" y="787.0" width="1" height="38.3" fill="#32cd32"/>
<rect x="448" y="805.2" width="1" height="20.0" fill="#32cd32"/>
<rect x="456" y="817.5" width="1" height="7.8" fill="#32cd32"/>
<rect x="464" y="822.7" width="1" height="2.5" fill="#32cd32"/>
<rect x="472" y="822.8" width="1" height="2.5" fill="#32cd32"/>
<rect x="478" y="821.5" width="5" height="3.8" fill="#32cd32"/>
<rect x="486" y="819.0" width="5" height="6.2" fill="#32cd32"/>
<rect x="494" y="815.2" width="5" height="10.0" fill="#32cd32"/>
<rect x="502" y="812.9" width="5" height="12.3" fill="#32cd32"/>
<rect x="510" y="809.8" width="5" height="15.5" fill="#32cd32"/>
<rect x="518" y="808.2" width="5" height="17.0" fill="#32cd32"/>
<rect x="526" y="807.6" width="5" height="17.7" fill="#32cd32"/>
<rect x="534" y="804.6" width="5" height="20.7" fill="#32cd32"/>
<rect x="542" y="801.2" width="5" height="24.0" fill="#32cd32"/>
<rect x="550" y="799.2" width="5" height="26.0" fill="#32cd32"/>
<rect x="558" y="797.3" width="5" height="27.9" fill="#32cd32"/>
<rect x="566" y="795.9" width="5" height="29.3" fill="#32cd32"/>
<rect x="576" y="795.8" width="1" height="29.5" fill="#32cd32"/>
<rect x="584" y="795.8" width="1" height="29.5" fill="#32cd32"/>
<rect x="592" y="797.1" width="1" height="28.1" fill="#32cd32"/>
<rect x="600" y="798.0" width="1" height="27.2" fill="#32cd32"/>
<rect x="608" y="798.7" width="1" height="26.6" fill="#32cd32"/>
<rect x="616" y="798.8" width="1" height="26.5" fill="#32cd32"/>
<rect x="624" y="798.8" width="1" height="26.5" fill="#32cd32"/>
<rect x="630" y="796.8" width="5" height="28.5" fill="#32cd32"/>
<rect x="638" y="796.1" width="5" height="29.1" fill="#32cd32"/>
<rect x="646" y="795.9" width="5" height="29.3" fill="#32cd32"/>
<rect x="656" y="795.8" width="1" height="29.5" fill="#32cd32"/>
<rect x="664" y="798.8" width="1" height="26.5" fill="#32cd32"/>
<rect x="672" y="798.8" width="1" height="26.5" fill="#32cd32"/>
<rect x="678" y="798.8" width="5" height="26.5" fill="#32cd32"/>
<rect x="688" y="798.8" width="1" height="26.5" fill="#32cd32"/>
<rect x="694" y="798.9" width="5" height="26.4" fill="#32cd32"/>
<rect x="704" y="799.0" width="1" height="26.2" fill="#32cd32"/>
<rect x="712" y="799.1" width="1" height="26.1" fill="#32cd32"/>
<rect x="720" y="800.0" width="1" height="25.3" fill="#32cd32"/>
<rect x="728" y="805.5" width="1" height="19.7" fill="#32cd32"/>
<rect x="736" y="811.6" width="1" height="13.6" fill="#32cd32"/>
<rect x="744" y="812.0" width="1" height="13.2" fill="#32cd32"/>
<rect x="752" y="812.0" width="1" height="13.2" fill="#32cd32"/>
<rect x="760" y="812.0" width="1" height="13.2" fill="#32cd32"/>
<rect x="768" y="812.0" width="1" height="13.2" fill="#32cd32"/>
<rect x="776" y="812.0" width="1" height="13.2" fill="#32cd32"/>
<rect x="784" y="812.0" width="1" height="13.2" fill="#32cd32"/>
<rect x="792" y="812.5" width="1" height="12.8" fill="#32cd32"/>
<rect x="800" y="812.5" width="1" height="12.8" fill="#32cd32"/>
<rect x="806" y="811.0" width="5" height="14.2" fill="#32cd32"/>
<rect x="816" y="810.5" width="1" height="14.8" fill="#32cd32"/>
<rect x="824" y="812.0" width="1" height="13.2" fill="#32cd32"/>
<rect x="832" y="812.0" width="1" height="13.2" fill="#32cd32"/>
<rect x="838" y="811.4" width="5" height="13.9" fill="#32cd32"/>
<rect x="846" y="808.8" width="5" height="16.5" fill="#32cd32"/>
<rect x="854" y="804.1" width="5" height="21.2" fill="#32cd32"/>
<rect x="862" y="799.8" width="5" height="25.5" fill="#32cd32"/>
<rect x="870" y="797.8" width="5" height="27.5" fill="#32cd32"/>
<rect x="878" y="793.4" width="5" height="31.8" fill="#32cd32"/>
<rect x="886" y="788.8" width="5" height="36.5" fill="#32cd32"/>
<rect x="894" y="784.8" width="5" height="40.5" fill="#32cd32"/>
<rect x="902" y="783.4" width="5" height="41.9" fill="#32cd32"/>
<rect x="912" y="783.4" width="1" height="41.9" fill="#32cd32"/>
<rect x="920" y="785.5" width="1" height="39.8" fill="#32cd32"/>
<rect x="928" y="787.1" width="1" height="38.2" fill="#32cd32"/>
<rect x="936" y="788.4" width="1" height="36.8" fill="#32cd32"/>
<rect x="944" y="790.0" width="1" height="35.3" fill="#32cd32"/>
<rect x="952" y="791.5" width="1" height="33.7" fill="#32cd32"/>
<rect x="960" y="793.1" width="1" height="32.1" fill="#32cd32"/>
<rect x="968" y="794.2" width="1" height="31.0" fill="#32cd32"/>
<rect x="976" y="795.0" width="1" height="30.2" fill="#32cd32"/>
<rect x="984" y="795.9" width="1" height="29.4" fill="#32cd32"/>
<rect x="992" y="796.8" width="1" height="28.5" fill="#32cd32"/>
<rect x="1000" y="797.8" width="1" height="27.5" fill="#32cd32"/>
<rect x="1008" y="798.8" width="1" height="26.5" fill="#32cd32"/>
<rect x="1016" y="801.4" width="1" height="23.9" fill="#32cd32"/>
<rect x="1024" y="802.4" width="1" height="22.8" fill="#32cd32"/>
<rect x="1032" y="803.6" width="1" height="21.7" fill="#32cd32"/>
<rect x="1040" y="822.6" width="1" height="2.7" fill="#32cd32"/>
<rect x="1054" y="825.2" width="5" height="0.8" fill="#ffa500"/>
<rect x="1062" y="821.2" width="5" height="4.0" fill="#32cd32"/>
<rect x="1070" y="811.3" width="5" height="13.9" fill="#32cd32"/>
<rect x="1078" y="805.1" width="5" height="20.1" fill="#32cd32"/>
<rect x="1086" y="803.0" width="5" height="22.2" fill="#32cd32"/>
<rect x="1096" y="803.0" width="1" height="22.2" fill="#32cd32"/>
<rect x="1102" y="801.0" width="5" height="24.3" fill="#32cd32"/>
<rect x="1110" y="796.7" width="5" height="28.6" fill="#32cd32"/>
<rect x="1118" y="785.7" width="5" height="39.6" fill="#32cd32"/>
<rect x="1126" y="770.0" width="5" height="55.2" fill="#32cd32"/>
<rect x="1134" y="762.0" width="5" height="63.2" fill="#32cd32"/>
<rect x="1142" y="758.4" width="5" height="66.9" fill="#32cd32"/>
<rect x="1152" y="761.9" width="1" height="63.4" fill="#32cd32"/>
<rect x="1160" y="765.0" width="1" height="60.2" fill="#32cd32"/>
<rect x="1168" y="767.9" width="1" height="57.4" fill="#32cd32"/>
<rect x="1176" y="770.4" width="1" height="54.8" fill="#32cd32"/>
<rect x="1182" y="770.2" width="5" height="55.0" fill="#32cd32"/>
<rect x="1192" y="772.2" width="1" height="53.0" fill="#32cd32"/>
<rect x="1200" y="774.9" width="1" height="50.3" fill="#32cd32"/>
<rect x="1208" y="777.3" width="1" height="47.9" fill="#32cd32"/>
<rect x="1216" y="777.7" width="1" height="47.5" fill="#32cd32"/>
<rect x="1224" y="778.2" width="1" height="47.1" fill="#32cd32"/>
<rect x="1232" y="778.6" width="1" height="46.7" fill="#32cd32"/>
<rect x="1240" y="779.2" width="1" height="46.1" fill="#32cd32"/>
<rect x="1248" y="782.3" width="1" height="43.0" fill="#32cd32"/>
<rect x="1256" y="785.7" width="1" height="39.6" fill="#32cd32"/>
<rect x="1264" y="790.7" width="1" height="34.6" fill="#32cd32"/>
<rect x="1272" y="801.7" width="1" height="23.5" fill="#32cd32"/>
<rect x="1280" y="821.5" width="1" height="3.8" fill="#32cd32"/>
<rect x="1286" y="825.2" width="5" height="2.4" fill="#ffa500"/>
<rect x="1294" y="825.2" width="5" height="11.9" fill="#ffa500"/>
<rect x="1302" y="825.2" width="5" height="26.3" fill="#ffa500"/>
<rect x="1310" y="825.2" width="5" height="32.0" fill="#ffa500"/>
<rect x="1318" y="825.2" width="5" height="35.2" fill="#ffa500"/>
<rect x="1326" y="825.2" width="5" height="35.2" fill="#ffa500"/>
<rect x="1334" y="825.2" width="5" height="48.9" fill="#ffa500"/>
<rect x="1342" y="825.2" width="5" height="58.3" fill="#ffa500"/>
<rect x="1350" y="825.2" width="5" height="58.5" fill="#ffa500"/>
<rect x="1360" y="825.2" width="1" height="58.8" fill="#ff4500"/>
<polyline points="0.0,791.0 95.0,791.0 125.0,794.8 170.0,796.0 185.0,801.0 200.0,812.2 215.0,824.8 230.0,834.8 250.0,839.8 265.0,843.5 275.0,846.5 296.2,847.2" fill="none" stroke="#ff8c00" stroke-width="2" stroke-linejoin="round"/>
<polyline points="296.2,847.2 305.0,846.0 317.5,839.8 332.5,826.0 350.0,808.5 370.0,791.0 385.0,781.0 394.0,778.0" fill="none" stroke="#32cd32" stroke-width="2" stroke-linejoin="round"/>
<polyline points="394.0,777.5 404.0,772.5 431.5,770.0" fill="none" stroke="#32cd32" stroke-width="2" stroke-linejoin="round"/>
<polyline points="431.5,770.0 440.2,772.5 454.0,785.0 469.0,797.5 481.5,805.0 494.0,808.8 504.0,809.5" fill="none" stroke="#ff8c00" stroke-width="2" stroke-linejoin="round"/>
<polyline points="504.0,809.5 514.0,808.2 534.0,807.0 554.0,802.0 569.0,798.8 589.0,798.8 609.0,798.8" fill="none" stroke="#32cd32" stroke-width="2" stroke-linejoin="round"/>
<polyline points="609.0,798.8 619.0,798.8 629.0,798.8" fill="none" stroke="#ff8c00" stroke-width="2" stroke-linejoin="round"/>
<polyline points="629.0,798.8 634.0,797.5 656.5,797.0" fill="none" stroke="#32cd32" stroke-width="2" stroke-linejoin="round"/>
<polyline points="656.5,797.0 664.0,798.0 719.0,798.0 739.0,803.0 756.5,806.8 774.0,808.8 788.0,810.0" fill="none" stroke="#ff8c00" stroke-width="2" stroke-linejoin="round"/>
<polyline points="788.0,809.5 800.5,811.2" fill="none" stroke="#ff8c00" stroke-width="2" stroke-linejoin="round"/>
<polyline points="800.5,811.2 805.5,810.5 815.5,809.5" fill="none" stroke="#32cd32" stroke-width="2" stroke-linejoin="round"/>
<polyline points="815.5,809.5 820.5,811.2 838.0,811.2" fill="none" stroke="#ff8c00" stroke-width="2" stroke-linejoin="round"/>
<polyline points="838.0,811.2 848.0,809.5 863.0,805.0 883.0,797.5 903.0,792.5 918.0,790.0 935.5,789.5" fill="none" stroke="#32cd32" stroke-width="2" stroke-linejoin="round"/>
<polyline points="935.5,789.5 943.0,789.5 963.0,792.0 988.0,793.0 1013.0,796.2 1031.8,798.2 1043.0,806.2 1056.8,813.0 1065.5,813.0" fill="none" stroke="#ff8c00" stroke-width="2" stroke-linejoin="round"/>
<polyline points="1065.5,813.0 1070.5,812.5 1088.0,807.5 1110.5,801.2 1123.0,793.8 1138.0,783.8 1153.0,777.0 1168.0,773.2 1182.0,772.0" fill="none" stroke="#32cd32" stroke-width="2" stroke-linejoin="round"/>
<polyline points="1182.0,770.5 1192.0,771.5" fill="none" stroke="#32cd32" stroke-width="2" stroke-linejoin="round"/>
<polyline points="1192.0,771.5 1209.5,774.0 1254.5,777.8 1269.5,784.0 1282.0,796.0 1299.5,811.0 1317.0,828.5 1332.0,841.0 1347.0,856.0 1360.0,864.8" fill="none" stroke="#ff8c00" stroke-width="2" stroke-linejoin="round"/>
<polyline points="0.0,792.2 95.0,792.2 105.0,796.5 165.0,797.2 175.0,801.0 185.0,811.0 192.5,826.0 200.0,842.2 207.5,850.2 225.0,851.0 245.0,846.5 255.0,847.2 263.8,854.0 272.5,853.5 295.0,848.5 303.8,842.2 312.5,826.0 325.0,801.0 335.0,786.0 345.0,772.2 365.0,769.8 375.0,763.0 385.0,763.0 394.0,765.0 400.2,761.2 409.0,765.0 431.5,768.8 440.2,787.5 449.0,807.5 457.8,820.0 465.2,823.2 476.5,822.5 489.0,818.8 499.0,813.8 506.5,812.5 514.0,808.8 529.0,807.5 544.0,801.2 559.0,797.5 569.0,795.8 584.0,795.8 594.0,797.5 609.0,798.8 624.0,798.8 634.0,796.2 656.5,795.8 662.8,798.8 689.0,798.8 719.0,799.2 729.0,806.2 736.5,812.0 784.0,812.0 788.0,812.5 803.0,812.5 813.0,809.5 820.5,812.0 838.0,812.0 848.0,808.8 863.0,800.0 873.0,797.5 888.0,788.8 898.0,783.8 910.5,783.0 923.0,786.2 938.0,788.8 963.0,793.8 988.0,796.2 1008.0,798.8 1018.0,802.0 1031.8,803.0 1040.5,823.8 1048.0,825.2 1058.0,826.2 1065.5,820.0 1073.0,810.0 1083.0,803.0 1098.0,803.0 1110.5,798.8 1120.5,785.0 1128.0,770.0 1138.0,760.0 1145.5,758.0 1153.0,762.5 1165.5,767.0 1175.5,770.5 1182.0,769.8 1192.0,772.2 1207.0,777.2 1239.5,779.0 1254.5,784.8 1264.5,791.0 1273.2,803.5 1280.8,823.5 1289.5,828.5 1297.0,838.5 1303.2,851.0 1312.0,857.2 1319.5,860.5 1328.2,860.5 1334.5,872.2 1343.2,883.5 1360.0,884.0" fill="none" stroke="#c0c0c0" stroke-width="1.6" stroke-linejoin="round"/>
<rect x="0" y="603" width="1534" height="1" fill="#a9a9a9"/>
<rect x="0" y="605" width="1534" height="1" fill="#a9a9a9"/>
<rect x="0" y="747" width="1534" height="1" fill="#a9a9a9"/>
<rect x="0" y="749" width="1534" height="1" fill="#a9a9a9"/>
<line x1="736.5" y1="606" x2="736.5" y2="890" stroke="#c8a8b0" stroke-width="1" stroke-dasharray="2.5,2.5" opacity="0.85"/>
<line x1="1504.5" y1="606" x2="1504.5" y2="890" stroke="#c8c8c8" stroke-width="1" stroke-dasharray="2.5,2.5"/>
<line x1="800" y1="37" x2="800" y2="760" stroke="#ffee00" stroke-width="3.5"/>
<line x1="985" y1="31.5" x2="985" y2="754.5" stroke="#ffee00" stroke-width="3.5"/>
<line x1="1072.5" y1="27.3" x2="1072.5" y2="750" stroke="#ffee00" stroke-width="3.5"/>
<line x1="1215.8" y1="24.6" x2="1215.8" y2="747.5" stroke="#ffee00" stroke-width="3.5"/>
<line x1="1533.5" y1="0" x2="1533.5" y2="891" stroke="#b0b0b0" stroke-width="1"/>
<line x1="0" y1="891.2" x2="1534" y2="891.2" stroke="#b0b0b0" stroke-width="1"/>
<line x1="1534" y1="23.2" x2="1536.5" y2="23.2" stroke="#b0b0b0" stroke-width="1"/>
<text x="1539.7" y="26.7" font-family='"Liberation Sans", sans-serif' font-size="10" font-weight="normal" fill="#c4c4c4" text-anchor="start" textLength="32.3" lengthAdjust="spacingAndGlyphs">1.35905</text>
<line x1="1534" y1="57.1" x2="1536.5" y2="57.1" stroke="#b0b0b0" stroke-width="1"/>
<text x="1539.7" y="60.6" font-family='"Liberation Sans", sans-serif' font-size="10" font-weight="normal" fill="#c4c4c4" text-anchor="start" textLength="32.3" lengthAdjust="spacingAndGlyphs">1.35855</text>
<line x1="1534" y1="91.0" x2="1536.5" y2="91.0" stroke="#b0b0b0" stroke-width="1"/>
<text x="1539.7" y="94.5" font-family='"Liberation Sans", sans-serif' font-size="10" font-weight="normal" fill="#c4c4c4" text-anchor="start" textLength="32.3" lengthAdjust="spacingAndGlyphs">1.35805</text>
<line x1="1534" y1="124.9" x2="1536.5" y2="124.9" stroke="#b0b0b0" stroke-width="1"/>
<text x="1539.7" y="128.4" font-family='"Liberation Sans", sans-serif' font-size="10" font-weight="normal" fill="#c4c4c4" text-anchor="start" textLength="32.3" lengthAdjust="spacingAndGlyphs">1.35755</text>
<line x1="1534" y1="158.8" x2="1536.5" y2="158.8" stroke="#b0b0b0" stroke-width="1"/>
<text x="1539.7" y="162.3" font-family='"Liberation Sans", sans-serif' font-size="10" font-weight="normal" fill="#c4c4c4" text-anchor="start" textLength="32.3" lengthAdjust="spacingAndGlyphs">1.35705</text>
<line x1="1534" y1="192.7" x2="1536.5" y2="192.7" stroke="#b0b0b0" stroke-width="1"/>
<text x="1539.7" y="196.2" font-family='"Liberation Sans", sans-serif' font-size="10" font-weight="normal" fill="#c4c4c4" text-anchor="start" textLength="32.3" lengthAdjust="spacingAndGlyphs">1.35655</text>
<line x1="1534" y1="226.6" x2="1536.5" y2="226.6" stroke="#b0b0b0" stroke-width="1"/>
<text x="1539.7" y="230.1" font-family='"Liberation Sans", sans-serif' font-size="10" font-weight="normal" fill="#c4c4c4" text-anchor="start" textLength="32.3" lengthAdjust="spacingAndGlyphs">1.35605</text>
<line x1="1534" y1="260.5" x2="1536.5" y2="260.5" stroke="#b0b0b0" stroke-width="1"/>
<text x="1539.7" y="264.0" font-family='"Liberation Sans", sans-serif' font-size="10" font-weight="normal" fill="#c4c4c4" text-anchor="start" textLength="32.3" lengthAdjust="spacingAndGlyphs">1.35555</text>
<line x1="1534" y1="294.4" x2="1536.5" y2="294.4" stroke="#b0b0b0" stroke-width="1"/>
<text x="1539.7" y="297.9" font-family='"Liberation Sans", sans-serif' font-size="10" font-weight="normal" fill="#c4c4c4" text-anchor="start" textLength="32.3" lengthAdjust="spacingAndGlyphs">1.35505</text>
<line x1="1534" y1="328.3" x2="1536.5" y2="328.3" stroke="#b0b0b0" stroke-width="1"/>
<text x="1539.7" y="331.8" font-family='"Liberation Sans", sans-serif' font-size="10" font-weight="normal" fill="#c4c4c4" text-anchor="start" textLength="32.3" lengthAdjust="spacingAndGlyphs">1.35455</text>
<line x1="1534" y1="362.2" x2="1536.5" y2="362.2" stroke="#b0b0b0" stroke-width="1"/>
<text x="1539.7" y="365.7" font-family='"Liberation Sans", sans-serif' font-size="10" font-weight="normal" fill="#c4c4c4" text-anchor="start" textLength="32.3" lengthAdjust="spacingAndGlyphs">1.35405</text>
<line x1="1534" y1="396.1" x2="1536.5" y2="396.1" stroke="#b0b0b0" stroke-width="1"/>
<text x="1539.7" y="399.6" font-family='"Liberation Sans", sans-serif' font-size="10" font-weight="normal" fill="#c4c4c4" text-anchor="start" textLength="32.3" lengthAdjust="spacingAndGlyphs">1.35355</text>
<line x1="1534" y1="430.0" x2="1536.5" y2="430.0" stroke="#b0b0b0" stroke-width="1"/>
<text x="1539.7" y="433.5" font-family='"Liberation Sans", sans-serif' font-size="10" font-weight="normal" fill="#c4c4c4" text-anchor="start" textLength="32.3" lengthAdjust="spacingAndGlyphs">1.35305</text>
<line x1="1534" y1="463.9" x2="1536.5" y2="463.9" stroke="#b0b0b0" stroke-width="1"/>
<text x="1539.7" y="467.4" font-family='"Liberation Sans", sans-serif' font-size="10" font-weight="normal" fill="#c4c4c4" text-anchor="start" textLength="32.3" lengthAdjust="spacingAndGlyphs">1.35255</text>
<line x1="1534" y1="497.8" x2="1536.5" y2="497.8" stroke="#b0b0b0" stroke-width="1"/>
<text x="1539.7" y="501.3" font-family='"Liberation Sans", sans-serif' font-size="10" font-weight="normal" fill="#c4c4c4" text-anchor="start" textLength="32.3" lengthAdjust="spacingAndGlyphs">1.35205</text>
<line x1="1534" y1="531.7" x2="1536.5" y2="531.7" stroke="#b0b0b0" stroke-width="1"/>
<text x="1539.7" y="535.2" font-family='"Liberation Sans", sans-serif' font-size="10" font-weight="normal" fill="#c4c4c4" text-anchor="start" textLength="32.3" lengthAdjust="spacingAndGlyphs">1.35155</text>
<line x1="1534" y1="565.6" x2="1536.5" y2="565.6" stroke="#b0b0b0" stroke-width="1"/>
<text x="1539.7" y="569.1" font-family='"Liberation Sans", sans-serif' font-size="10" font-weight="normal" fill="#c4c4c4" text-anchor="start" textLength="32.3" lengthAdjust="spacingAndGlyphs">1.35105</text>
<line x1="1534" y1="599.5" x2="1536.5" y2="599.5" stroke="#b0b0b0" stroke-width="1"/>
<text x="1539.7" y="603.0" font-family='"Liberation Sans", sans-serif' font-size="10" font-weight="normal" fill="#c4c4c4" text-anchor="start" textLength="32.3" lengthAdjust="spacingAndGlyphs">1.35055</text>
<rect x="1535" y="318.1" width="41" height="10.9" fill="#c0c0c0"/>
<text x="1539.7" y="326.8" font-family='"Liberation Sans", sans-serif' font-size="10" font-weight="normal" fill="#101828" text-anchor="start" textLength="32.3" lengthAdjust="spacingAndGlyphs">1.35462</text>
<line x1="1534" y1="612.5" x2="1536.5" y2="612.5" stroke="#b0b0b0" stroke-width="1"/>
<text x="1537.5" y="615.2" font-family='"Liberation Sans", sans-serif' font-size="9.6" font-weight="normal" fill="#c4c4c4" text-anchor="start" >97.71716</text>
<line x1="1534" y1="670.5" x2="1536.5" y2="670.5" stroke="#b0b0b0" stroke-width="1"/>
<text x="1537.5" y="673.2" font-family='"Liberation Sans", sans-serif' font-size="9.6" font-weight="normal" fill="#c4c4c4" text-anchor="start" >55</text>
<line x1="1534" y1="685.5" x2="1536.5" y2="685.5" stroke="#b0b0b0" stroke-width="1"/>
<text x="1537.5" y="688.2" font-family='"Liberation Sans", sans-serif' font-size="9.6" font-weight="normal" fill="#c4c4c4" text-anchor="start" >45</text>
<line x1="1534" y1="740.5" x2="1536.5" y2="740.5" stroke="#b0b0b0" stroke-width="1"/>
<text x="1537.5" y="743.2" font-family='"Liberation Sans", sans-serif' font-size="9.6" font-weight="normal" fill="#c4c4c4" text-anchor="start" >3.41737</text>
<line x1="1534" y1="757" x2="1536.5" y2="757" stroke="#b0b0b0" stroke-width="1"/>
<text x="1537.5" y="759.7" font-family='"Liberation Sans", sans-serif' font-size="9.6" font-weight="normal" fill="#c4c4c4" text-anchor="start" >0.001</text>
<line x1="1534" y1="825.3" x2="1536.5" y2="825.3" stroke="#b0b0b0" stroke-width="1"/>
<text x="1537.5" y="828.0" font-family='"Liberation Sans", sans-serif' font-size="9.6" font-weight="normal" fill="#c4c4c4" text-anchor="start" >0.00</text>
<line x1="1534" y1="885" x2="1536.5" y2="885" stroke="#b0b0b0" stroke-width="1"/>
<text x="1537.5" y="887.7" font-family='"Liberation Sans", sans-serif' font-size="9.6" font-weight="normal" fill="#c4c4c4" text-anchor="start" >-0.0009</text>
<text x="2" y="762" font-family='"Liberation Sans", sans-serif' font-size="9.6" font-weight="normal" fill="#b8b8b8" text-anchor="start" textLength="251">RSI adaptive (14,34,9,14,0) -0.0008 -0.0008 -0.0005 -0.0005</text>
<line x1="8.5" y1="891.2" x2="8.5" y2="894" stroke="#b0b0b0" stroke-width="1"/>
<text x="7.0" y="904.3" font-family='"Liberation Sans", sans-serif' font-size="9.6" font-weight="normal" fill="#c4c4c4" text-anchor="start" textLength="50">8 Feb 01:15</text>
<line x1="72.5" y1="891.2" x2="72.5" y2="894" stroke="#b0b0b0" stroke-width="1"/>
<text x="71.0" y="904.3" font-family='"Liberation Sans", sans-serif' font-size="9.6" font-weight="normal" fill="#c4c4c4" text-anchor="start" textLength="50">8 Feb 03:15</text>
<line x1="136.5" y1="891.2" x2="136.5" y2="894" stroke="#b0b0b0" stroke-width="1"/>
<text x="135.0" y="904.3" font-family='"Liberation Sans", sans-serif' font-size="9.6" font-weight="normal" fill="#c4c4c4" text-anchor="start" textLength="50">8 Feb 05:15</text>
<line x1="200.5" y1="891.2" x2="200.5" y2="894" stroke="#b0b0b0" stroke-width="1"/>
<text x="199.0" y="904.3" font-family='"Liberation Sans", sans-serif' font-size="9.6" font-weight="normal" fill="#c4c4c4" text-anchor="start" textLength="50">8 Feb 07:15</text>
<line x1="264.5" y1="891.2" x2="264.5" y2="894" stroke="#b0b0b0" stroke-width="1"/>
<text x="263.0" y="904.3" font-family='"Liberation Sans", sans-serif' font-size="9.6" font-weight="normal" fill="#c4c4c4" text-anchor="start" textLength="50">8 Feb 09:15</text>
<line x1="328.5" y1="891.2" x2="328.5" y2="894" stroke="#b0b0b0" stroke-width="1"/>
<text x="327.0" y="904.3" font-family='"Liberation Sans", sans-serif' font-size="9.6" font-weight="normal" fill="#c4c4c4" text-anchor="start" textLength="50">8 Feb 11:15</text>
<line x1="392.5" y1="891.2" x2="392.5" y2="894" stroke="#b0b0b0" stroke-width="1"/>
<text x="391.0" y="904.3" font-family='"Liberation Sans", sans-serif' font-size="9.6" font-weight="normal" fill="#c4c4c4" text-anchor="start" textLength="50">8 Feb 13:15</text>
<line x1="456.5" y1="891.2" x2="456.5" y2="894" stroke="#b0b0b0" stroke-width="1"/>
<text x="455.0" y="904.3" font-family='"Liberation Sans", sans-serif' font-size="9.6" font-weight="normal" fill="#c4c4c4" text-anchor="start" textLength="50">8 Feb 15:15</text>
<line x1="520.5" y1="891.2" x2="520.5" y2="894" stroke="#b0b0b0" stroke-width="1"/>
<text x="519.0" y="904.3" font-family='"Liberation Sans", sans-serif' font-size="9.6" font-weight="normal" fill="#c4c4c4" text-anchor="start" textLength="50">8 Feb 17:15</text>
<line x1="584.5" y1="891.2" x2="584.5" y2="894" stroke="#b0b0b0" stroke-width="1"/>
<text x="583.0" y="904.3" font-family='"Liberation Sans", sans-serif' font-size="9.6" font-weight="normal" fill="#c4c4c4" text-anchor="start" textLength="50">8 Feb 19:15</text>
<line x1="648.5" y1="891.2" x2="648.5" y2="894" stroke="#b0b0b0" stroke-width="1"/>
<text x="647.0" y="904.3" font-family='"Liberation Sans", sans-serif' font-size="9.6" font-weight="normal" fill="#c4c4c4" text-anchor="start" textLength="50">8 Feb 21:15</text>
<line x1="712.5" y1="891.2" x2="712.5" y2="894" stroke="#b0b0b0" stroke-width="1"/>
<text x="711.0" y="904.3" font-family='"Liberation Sans", sans-serif' font-size="9.6" font-weight="normal" fill="#c4c4c4" text-anchor="start" textLength="50">8 Feb 23:15</text>
<line x1="776.5" y1="891.2" x2="776.5" y2="894" stroke="#b0b0b0" stroke-width="1"/>
<text x="775.0" y="904.3" font-family='"Liberation Sans", sans-serif' font-size="9.6" font-weight="normal" fill="#c4c4c4" text-anchor="start" textLength="50">9 Feb 01:15</text>
<line x1="840.5" y1="891.2" x2="840.5" y2="894" stroke="#b0b0b0" stroke-width="1"/>
<text x="839.0" y="904.3" font-family='"Liberation Sans", sans-serif' font-size="9.6" font-weight="normal" fill="#c4c4c4" text-anchor="start" textLength="50">9 Feb 03:15</text>
<line x1="904.5" y1="891.2" x2="904.5" y2="894" stroke="#b0b0b0" stroke-width="1"/>
<text x="903.0" y="904.3" font-family='"Liberation Sans", sans-serif' font-size="9.6" font-weight="normal" fill="#c4c4c4" text-anchor="start" textLength="50">9 Feb 05:15</text>
<line x1="968.5" y1="891.2" x2="968.5" y2="894" stroke="#b0b0b0" stroke-width="1"/>
<text x="967.0" y="904.3" font-family='"Liberation Sans", sans-serif' font-size="9.6" font-weight="normal" fill="#c4c4c4" text-anchor="start" textLength="50">9 Feb 07:15</text>
<line x1="1032.5" y1="891.2" x2="1032.5" y2="894" stroke="#b0b0b0" stroke-width="1"/>
<text x="1031.0" y="904.3" font-family='"Liberation Sans", sans-serif' font-size="9.6" font-weight="normal" fill="#c4c4c4" text-anchor="start" textLength="50">9 Feb 09:15</text>
<line x1="1096.5" y1="891.2" x2="1096.5" y2="894" stroke="#b0b0b0" stroke-width="1"/>
<text x="1095.0" y="904.3" font-family='"Liberation Sans", sans-serif' font-size="9.6" font-weight="normal" fill="#c4c4c4" text-anchor="start" textLength="50">9 Feb 11:15</text>
<line x1="1160.5" y1="891.2" x2="1160.5" y2="894" stroke="#b0b0b0" stroke-width="1"/>
<text x="1159.0" y="904.3" font-family='"Liberation Sans", sans-serif' font-size="9.6" font-weight="normal" fill="#c4c4c4" text-anchor="start" textLength="50">9 Feb 13:15</text>
<line x1="1224.5" y1="891.2" x2="1224.5" y2="894" stroke="#b0b0b0" stroke-width="1"/>
<text x="1223.0" y="904.3" font-family='"Liberation Sans", sans-serif' font-size="9.6" font-weight="normal" fill="#c4c4c4" text-anchor="start" textLength="50">9 Feb 15:15</text>
<line x1="1288.5" y1="891.2" x2="1288.5" y2="894" stroke="#b0b0b0" stroke-width="1"/>
<text x="1287.0" y="904.3" font-family='"Liberation Sans", sans-serif' font-size="9.6" font-weight="normal" fill="#c4c4c4" text-anchor="start" textLength="50">9 Feb 17:15</text>
<line x1="1352.5" y1="891.2" x2="1352.5" y2="894" stroke="#b0b0b0" stroke-width="1"/>
<text x="1351.0" y="904.3" font-family='"Liberation Sans", sans-serif' font-size="9.6" font-weight="normal" fill="#c4c4c4" text-anchor="start" textLength="50">9 Feb 19:15</text>
</svg>
</body></html>
